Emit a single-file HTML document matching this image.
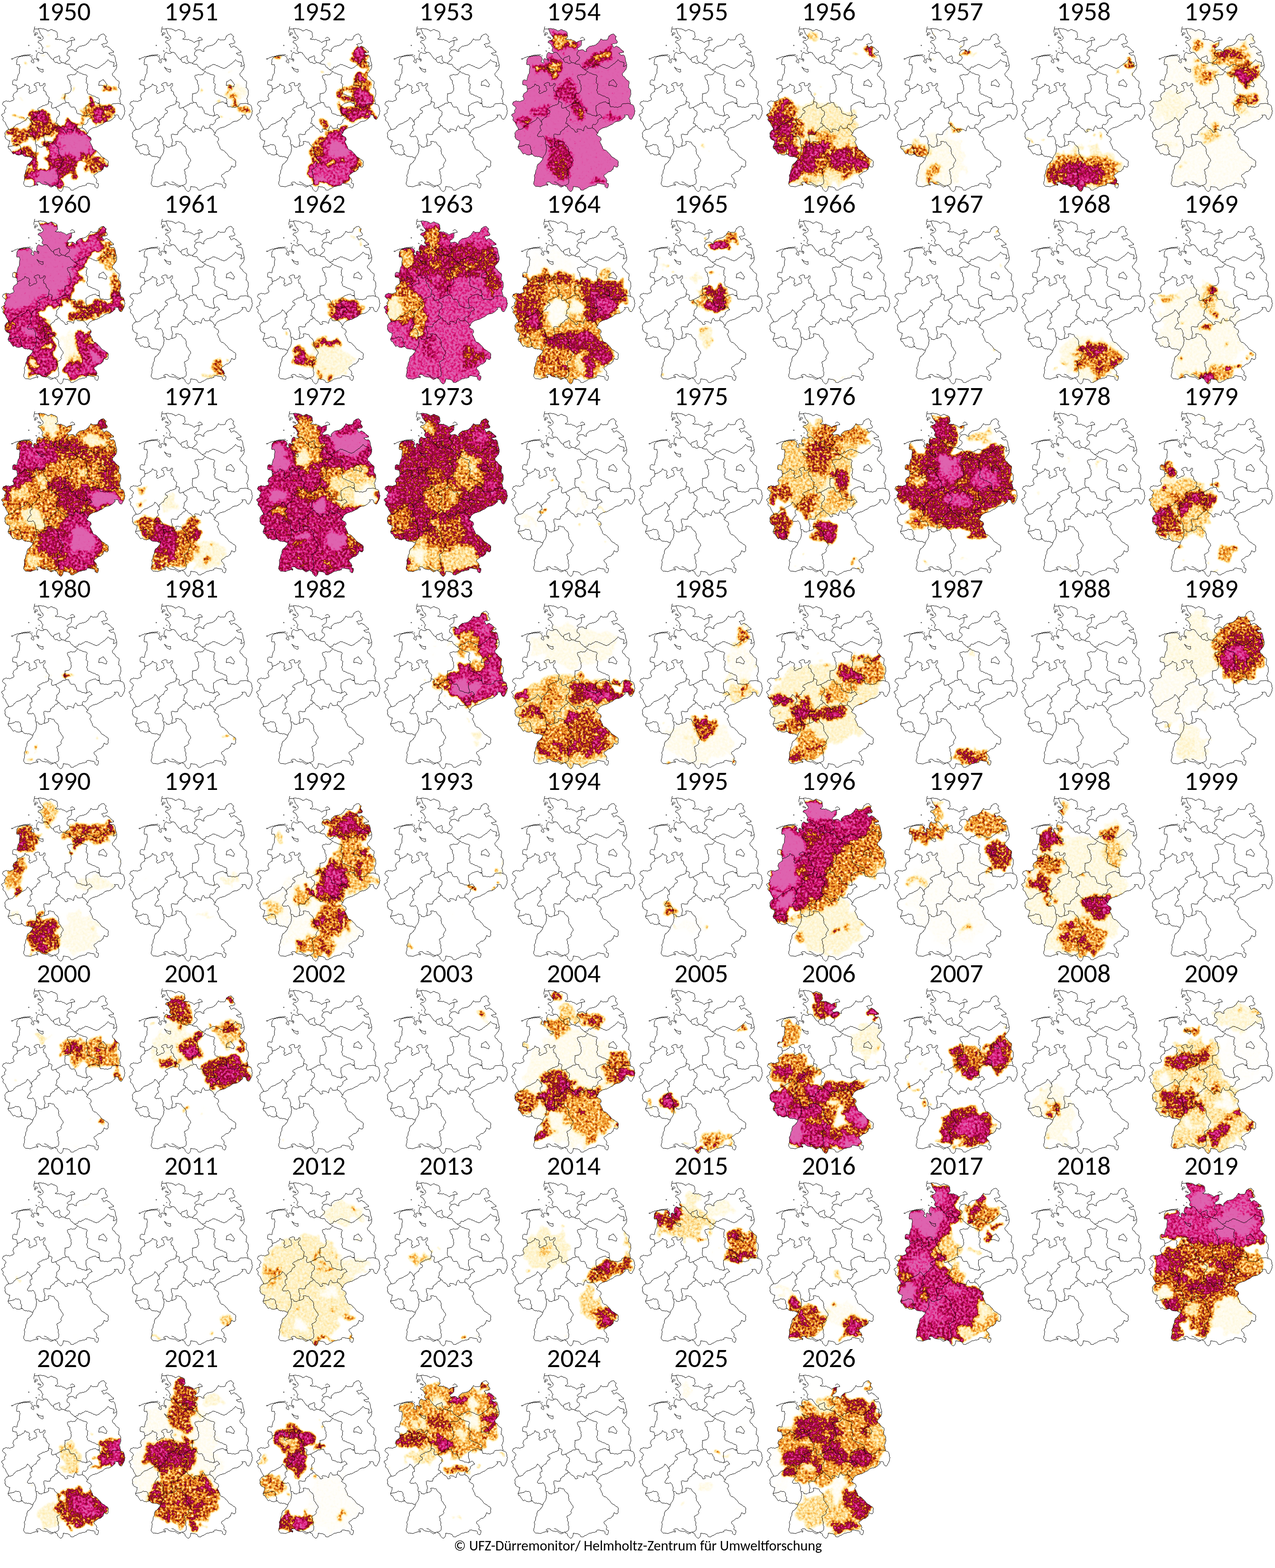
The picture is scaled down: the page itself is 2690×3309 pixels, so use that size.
<!DOCTYPE html><html><head><meta charset="utf-8"><title>UFZ Dürremonitor</title><style>html,body{margin:0;padding:0;background:#fff}body{width:2690px;height:3309px;overflow:hidden}svg{display:block}text{font-family:Carlito,"Liberation Sans",sans-serif}</style></head><body>
<svg width="2690" height="3309" viewBox="0 0 2690 3309">
<defs>
<clipPath id="de"><path d="M86.0 10.5 92.7 10.5 101.0 12.2 105.3 15.6 109.5 14.3 113.8 12.2 118.0 14.7 123.0 16.4 125.6 19.4 126.4 25.3 125.6 29.5 121.3 32.4 135.0 33.7 145.1 39.6 151.9 36.2 155.2 35.4 156.1 36.2 155.6 44.7 150.2 49.7 146.4 53.1 150.2 56.5 156.1 54.8 160.3 55.6 162.0 58.1 166.2 59.0 165.3 54.8 170.4 49.7 173.8 47.2 184.7 45.5 192.3 39.6 196.5 32.0 202.4 34.5 210.8 33.7 213.4 26.1 218.4 22.8 222.6 21.5 229.4 27.0 227.7 32.0 231.9 38.8 230.2 41.3 222.6 42.1 219.3 43.8 224.3 50.6 230.2 47.2 236.1 51.4 244.5 58.1 244.5 60.7 238.7 61.5 234.4 62.4 238.7 65.7 245.4 66.6 247.1 69.9 248.8 77.5 250.4 84.3 251.3 90.2 249.6 96.9 244.5 102.8 242.0 105.3 242.9 109.5 247.9 114.6 256.3 122.2 255.5 130.6 254.7 134.8 258.9 139.0 259.7 143.3 258.9 151.7 256.3 157.6 258.0 163.5 259.7 166.9 258.9 169.4 265.6 172.7 267.3 180.0 269.0 184.2 267.3 191.0 263.9 196.9 261.4 201.9 258.0 201.1 255.5 196.9 254.7 193.5 250.4 192.6 246.2 192.6 247.9 196.9 242.9 201.1 234.4 206.1 226.0 207.8 219.3 212.9 210.8 217.1 204.1 219.6 197.4 222.1 192.3 226.3 190.6 230.6 187.2 233.9 192.3 238.1 196.5 240.7 197.4 244.0 194.0 249.1 197.4 254.2 199.9 260.1 202.4 265.1 207.5 267.6 211.7 271.9 216.7 276.9 221.8 282.0 226.0 284.5 231.1 287.9 233.6 292.1 233.6 299.7 231.1 303.0 224.3 300.5 222.6 307.2 217.6 311.5 210.8 314.0 204.9 318.2 203.3 321.6 206.6 325.8 210.0 331.7 208.3 335.9 212.5 337.6 212.5 342.6 210.8 346.8 206.6 345.2 204.1 339.3 199.9 338.4 194.8 337.6 188.9 336.7 187.2 340.9 179.7 341.8 171.2 344.3 163.7 348.5 160.3 351.1 154.4 351.1 151.0 346.0 143.4 344.3 138.4 343.5 138.4 346.8 135.0 353.6 132.3 354.4 129.8 351.9 126.4 346.8 123.9 343.5 119.7 341.0 116.3 343.5 112.9 345.2 105.3 340.1 97.7 339.3 92.7 337.6 88.5 334.2 84.3 334.2 80.9 336.7 85.1 338.4 84.3 341.8 80.9 340.1 75.8 341.8 69.1 344.3 64.0 343.5 59.0 343.5 54.8 338.4 55.2 335.1 56.5 327.5 56.5 319.9 59.0 313.1 61.5 306.4 63.2 298.0 68.3 292.9 72.5 288.7 74.2 283.6 67.4 281.1 59.0 280.3 54.8 278.6 52.2 275.2 48.9 276.1 45.5 277.7 41.3 276.9 36.2 273.5 32.9 275.2 30.3 271.0 27.0 266.0 22.8 262.6 21.9 260.1 22.8 257.5 25.3 251.6 26.1 247.4 19.4 244.9 15.2 239.0 15.2 232.2 17.7 227.2 22.8 223.0 21.9 219.6 19.4 215.4 16.9 210.3 12.6 205.3 11.0 202.8 12.6 198.5 10.1 195.2 8.0 193.5 9.3 191.0 16.0 186.7 14.3 185.1 16.9 180.0 17.7 177.8 16.0 175.3 11.8 171.9 10.1 168.5 11.8 165.2 16.9 163.1 24.4 164.3 32.0 162.2 34.5 160.1 33.7 155.9 31.6 153.4 35.4 146.6 41.3 143.3 42.1 139.0 41.3 133.1 39.6 129.8 32.0 128.9 31.6 126.4 32.0 120.5 33.7 118.8 39.6 119.7 41.3 118.8 42.1 113.8 43.0 109.5 45.5 105.3 45.9 101.1 46.8 92.7 46.3 86.8 40.4 86.4 40.0 84.3 40.4 77.5 42.1 73.3 45.5 69.9 50.6 68.3 59.0 67.4 67.4 67.4 69.9 69.1 72.5 72.5 72.5 77.5 70.4 78.8 71.6 80.9 75.0 83.4 76.7 81.7 75.8 78.4 76.7 74.2 79.2 73.7 82.6 75.8 83.4 74.2 82.2 71.6 82.6 67.4 84.3 62.4 87.6 60.3 92.7 62.8 96.9 62.4 97.7 60.7 95.2 59.0 93.5 55.6 94.4 53.9 96.1 50.6 93.5 48.0 91.9 43.8 89.3 41.3 85.1 39.6 86.0 37.1 89.3 35.4 94.4 32.9 96.9 30.3 92.7 24.4 88.5 16.9Z"/></clipPath>
<g id="bd" fill="none" stroke="#000" stroke-width="0.95" stroke-linejoin="round"><path d="M86.0 10.5 88.2 10.2 90.5 9.9 92.7 10.5 94.7 11.2 97.0 10.6 98.9 11.8 101.0 12.2 102.6 13.1 104.4 13.8 105.3 15.6 107.4 15.0 109.5 14.3 111.3 12.5 113.8 12.2 116.0 13.3 118.0 14.7 120.7 14.8 123.0 16.4 124.9 17.4 125.6 19.4 126.0 21.3 125.6 23.4 126.4 25.3 126.7 27.5 125.6 29.5 123.7 31.4 121.3 32.4 123.2 32.8 125.1 33.6 127.2 33.1 129.1 33.0 131.0 34.2 133.1 32.7 135.0 33.7 136.4 35.2 138.6 35.3 140.4 36.1 142.1 37.0 143.6 38.3 145.1 39.6 147.1 39.3 148.2 37.4 150.3 37.2 151.9 36.2 155.2 35.4 156.1 36.2 155.7 38.3 156.1 40.5 155.6 42.6 155.6 44.7 154.8 46.5 153.4 47.8 151.9 48.8 150.2 49.7 148.1 51.2 146.4 53.1 148.4 54.7 150.2 56.5 152.1 55.6 154.2 55.5 156.1 54.8 158.2 55.1 160.3 55.6 162.0 58.1 164.2 58.2 166.2 59.0 166.3 56.8 165.3 54.8 166.8 53.8 167.5 51.9 169.2 51.1 170.4 49.7 172.1 48.5 173.8 47.2 175.7 47.6 177.5 47.0 179.2 46.0 181.2 46.9 182.8 45.1 184.7 45.5 186.1 44.2 188.0 43.5 188.9 41.5 190.8 40.8 192.3 39.6 192.6 37.3 194.7 35.9 195.9 34.1 196.5 32.0 198.4 33.0 200.2 34.3 202.4 34.5 204.5 34.0 206.6 34.4 208.7 34.1 210.8 33.7 211.6 31.8 212.0 29.9 213.3 28.2 213.4 26.1 215.5 25.7 216.7 23.9 218.4 22.8 220.6 22.4 222.6 21.5 224.8 22.3 225.8 24.5 227.5 25.8 229.4 27.0 227.7 29.2 227.7 32.0 228.3 34.0 230.1 35.2 231.0 37.0 231.9 38.8 230.2 41.3 228.3 41.2 226.5 42.6 224.5 42.0 222.6 42.1 221.2 43.5 219.3 43.8 221.1 45.1 222.4 46.7 222.7 49.2 224.3 50.6 225.9 48.9 228.0 47.9 230.2 47.2 231.8 48.1 232.8 49.8 235.1 49.7 236.1 51.4 237.8 52.7 239.4 54.1 240.7 56.0 242.5 57.2 244.5 58.1 244.5 60.7 242.5 60.3 240.7 61.6 238.7 61.5 236.6 62.1 234.4 62.4 236.0 63.3 236.8 65.1 238.7 65.7 240.8 66.8 243.3 65.7 245.4 66.6 246.8 68.0 247.1 69.9 248.0 71.7 248.4 73.6 248.4 75.6 248.8 77.5 249.2 79.8 250.3 81.9 250.4 84.3 251.6 86.1 251.1 88.2 251.3 90.2 251.0 92.5 250.1 94.6 249.6 96.9 247.7 97.8 246.8 99.6 245.8 101.3 244.5 102.8 242.0 105.3 242.2 107.4 242.9 109.5 244.3 111.4 246.8 112.3 247.9 114.6 248.8 116.4 250.4 117.5 251.6 118.9 253.1 120.1 255.0 120.8 256.3 122.2 256.3 124.3 256.6 126.5 255.5 128.5 255.5 130.6 255.9 132.8 254.7 134.8 256.7 135.6 257.9 137.2 258.9 139.0 259.9 141.0 259.7 143.3 259.8 145.4 260.1 147.6 260.0 149.7 258.9 151.7 258.6 153.9 257.8 155.9 256.3 157.6 257.1 159.5 258.3 161.3 258.0 163.5 258.2 165.5 259.7 166.9 258.9 169.4 260.5 170.4 262.5 170.5 264.1 171.5 265.6 172.7 266.3 174.5 266.7 176.3 267.5 178.0 267.3 180.0 267.6 182.3 269.0 184.2 267.6 186.3 267.9 188.7 267.3 191.0 266.2 193.0 265.7 195.3 263.9 196.9 263.7 198.9 262.5 200.4 261.4 201.9 258.0 201.1 256.4 199.2 255.5 196.9 254.7 193.5 252.7 192.5 250.4 192.6 248.3 193.2 246.2 192.6 247.8 194.4 247.9 196.9 245.7 197.7 244.5 199.7 242.9 201.1 241.5 202.6 239.5 203.0 238.2 204.8 236.1 205.1 234.4 206.1 232.1 205.7 230.1 206.3 228.0 207.0 226.0 207.8 224.6 209.4 222.8 210.5 221.3 212.1 219.3 212.9 217.4 213.3 215.9 214.5 214.0 215.0 212.6 216.5 210.8 217.1 208.7 218.4 206.1 218.2 204.1 219.6 201.6 219.6 199.4 220.7 197.4 222.1 195.3 223.1 193.6 224.5 192.3 226.3 191.0 228.3 190.6 230.6 189.2 232.6 187.2 233.9 188.9 235.3 190.8 236.5 192.3 238.1 194.8 238.7 196.5 240.7 197.4 244.0 197.0 246.2 195.5 247.6 194.0 249.1 195.5 250.6 196.0 252.7 197.4 254.2 197.5 256.5 199.2 258.1 199.9 260.1 200.0 262.1 200.8 263.8 202.4 265.1 203.7 266.7 205.9 266.5 207.5 267.6 209.3 268.7 210.7 270.1 211.7 271.9 213.8 273.2 215.4 274.9 216.7 276.9 217.8 278.3 218.7 280.0 220.1 281.2 221.8 282.0 223.9 283.2 226.0 284.5 227.5 285.9 229.1 287.2 231.1 287.9 233.0 289.6 233.6 292.1 233.3 294.0 232.9 295.9 233.1 297.8 233.6 299.7 232.0 301.1 231.1 303.0 229.4 302.4 227.5 302.3 226.2 300.6 224.3 300.5 224.0 302.8 222.6 304.8 222.6 307.2 220.4 308.0 219.4 310.2 217.6 311.5 216.0 312.3 213.9 312.0 212.4 313.0 210.8 314.0 209.7 315.5 208.2 316.6 206.7 317.7 204.9 318.2 203.4 319.6 203.3 321.6 204.5 324.0 206.6 325.8 208.3 327.4 208.4 330.0 210.0 331.7 208.3 333.5 208.3 335.9 210.3 337.0 212.5 337.6 212.8 340.1 212.5 342.6 211.6 344.7 210.8 346.8 208.5 346.6 206.6 345.2 205.0 343.6 205.7 340.9 204.1 339.3 202.1 338.6 199.9 338.4 197.4 338.0 194.8 337.6 193.0 336.5 190.8 337.1 188.9 336.7 187.4 338.5 187.2 340.9 185.3 340.5 183.5 341.9 181.6 342.0 179.7 341.8 177.7 342.8 175.6 343.5 173.3 343.5 171.2 344.3 169.5 345.7 167.5 346.5 165.9 348.0 163.7 348.5 161.6 349.2 160.3 351.1 158.3 351.4 156.4 351.2 154.4 351.1 153.4 349.3 152.7 347.3 151.0 346.0 149.1 345.7 147.4 344.4 145.3 344.7 143.4 344.3 140.9 343.8 138.4 343.5 138.4 346.8 137.5 348.5 137.5 350.6 135.9 351.9 135.0 353.6 132.3 354.4 129.8 351.9 128.2 350.5 126.8 349.0 126.4 346.8 125.6 344.8 123.9 343.5 121.5 342.8 119.7 341.0 118.0 342.3 116.3 343.5 114.4 344.0 112.9 345.2 111.4 344.1 109.7 343.4 108.4 342.1 106.9 341.0 105.3 340.1 103.5 339.4 101.4 340.4 99.6 339.4 97.7 339.3 95.1 338.9 92.7 337.6 91.0 336.8 90.2 335.0 88.5 334.2 86.4 334.2 84.3 334.2 82.5 335.4 80.9 336.7 82.8 338.0 85.1 338.4 84.3 341.8 82.9 340.3 80.9 340.1 78.4 341.0 75.8 341.8 73.5 342.4 71.3 343.5 69.1 344.3 66.6 343.9 64.0 343.5 61.5 343.2 59.0 343.5 57.5 341.9 56.2 340.1 54.8 338.4 55.2 335.1 55.5 333.2 56.6 331.4 56.5 329.5 56.5 327.5 57.2 325.6 57.3 323.7 56.1 321.8 56.5 319.9 57.2 318.2 58.5 316.8 58.9 315.0 59.0 313.1 59.2 310.6 60.0 308.4 61.5 306.4 61.8 304.3 61.6 302.0 62.3 300.0 63.2 298.0 63.9 296.2 66.0 295.7 67.4 294.5 68.3 292.9 70.2 292.0 70.7 289.7 72.5 288.7 73.7 286.3 74.2 283.6 72.6 282.7 70.6 283.0 69.3 281.1 67.4 281.1 65.4 280.1 63.2 281.2 61.2 279.7 59.0 280.3 56.8 279.6 54.8 278.6 53.5 276.9 52.2 275.2 48.9 276.1 46.8 276.1 45.5 277.7 43.5 276.7 41.3 276.9 39.3 276.3 37.8 274.7 36.2 273.5 34.5 274.3 32.9 275.2 31.4 273.3 30.3 271.0 28.7 269.6 27.8 267.8 27.0 266.0 25.9 264.6 23.7 264.4 22.8 262.6 21.9 260.1 22.8 257.5 23.7 255.6 24.4 253.5 25.3 251.6 24.8 249.3 26.1 247.4 23.8 246.9 21.7 245.5 19.4 244.9 18.4 243.4 16.7 242.4 17.0 240.0 15.2 239.0 15.7 236.7 16.0 234.5 15.2 232.2 15.4 230.2 16.5 228.7 17.7 227.2 18.9 225.2 21.4 224.8 22.8 223.0 21.9 219.6 20.3 217.7 19.4 215.4 18.0 214.0 17.6 212.1 16.9 210.3 16.0 208.2 14.5 206.6 12.6 205.3 11.0 202.8 11.4 200.5 12.6 198.5 10.8 197.2 10.1 195.2 8.0 193.5 9.3 191.0 11.4 190.6 12.7 189.0 14.5 188.1 16.0 186.7 14.3 185.1 14.5 183.1 15.3 181.3 16.9 180.0 17.7 177.8 16.0 175.3 14.8 173.9 13.1 173.1 11.8 171.9 10.3 170.5 10.1 168.5 11.7 167.2 11.8 165.2 13.6 164.7 15.4 164.3 16.9 163.1 18.9 162.7 20.5 164.3 22.6 163.2 24.4 164.3 26.5 164.4 28.2 163.2 30.0 162.4 32.0 162.2 34.5 160.1 34.2 158.0 33.7 155.9 31.6 153.4 33.2 152.1 33.1 149.8 33.9 148.0 35.4 146.6 37.4 145.5 39.1 144.0 41.3 143.3 41.0 141.0 42.1 139.0 41.2 137.1 40.8 135.2 41.3 133.1 40.0 131.7 39.6 129.8 37.7 129.9 35.8 129.7 34.0 128.7 32.0 128.9 31.6 126.4 31.4 124.4 31.9 122.5 32.0 120.5 33.7 118.8 35.8 118.5 37.7 119.1 39.6 119.7 41.3 118.8 40.8 116.2 42.1 113.8 42.1 111.6 43.0 109.5 43.5 107.0 45.5 105.3 46.1 103.2 45.9 101.1 46.2 99.0 45.8 96.8 46.5 94.8 46.8 92.7 47.4 90.7 45.8 88.8 46.3 86.8 44.4 86.1 42.4 86.7 40.4 86.4 40.0 84.3 40.1 82.0 40.9 79.8 40.4 77.5 41.1 75.3 42.1 73.3 43.8 71.6 45.5 69.9 48.2 69.4 50.6 68.3 52.8 68.9 54.8 67.6 57.0 68.2 59.0 67.4 61.1 67.8 63.2 67.6 65.3 67.2 67.4 67.4 69.9 69.1 71.4 70.6 72.5 72.5 73.3 75.0 72.5 77.5 70.4 78.8 71.6 80.9 73.7 81.6 75.0 83.4 76.7 81.7 75.8 78.4 75.5 76.1 76.7 74.2 79.2 73.7 80.7 75.1 82.6 75.8 83.4 74.2 82.2 71.6 82.0 69.5 82.6 67.4 82.9 64.7 84.3 62.4 85.5 60.7 87.6 60.3 89.0 61.7 90.7 62.6 92.7 62.8 94.8 62.9 96.9 62.4 97.7 60.7 95.2 59.0 94.0 57.5 93.5 55.6 94.4 53.9 94.8 52.0 96.1 50.6 94.5 49.6 93.5 48.0 92.6 45.9 91.9 43.8 90.2 43.0 89.3 41.3 87.2 40.5 85.1 39.6 86.0 37.1 87.5 35.9 89.3 35.4 91.4 35.3 93.1 34.5 94.4 32.9 95.7 31.7 96.9 30.3 95.5 29.1 95.5 26.9 93.5 26.1 92.7 24.4 91.4 22.7 89.8 21.1 89.4 18.9 88.5 16.9 87.6 14.8 86.8 12.6Z"/><path d="M97.7 60.7 99.8 60.4 102.0 60.3 103.6 61.2 105.3 61.9 105.7 63.9 107.5 65.1 108.4 66.7 109.5 68.3 110.5 70.1 112.2 71.3 112.9 73.3 114.6 74.2 116.2 75.2 118.0 75.8"/><path d="M118.0 75.8 118.0 74.2 119.7 71.6 123.0 70.8 125.1 69.9 127.2 69.1 129.8 67.4 130.4 69.2 131.5 70.8 130.6 74.2 130.8 76.4 131.5 78.4 133.6 79.6 134.8 81.7 132.3 83.4 129.8 84.3 127.2 83.4 125.6 80.9 124.0 81.8 122.2 82.2 119.7 80.1 118.5 78.1 118.0 75.8"/><path d="M150.2 56.5 149.4 58.2 147.7 59.1 146.8 60.7 146.3 63.2 146.4 65.7 147.3 67.4 149.5 67.8 150.9 69.2 151.9 70.8 151.7 73.5 150.2 75.8 148.8 77.5 146.5 78.0 145.5 80.2 143.4 80.9 142.7 82.6 142.2 84.3"/><path d="M134.8 81.7 138.0 82.5 140.4 82.7 142.2 84.3 144.1 85.0 146.0 85.2 147.9 86.1 150.0 85.3 151.9 86.0 153.1 87.5 153.5 89.3 154.6 90.9 156.1 92.0 158.0 92.8 158.9 94.6 160.7 95.5 162.0 96.9"/><path d="M162.0 96.9 164.3 97.5 166.4 95.5 168.7 96.1 169.9 94.2 170.4 91.9 172.6 91.0 175.0 92.2 177.1 91.0 178.3 89.1 180.9 89.2 182.4 87.7 184.3 86.8 185.6 85.1 186.9 86.7 189.2 86.1 190.8 87.0 192.2 88.4 194.2 88.4 195.9 89.1 197.4 90.2 199.8 90.6 201.6 92.5 204.1 92.7 205.9 93.9 207.9 94.3 210.0 94.4 211.4 92.9 213.8 92.8 215.1 91.0 216.8 89.9 218.2 88.4 220.1 87.6 221.8 86.4 223.1 84.8 225.2 84.3 226.6 83.0 227.5 81.3 229.1 80.1 230.8 79.1 231.7 77.4 232.8 75.8 234.2 77.0 235.3 78.4 237.1 79.7 239.1 80.6 241.4 80.4 243.1 81.8 245.4 81.7 245.8 84.0 245.2 86.1 244.7 88.2 243.7 90.2 246.2 90.1 248.3 88.8 250.4 87.6"/><path d="M162.0 96.9 163.8 97.7 165.4 99.0 167.1 99.9 168.7 101.1 167.6 102.5 166.5 103.9 164.9 105.0 164.3 106.8 162.8 107.9 160.7 107.4 158.5 108.3 156.5 107.6 154.4 107.0 152.8 107.9 151.2 108.9 149.1 108.5 147.6 109.5 146.8 111.7 147.9 113.2 148.0 115.3 149.3 116.7 149.8 118.6 151.9 119.3 152.7 121.0 152.0 123.1 152.7 125.2 153.0 127.1 154.1 128.7 155.2 130.2 154.4 133.6 155.5 135.7 155.0 138.1 155.2 140.3 153.9 141.9 153.2 143.9 151.8 145.4 150.0 146.4 148.0 146.9 146.0 147.1 143.9 147.9 141.7 147.9 142.6 149.6 141.8 151.8 142.3 154.1 141.7 156.3 141.8 158.4 141.7 160.6 142.3 162.4 142.7 164.3 144.3 165.6"/><path d="M168.7 101.1 170.4 102.0 171.8 103.3 173.4 104.4 175.6 104.1 177.1 105.3 179.1 106.4 181.2 107.0 183.4 107.5 185.6 107.9 187.7 108.6 188.9 110.4 188.8 112.5 187.2 113.8 187.4 115.9 186.8 118.0 187.6 120.1 187.2 122.2 186.4 124.7 187.8 125.8 189.4 126.7 190.6 128.1 189.7 130.3 189.3 132.5 189.8 134.8 189.4 137.1 187.8 139.1 188.1 141.6 189.7 143.3 189.2 145.8 190.6 147.5 192.2 148.9 194.7 148.6 196.2 150.3 198.2 150.8 199.8 151.6 201.3 152.9 203.4 152.4 204.9 153.6 206.6 154.2 208.0 155.7 209.9 156.1 211.9 156.4 213.4 157.6 214.7 159.6 213.8 162.3 215.1 164.3 214.2 167.7 210.8 167.7"/><path d="M187.2 195.1 187.5 192.8 188.9 190.9 188.3 188.3 187.2 185.8 186.6 183.9 186.1 182.0 186.4 180.0 186.4 177.7 186.4 175.5 186.4 173.2 188.1 172.7 189.6 171.6 191.0 170.5 192.3 169.2 194.0 168.5 195.5 167.4 197.5 167.5 198.9 166.2 200.8 166.2 202.4 165.2 204.6 165.3 206.6 164.3 207.6 165.9 208.9 167.2 210.8 167.7"/><path d="M210.8 167.7 212.9 168.4 215.1 168.5 215.1 170.9 216.1 173.0 216.7 175.3 219.0 175.3 221.2 175.1 223.5 175.3 225.4 176.6 227.8 175.8 229.9 176.0 231.9 177.0 233.7 175.9 235.6 175.3 237.5 174.8 239.5 174.4 240.0 172.5 240.5 170.8 242.0 169.4 244.1 168.9 246.2 168.6 248.3 168.8 250.4 168.5 252.6 168.2 254.7 168.2 256.8 168.6 258.9 169.4"/><path d="M144.3 165.6 146.2 166.6 148.2 166.5 150.2 166.5 150.4 168.4 150.8 170.1 152.6 171.4 152.6 173.3 153.5 174.9 155.2 176.0 157.1 176.2 159.1 176.0 161.0 175.7 162.8 176.6 163.8 178.2 163.7 180.3 165.3 181.6 166.6 183.7 166.7 186.1 167.0 188.4 168.7 190.0 171.0 190.0 172.9 190.9 174.8 191.0 176.4 191.8 177.7 193.5 179.7 193.4 181.6 193.5 183.5 194.1 185.3 194.9 187.2 195.1"/><path d="M187.2 195.1 188.6 193.6 190.8 193.3 192.4 192.2 194.0 191.0 195.5 192.7 197.3 194.0 198.0 196.4 199.9 197.7 197.7 198.0 196.0 199.3 194.0 200.2 192.6 201.3 191.5 202.8 189.8 203.6 190.7 205.7 189.8 207.8 188.6 209.6 186.9 211.1 185.6 212.9 183.3 213.2 181.3 212.0 179.6 213.4 178.8 215.4 178.8 219.0"/><path d="M178.8 219.0 179.9 221.2 182.6 221.7 183.9 223.8 186.2 225.4 187.2 228.0 188.4 230.0 190.6 230.6"/><path d="M127.4 214.5 130.8 215.3 131.5 217.3 132.7 218.8 134.0 220.2 135.8 221.2 137.9 221.7 139.1 223.6 140.9 224.6 141.9 226.6 142.6 228.8 146.0 228.8 148.5 227.1 146.0 224.6 147.6 222.1 150.1 222.6 152.7 222.9 154.7 223.1 156.3 224.1 157.7 225.4 160.3 226.3 160.8 224.0 160.9 221.6 162.0 219.5 163.2 217.4 164.5 215.3 166.3 216.5 167.4 218.3 167.9 220.4 169.8 221.0 171.9 220.8 173.8 221.2 175.5 220.5 177.3 220.1 178.8 219.0"/><path d="M144.3 165.6 142.6 168.1 140.1 167.7 137.5 168.1 135.7 168.8 135.1 170.8 133.3 171.5 131.0 171.5 129.6 173.7 127.4 174.0 125.6 174.6 124.4 176.4 122.4 176.6 120.1 177.0 118.1 178.3 114.8 178.3 113.9 176.6 113.3 174.1 113.9 171.5 114.7 169.5 114.8 167.3 112.2 165.6 110.0 164.8 107.7 164.8"/><path d="M122.4 176.6 123.4 178.2 124.0 180.0 125.2 182.0 127.0 183.3 129.1 184.2 130.4 185.6 130.8 187.5 130.1 190.1 130.8 192.6 128.9 194.1 128.0 196.5 125.7 197.6 124.5 200.0 124.9 202.7 124.7 204.7 124.0 206.6 123.2 208.4 122.4 210.3 124.5 210.9 126.6 211.1 127.4 214.5"/><path d="M41.8 137.5 44.0 137.6 46.1 136.3 48.3 136.5 49.6 135.0 51.5 134.5 52.5 132.7 54.8 132.7 56.1 131.2 57.0 129.4 57.0 127.3 59.4 128.0 61.2 130.7 63.6 130.2 65.8 131.4 67.6 134.0 66.7 135.7 66.4 137.7 65.8 139.5 67.3 140.8 69.0 141.8 66.8 142.8 65.8 145.0 67.6 147.3 69.7 147.5 71.3 145.9 73.2 145.5 75.2 144.6 76.4 142.7 79.2 143.2 81.1 142.2 82.4 140.4 82.8 138.3 81.5 136.7 80.7 134.6 81.5 132.6 79.8 130.8 77.3 130.3 76.9 128.0 78.9 126.2 81.5 125.2 83.9 124.1 86.5 124.3 88.4 125.2 88.4 127.0 88.1 128.9 88.8 130.7 90.9 131.4 92.8 130.2 94.8 130.3 96.5 129.1 96.6 126.7 98.5 125.7 100.4 126.6 99.6 128.4 100.4 130.3 98.8 132.4 96.7 134.0 96.2 136.3 97.6 138.6 97.1 141.3 98.9 142.1 100.8 142.7 101.9 144.9 102.5 147.1 102.2 149.6 104.2 150.4 104.9 152.5 106.4 153.8 109.1 156.1 108.5 158.4 108.2 160.7 107.4 162.7 107.7 164.8"/><path d="M107.7 164.8 107.2 166.9 107.2 169.0 104.9 169.9 103.0 171.5 101.0 170.9 99.3 172.5 97.4 173.0 95.4 172.4 93.7 174.9 91.3 175.2 89.3 176.8 87.0 177.4 85.9 178.8 84.4 179.9 85.3 182.5 88.7 183.3 89.5 186.7 87.8 189.2 85.5 189.5 83.6 190.9 83.3 192.9 81.9 194.3 81.1 197.6 78.7 197.8 76.9 199.3 75.5 200.4 74.5 202.2 72.6 202.7 71.5 205.1 71.8 207.7"/><path d="M71.8 207.7 70.1 206.4 69.0 204.7 68.4 202.7 66.9 200.9 65.1 199.3 62.5 197.6 61.8 199.9 60.7 201.9 59.0 203.6 56.9 204.9 54.8 206.1 52.8 207.1 50.6 207.8 49.2 209.5 47.2 210.3 44.7 211.3 42.1 212.0 39.7 212.7 37.9 214.5 36.6 216.3 34.5 217.1 33.7 219.6 31.9 221.3 29.5 222.1 27.4 223.2 25.1 223.2 22.8 223.0"/><path d="M71.8 207.7 72.0 209.7 72.6 211.6 72.6 213.6 70.3 213.9 68.4 215.3 68.8 217.4 68.4 219.5 69.2 221.5 70.4 223.3 71.0 225.4 69.7 226.7 67.6 227.0 66.7 228.8 66.0 230.9 64.2 232.2 63.4 234.3 62.5 236.4 64.1 237.3 65.1 238.9 67.1 238.2 69.3 238.1 71.4 238.7 73.2 237.2 75.2 237.2 76.1 238.8 77.5 240.0 78.5 241.5 78.5 243.5 79.4 245.2 80.4 247.0 80.2 249.0 79.9 251.2 79.4 253.3 81.1 255.8"/><path d="M81.1 255.8 81.3 257.8 82.0 259.7 81.9 261.7 82.5 263.9 81.2 265.9 81.8 268.0 81.1 270.1 80.6 272.5 79.5 274.6 78.5 276.8 77.2 278.4 75.6 279.7 75.3 281.9 74.2 283.6"/><path d="M81.1 255.8 83.4 255.3 85.3 256.6 86.8 258.0 87.0 260.0 89.5 260.2 92.0 260.8 94.0 260.5 95.6 258.9 97.5 258.3 99.6 258.3"/><path d="M99.6 258.3 98.4 255.9 98.8 253.3 99.1 250.6 100.4 248.2 99.2 246.1 99.4 243.5 97.9 241.5 97.6 239.2 97.8 236.9 97.1 234.7 98.4 233.2 100.4 233.0 102.7 233.3 104.9 234.2 107.2 233.9 110.6 233.9 110.9 231.9 111.9 230.1 111.4 228.0 113.4 227.5 114.6 225.7 115.9 224.1 118.1 223.8 119.6 222.7 119.8 220.5 121.5 219.5 122.8 217.9 125.1 218.2 126.6 217.0 127.4 214.5"/><path d="M99.6 258.3 101.6 257.6 103.5 256.8 105.5 256.3 107.2 254.9 108.0 251.6 106.3 249.0 108.2 248.3 110.3 248.7 112.2 248.2 113.7 249.5 115.3 250.1 117.5 249.5 119.0 250.7 119.6 252.9 120.7 254.9 122.1 256.1 123.6 257.1 124.6 258.8 126.6 259.2 127.4 261.5 128.4 263.6 129.1 265.9 128.3 268.0 128.9 270.1 129.5 272.2 129.1 274.3 130.4 275.6 131.2 277.2 132.9 278.3 133.3 280.2 134.6 282.0 135.8 283.9 137.5 285.3 138.1 287.6 138.4 290.0 136.7 291.5 135.4 293.2 134.8 295.4 133.1 298.0 134.8 300.5 133.1 302.5 131.5 304.7 129.4 305.2 127.8 307.0 125.6 307.2 124.7 309.8 126.3 312.0 126.4 314.8 126.0 317.1 127.6 318.9 128.2 321.0 128.1 323.2 127.6 325.4 128.1 327.5 129.4 329.5 128.9 331.7 129.0 333.7 128.8 335.7 128.1 337.6 126.2 339.2 123.9 340.1 122.0 341.4 119.7 341.0"/><path d="M21.9 260.1 24.4 259.2 26.3 258.8 28.2 258.5 30.2 258.5 32.0 257.5 34.0 257.4 35.7 256.7 37.0 255.1 38.8 254.6 40.9 255.8 43.3 255.3 45.5 255.8 47.0 257.3 48.0 259.2 48.7 261.8 48.0 264.3 49.3 266.0 50.6 267.6 50.8 269.9 49.7 271.9 50.6 275.2 52.2 275.2"/><path d="M213.4 128.1 213.8 126.1 214.4 124.2 214.2 122.2 216.1 121.8 217.9 121.1 219.3 119.7 221.3 118.5 223.5 118.0 224.1 120.2 226.0 121.3 227.2 123.1 228.2 125.0 229.5 126.7 231.1 128.1 229.5 130.4 229.4 133.1 227.3 133.0 225.4 132.3 223.5 131.5 221.1 130.3 218.4 129.8 215.9 130.0 213.4 130.6 213.4 128.1"/><path d="M82.6 91.4 84.7 92.4 86.1 94.7 88.5 95.2 90.3 96.2 92.2 96.4 94.1 96.4 96.1 96.1 95.6 98.7 96.5 101.1 94.8 102.4 92.7 102.0 90.7 100.5 88.5 99.4 87.0 98.2 86.5 96.1 84.9 95.0 83.9 93.3 82.6 91.9"/><path d="M84.5 74.2 86.6 74.5 87.0 78.0 85.5 79.5 84.5 77.5 84.5 74.2"/><path d="M30.8 74.6 33.0 73.7 34.9 72.2 37.1 71.2 39.2 71.1 41.0 69.4 43.2 70.0 45.1 69.0 47.2 68.7 49.2 68.5 51.0 67.3 53.0 67.1 55.0 66.6 57.0 66.2 59.0 66.1 61.2 66.2 63.2 65.5 65.4 66.0 67.4 64.9 69.9 65.7"/><path d="M78.6 6.0 77.6 9.0 77.6 11.4 76.6 13.5 76.7 16.0 76.3 18.5"/><path d="M77.8 11.5 79.9 11.2 82.0 11.0 84.1 11.4 86.0 10.5"/><path d="M153.5 32.0 154.6 30.2 156.1 28.7 158.3 28.8 160.3 29.9 162.1 31.9 162.8 34.5 160.2 34.2 157.8 35.4 155.2 35.4"/><path d="M98.0 333.2 99.6 334.4 101.9 334.3 103.4 335.7 105.0 337.0 107.0 337.6 108.3 339.4 110.1 340.3 112.0 341.0 113.8 342.4 116.4 341.8 118.2 343.3"/></g>
<g id="isl" fill="none" stroke="#000" stroke-width="0.9"><ellipse cx="81.5" cy="20.5" rx="3" ry="1.8"/><ellipse cx="78.8" cy="23.5" rx="1.2" ry="2"/><ellipse cx="86.5" cy="28.7" rx="1.8" ry="1.3"/><ellipse cx="90" cy="30.5" rx="1.3" ry="1"/><ellipse cx="65.7" cy="45.9" rx="0.8" ry="0.8"/><ellipse cx="87.6" cy="51.8" rx="0.6" ry="0.6"/><ellipse cx="80.9" cy="57.3" rx="0.5" ry="0.5"/><ellipse cx="82.2" cy="58.1" rx="0.5" ry="0.5"/><ellipse cx="72.5" cy="67.8" rx="0.6" ry="0.5"/><ellipse cx="30.3" cy="74.4" rx="1.2" ry="0.8"/></g>
<filter id="f0" x="-5" y="-5" width="285" height="370" filterUnits="userSpaceOnUse" color-interpolation-filters="sRGB">
<feTurbulence type="fractalNoise" baseFrequency="0.045" numOctaves="2" seed="103" result="dn"/>
<feDisplacementMap in="SourceGraphic" in2="dn" scale="45" xChannelSelector="R" yChannelSelector="G" result="disp"/>
<feGaussianBlur in="disp" stdDeviation="2.5" result="b"/>
<feComponentTransfer in="b" result="A"><feFuncR type="table" tableValues="0.000 0.050 0.120 0.300 0.500 0.650 0.700 0.650 0.550 0.350 0.200"/><feFuncG type="table" tableValues="0.000 0.050 0.120 0.300 0.500 0.650 0.700 0.650 0.550 0.350 0.200"/><feFuncB type="table" tableValues="0.000 0.050 0.120 0.300 0.500 0.650 0.700 0.650 0.550 0.350 0.200"/></feComponentTransfer>
<feTurbulence type="fractalNoise" baseFrequency="0.2" numOctaves="3" seed="3" result="n"/>
<feColorMatrix in="n" type="matrix" values="1 0 0 0 0 1 0 0 0 0 1 0 0 0 0 0 0 0 0 1" result="n2"/>
<feComposite in="A" in2="n2" operator="arithmetic" k1="1" k2="-0.5" k3="0" k4="0.5" result="m"/>
<feComposite in="b" in2="m" operator="arithmetic" k1="0" k2="1" k3="1.4" k4="-0.71" result="c"/>
<feComponentTransfer in="c"><feFuncR type="table" tableValues="1.000 1.000 1.000 1.000 1.000 1.000 1.000 0.999 0.998 0.997 0.996 0.992 0.985 0.978 0.971 0.956 0.934 0.913 0.891 0.835 0.755 0.675 0.608 0.559 0.510 0.480 0.529 0.578 0.627 0.683 0.738 0.793 0.826 0.855 0.883 0.889 0.881 0.872 0.871 0.871 0.871"/><feFuncG type="table" tableValues="1.000 1.000 1.000 1.000 0.997 0.990 0.983 0.970 0.952 0.935 0.917 0.876 0.820 0.765 0.709 0.651 0.592 0.533 0.475 0.400 0.314 0.228 0.157 0.108 0.059 0.020 0.020 0.020 0.020 0.032 0.044 0.056 0.083 0.114 0.145 0.203 0.280 0.357 0.378 0.385 0.392"/><feFuncB type="table" tableValues="1.000 0.999 0.998 0.997 0.980 0.941 0.902 0.850 0.791 0.731 0.671 0.585 0.482 0.379 0.276 0.212 0.173 0.133 0.094 0.071 0.059 0.047 0.054 0.091 0.127 0.163 0.194 0.224 0.255 0.304 0.353 0.402 0.446 0.489 0.532 0.576 0.621 0.666 0.679 0.685 0.690"/><feFuncA type="linear" slope="0" intercept="1"/></feComponentTransfer>
</filter>
<filter id="f1" x="-5" y="-5" width="285" height="370" filterUnits="userSpaceOnUse" color-interpolation-filters="sRGB">
<feTurbulence type="fractalNoise" baseFrequency="0.045" numOctaves="2" seed="110" result="dn"/>
<feDisplacementMap in="SourceGraphic" in2="dn" scale="45" xChannelSelector="R" yChannelSelector="G" result="disp"/>
<feGaussianBlur in="disp" stdDeviation="2.5" result="b"/>
<feComponentTransfer in="b" result="A"><feFuncR type="table" tableValues="0.000 0.050 0.120 0.300 0.500 0.650 0.700 0.650 0.550 0.350 0.200"/><feFuncG type="table" tableValues="0.000 0.050 0.120 0.300 0.500 0.650 0.700 0.650 0.550 0.350 0.200"/><feFuncB type="table" tableValues="0.000 0.050 0.120 0.300 0.500 0.650 0.700 0.650 0.550 0.350 0.200"/></feComponentTransfer>
<feTurbulence type="fractalNoise" baseFrequency="0.2" numOctaves="3" seed="10" result="n"/>
<feColorMatrix in="n" type="matrix" values="1 0 0 0 0 1 0 0 0 0 1 0 0 0 0 0 0 0 0 1" result="n2"/>
<feComposite in="A" in2="n2" operator="arithmetic" k1="1" k2="-0.5" k3="0" k4="0.5" result="m"/>
<feComposite in="b" in2="m" operator="arithmetic" k1="0" k2="1" k3="1.4" k4="-0.71" result="c"/>
<feComponentTransfer in="c"><feFuncR type="table" tableValues="1.000 1.000 1.000 1.000 1.000 1.000 1.000 0.999 0.998 0.997 0.996 0.992 0.985 0.978 0.971 0.956 0.934 0.913 0.891 0.835 0.755 0.675 0.608 0.559 0.510 0.480 0.529 0.578 0.627 0.683 0.738 0.793 0.826 0.855 0.883 0.889 0.881 0.872 0.871 0.871 0.871"/><feFuncG type="table" tableValues="1.000 1.000 1.000 1.000 0.997 0.990 0.983 0.970 0.952 0.935 0.917 0.876 0.820 0.765 0.709 0.651 0.592 0.533 0.475 0.400 0.314 0.228 0.157 0.108 0.059 0.020 0.020 0.020 0.020 0.032 0.044 0.056 0.083 0.114 0.145 0.203 0.280 0.357 0.378 0.385 0.392"/><feFuncB type="table" tableValues="1.000 0.999 0.998 0.997 0.980 0.941 0.902 0.850 0.791 0.731 0.671 0.585 0.482 0.379 0.276 0.212 0.173 0.133 0.094 0.071 0.059 0.047 0.054 0.091 0.127 0.163 0.194 0.224 0.255 0.304 0.353 0.402 0.446 0.489 0.532 0.576 0.621 0.666 0.679 0.685 0.690"/><feFuncA type="linear" slope="0" intercept="1"/></feComponentTransfer>
</filter>
<filter id="f2" x="-5" y="-5" width="285" height="370" filterUnits="userSpaceOnUse" color-interpolation-filters="sRGB">
<feTurbulence type="fractalNoise" baseFrequency="0.045" numOctaves="2" seed="117" result="dn"/>
<feDisplacementMap in="SourceGraphic" in2="dn" scale="45" xChannelSelector="R" yChannelSelector="G" result="disp"/>
<feGaussianBlur in="disp" stdDeviation="2.5" result="b"/>
<feComponentTransfer in="b" result="A"><feFuncR type="table" tableValues="0.000 0.050 0.120 0.300 0.500 0.650 0.700 0.650 0.550 0.350 0.200"/><feFuncG type="table" tableValues="0.000 0.050 0.120 0.300 0.500 0.650 0.700 0.650 0.550 0.350 0.200"/><feFuncB type="table" tableValues="0.000 0.050 0.120 0.300 0.500 0.650 0.700 0.650 0.550 0.350 0.200"/></feComponentTransfer>
<feTurbulence type="fractalNoise" baseFrequency="0.2" numOctaves="3" seed="17" result="n"/>
<feColorMatrix in="n" type="matrix" values="1 0 0 0 0 1 0 0 0 0 1 0 0 0 0 0 0 0 0 1" result="n2"/>
<feComposite in="A" in2="n2" operator="arithmetic" k1="1" k2="-0.5" k3="0" k4="0.5" result="m"/>
<feComposite in="b" in2="m" operator="arithmetic" k1="0" k2="1" k3="1.4" k4="-0.71" result="c"/>
<feComponentTransfer in="c"><feFuncR type="table" tableValues="1.000 1.000 1.000 1.000 1.000 1.000 1.000 0.999 0.998 0.997 0.996 0.992 0.985 0.978 0.971 0.956 0.934 0.913 0.891 0.835 0.755 0.675 0.608 0.559 0.510 0.480 0.529 0.578 0.627 0.683 0.738 0.793 0.826 0.855 0.883 0.889 0.881 0.872 0.871 0.871 0.871"/><feFuncG type="table" tableValues="1.000 1.000 1.000 1.000 0.997 0.990 0.983 0.970 0.952 0.935 0.917 0.876 0.820 0.765 0.709 0.651 0.592 0.533 0.475 0.400 0.314 0.228 0.157 0.108 0.059 0.020 0.020 0.020 0.020 0.032 0.044 0.056 0.083 0.114 0.145 0.203 0.280 0.357 0.378 0.385 0.392"/><feFuncB type="table" tableValues="1.000 0.999 0.998 0.997 0.980 0.941 0.902 0.850 0.791 0.731 0.671 0.585 0.482 0.379 0.276 0.212 0.173 0.133 0.094 0.071 0.059 0.047 0.054 0.091 0.127 0.163 0.194 0.224 0.255 0.304 0.353 0.402 0.446 0.489 0.532 0.576 0.621 0.666 0.679 0.685 0.690"/><feFuncA type="linear" slope="0" intercept="1"/></feComponentTransfer>
</filter>
<filter id="f3" x="-5" y="-5" width="285" height="370" filterUnits="userSpaceOnUse" color-interpolation-filters="sRGB">
<feTurbulence type="fractalNoise" baseFrequency="0.045" numOctaves="2" seed="124" result="dn"/>
<feDisplacementMap in="SourceGraphic" in2="dn" scale="45" xChannelSelector="R" yChannelSelector="G" result="disp"/>
<feGaussianBlur in="disp" stdDeviation="2.5" result="b"/>
<feComponentTransfer in="b" result="A"><feFuncR type="table" tableValues="0.000 0.050 0.120 0.300 0.500 0.650 0.700 0.650 0.550 0.350 0.200"/><feFuncG type="table" tableValues="0.000 0.050 0.120 0.300 0.500 0.650 0.700 0.650 0.550 0.350 0.200"/><feFuncB type="table" tableValues="0.000 0.050 0.120 0.300 0.500 0.650 0.700 0.650 0.550 0.350 0.200"/></feComponentTransfer>
<feTurbulence type="fractalNoise" baseFrequency="0.2" numOctaves="3" seed="24" result="n"/>
<feColorMatrix in="n" type="matrix" values="1 0 0 0 0 1 0 0 0 0 1 0 0 0 0 0 0 0 0 1" result="n2"/>
<feComposite in="A" in2="n2" operator="arithmetic" k1="1" k2="-0.5" k3="0" k4="0.5" result="m"/>
<feComposite in="b" in2="m" operator="arithmetic" k1="0" k2="1" k3="1.4" k4="-0.71" result="c"/>
<feComponentTransfer in="c"><feFuncR type="table" tableValues="1.000 1.000 1.000 1.000 1.000 1.000 1.000 0.999 0.998 0.997 0.996 0.992 0.985 0.978 0.971 0.956 0.934 0.913 0.891 0.835 0.755 0.675 0.608 0.559 0.510 0.480 0.529 0.578 0.627 0.683 0.738 0.793 0.826 0.855 0.883 0.889 0.881 0.872 0.871 0.871 0.871"/><feFuncG type="table" tableValues="1.000 1.000 1.000 1.000 0.997 0.990 0.983 0.970 0.952 0.935 0.917 0.876 0.820 0.765 0.709 0.651 0.592 0.533 0.475 0.400 0.314 0.228 0.157 0.108 0.059 0.020 0.020 0.020 0.020 0.032 0.044 0.056 0.083 0.114 0.145 0.203 0.280 0.357 0.378 0.385 0.392"/><feFuncB type="table" tableValues="1.000 0.999 0.998 0.997 0.980 0.941 0.902 0.850 0.791 0.731 0.671 0.585 0.482 0.379 0.276 0.212 0.173 0.133 0.094 0.071 0.059 0.047 0.054 0.091 0.127 0.163 0.194 0.224 0.255 0.304 0.353 0.402 0.446 0.489 0.532 0.576 0.621 0.666 0.679 0.685 0.690"/><feFuncA type="linear" slope="0" intercept="1"/></feComponentTransfer>
</filter>
<filter id="f4" x="-5" y="-5" width="285" height="370" filterUnits="userSpaceOnUse" color-interpolation-filters="sRGB">
<feTurbulence type="fractalNoise" baseFrequency="0.045" numOctaves="2" seed="131" result="dn"/>
<feDisplacementMap in="SourceGraphic" in2="dn" scale="45" xChannelSelector="R" yChannelSelector="G" result="disp"/>
<feGaussianBlur in="disp" stdDeviation="2.5" result="b"/>
<feComponentTransfer in="b" result="A"><feFuncR type="table" tableValues="0.000 0.050 0.120 0.300 0.500 0.650 0.700 0.650 0.550 0.350 0.200"/><feFuncG type="table" tableValues="0.000 0.050 0.120 0.300 0.500 0.650 0.700 0.650 0.550 0.350 0.200"/><feFuncB type="table" tableValues="0.000 0.050 0.120 0.300 0.500 0.650 0.700 0.650 0.550 0.350 0.200"/></feComponentTransfer>
<feTurbulence type="fractalNoise" baseFrequency="0.2" numOctaves="3" seed="31" result="n"/>
<feColorMatrix in="n" type="matrix" values="1 0 0 0 0 1 0 0 0 0 1 0 0 0 0 0 0 0 0 1" result="n2"/>
<feComposite in="A" in2="n2" operator="arithmetic" k1="1" k2="-0.5" k3="0" k4="0.5" result="m"/>
<feComposite in="b" in2="m" operator="arithmetic" k1="0" k2="1" k3="1.4" k4="-0.71" result="c"/>
<feComponentTransfer in="c"><feFuncR type="table" tableValues="1.000 1.000 1.000 1.000 1.000 1.000 1.000 0.999 0.998 0.997 0.996 0.992 0.985 0.978 0.971 0.956 0.934 0.913 0.891 0.835 0.755 0.675 0.608 0.559 0.510 0.480 0.529 0.578 0.627 0.683 0.738 0.793 0.826 0.855 0.883 0.889 0.881 0.872 0.871 0.871 0.871"/><feFuncG type="table" tableValues="1.000 1.000 1.000 1.000 0.997 0.990 0.983 0.970 0.952 0.935 0.917 0.876 0.820 0.765 0.709 0.651 0.592 0.533 0.475 0.400 0.314 0.228 0.157 0.108 0.059 0.020 0.020 0.020 0.020 0.032 0.044 0.056 0.083 0.114 0.145 0.203 0.280 0.357 0.378 0.385 0.392"/><feFuncB type="table" tableValues="1.000 0.999 0.998 0.997 0.980 0.941 0.902 0.850 0.791 0.731 0.671 0.585 0.482 0.379 0.276 0.212 0.173 0.133 0.094 0.071 0.059 0.047 0.054 0.091 0.127 0.163 0.194 0.224 0.255 0.304 0.353 0.402 0.446 0.489 0.532 0.576 0.621 0.666 0.679 0.685 0.690"/><feFuncA type="linear" slope="0" intercept="1"/></feComponentTransfer>
</filter>
<filter id="f5" x="-5" y="-5" width="285" height="370" filterUnits="userSpaceOnUse" color-interpolation-filters="sRGB">
<feTurbulence type="fractalNoise" baseFrequency="0.045" numOctaves="2" seed="138" result="dn"/>
<feDisplacementMap in="SourceGraphic" in2="dn" scale="45" xChannelSelector="R" yChannelSelector="G" result="disp"/>
<feGaussianBlur in="disp" stdDeviation="2.5" result="b"/>
<feComponentTransfer in="b" result="A"><feFuncR type="table" tableValues="0.000 0.050 0.120 0.300 0.500 0.650 0.700 0.650 0.550 0.350 0.200"/><feFuncG type="table" tableValues="0.000 0.050 0.120 0.300 0.500 0.650 0.700 0.650 0.550 0.350 0.200"/><feFuncB type="table" tableValues="0.000 0.050 0.120 0.300 0.500 0.650 0.700 0.650 0.550 0.350 0.200"/></feComponentTransfer>
<feTurbulence type="fractalNoise" baseFrequency="0.2" numOctaves="3" seed="38" result="n"/>
<feColorMatrix in="n" type="matrix" values="1 0 0 0 0 1 0 0 0 0 1 0 0 0 0 0 0 0 0 1" result="n2"/>
<feComposite in="A" in2="n2" operator="arithmetic" k1="1" k2="-0.5" k3="0" k4="0.5" result="m"/>
<feComposite in="b" in2="m" operator="arithmetic" k1="0" k2="1" k3="1.4" k4="-0.71" result="c"/>
<feComponentTransfer in="c"><feFuncR type="table" tableValues="1.000 1.000 1.000 1.000 1.000 1.000 1.000 0.999 0.998 0.997 0.996 0.992 0.985 0.978 0.971 0.956 0.934 0.913 0.891 0.835 0.755 0.675 0.608 0.559 0.510 0.480 0.529 0.578 0.627 0.683 0.738 0.793 0.826 0.855 0.883 0.889 0.881 0.872 0.871 0.871 0.871"/><feFuncG type="table" tableValues="1.000 1.000 1.000 1.000 0.997 0.990 0.983 0.970 0.952 0.935 0.917 0.876 0.820 0.765 0.709 0.651 0.592 0.533 0.475 0.400 0.314 0.228 0.157 0.108 0.059 0.020 0.020 0.020 0.020 0.032 0.044 0.056 0.083 0.114 0.145 0.203 0.280 0.357 0.378 0.385 0.392"/><feFuncB type="table" tableValues="1.000 0.999 0.998 0.997 0.980 0.941 0.902 0.850 0.791 0.731 0.671 0.585 0.482 0.379 0.276 0.212 0.173 0.133 0.094 0.071 0.059 0.047 0.054 0.091 0.127 0.163 0.194 0.224 0.255 0.304 0.353 0.402 0.446 0.489 0.532 0.576 0.621 0.666 0.679 0.685 0.690"/><feFuncA type="linear" slope="0" intercept="1"/></feComponentTransfer>
</filter>
</defs>
<rect width="2690" height="3309" fill="#fff"/>
<text x="134.5" y="42.6" font-size="56" text-anchor="middle" textLength="113.5" lengthAdjust="spacingAndGlyphs" fill="#000">1950</text>
<g transform="translate(-5.0 50.0)">
<g clip-path="url(#de)"><g filter="url(#f0)"><rect x="-40" y="-40" width="360" height="440" fill="#000"/>

<ellipse cx="215.7" cy="185.4" rx="37.1" ry="23.6" fill="rgb(89,89,89)"/>
<ellipse cx="182.0" cy="202.3" rx="13.5" ry="6.7" fill="rgb(115,115,115)"/>
<ellipse cx="89.3" cy="215.7" rx="28.7" ry="28.7" fill="rgb(128,128,128)"/>
<ellipse cx="48.8" cy="236.0" rx="20.2" ry="15.2" fill="rgb(128,128,128)"/>
<ellipse cx="55.6" cy="278.1" rx="27.0" ry="15.2" fill="rgb(140,140,140)"/>
<ellipse cx="161.8" cy="257.9" rx="47.2" ry="32.0" fill="rgb(204,204,204)"/>
<ellipse cx="106.1" cy="328.7" rx="32.0" ry="25.3" fill="rgb(204,204,204)"/>
<ellipse cx="133.1" cy="286.5" rx="33.7" ry="43.8" fill="rgb(178,178,178)"/>
<ellipse cx="198.8" cy="295.0" rx="25.3" ry="18.5" fill="rgb(128,128,128)"/>
<ellipse cx="161.8" cy="256.2" rx="38.8" ry="25.3" fill="rgb(255,255,255)"/>
<ellipse cx="99.4" cy="325.3" rx="30.3" ry="21.9" fill="rgb(255,255,255)"/>
<ellipse cx="75.8" cy="320.2" rx="10.1" ry="10.1" fill="rgb(217,217,217)"/>
<ellipse cx="123.0" cy="273.0" rx="15.2" ry="15.2" fill="rgb(230,230,230)"/>
<ellipse cx="222.4" cy="305.1" rx="11.8" ry="8.4" fill="rgb(191,191,191)"/>
<ellipse cx="212.3" cy="279.8" rx="8.4" ry="6.7" fill="rgb(204,204,204)"/>
<ellipse cx="43.8" cy="278.1" rx="18.5" ry="10.1" fill="rgb(199,199,199)"/>
<ellipse cx="69.0" cy="300.0" rx="11.8" ry="10.1" fill="rgb(191,191,191)"/>
<ellipse cx="35.3" cy="234.3" rx="8.4" ry="8.4" fill="rgb(178,178,178)"/>
<ellipse cx="92.6" cy="197.2" rx="10.1" ry="11.8" fill="rgb(204,204,204)"/>
<ellipse cx="82.5" cy="222.5" rx="10.1" ry="8.4" fill="rgb(191,191,191)"/>
<ellipse cx="131.4" cy="219.1" rx="15.2" ry="11.8" fill="rgb(178,178,178)"/>
<ellipse cx="75.8" cy="190.5" rx="10.1" ry="6.7" fill="rgb(140,140,140)"/>
<ellipse cx="43.8" cy="192.1" rx="6.7" ry="4.2" fill="rgb(191,191,191)"/>
<ellipse cx="47.1" cy="161.8" rx="10.1" ry="7.6" fill="rgb(51,51,51)"/>
<ellipse cx="151.6" cy="215.7" rx="20.2" ry="11.8" fill="rgb(217,217,217)"/>
<ellipse cx="198.8" cy="165.2" rx="10.1" ry="10.1" fill="rgb(217,217,217)"/>
<ellipse cx="232.5" cy="170.2" rx="8.4" ry="9.3" fill="rgb(204,204,204)"/>
<ellipse cx="210.6" cy="190.5" rx="13.5" ry="9.3" fill="rgb(217,217,217)"/>
<ellipse cx="244.3" cy="190.5" rx="8.4" ry="6.7" fill="rgb(204,204,204)"/>
<ellipse cx="224.1" cy="202.3" rx="6.7" ry="6.7" fill="rgb(204,204,204)"/>
<ellipse cx="234.2" cy="139.9" rx="18.5" ry="7.6" fill="rgb(140,140,140)"/>
<ellipse cx="106.1" cy="25.3" rx="5.1" ry="5.1" fill="rgb(76,76,76)"/>
<ellipse cx="104.4" cy="48.9" rx="7.6" ry="4.2" fill="rgb(89,89,89)"/>
<ellipse cx="58.9" cy="80.9" rx="7.6" ry="4.2" fill="rgb(102,102,102)"/>
<ellipse cx="92.6" cy="64.0" rx="3.4" ry="3.4" fill="rgb(76,76,76)"/>
<ellipse cx="161.8" cy="143.3" rx="3.4" ry="3.4" fill="rgb(153,153,153)"/>
<ellipse cx="138.2" cy="155.1" rx="2.5" ry="2.5" fill="rgb(153,153,153)"/>
<ellipse cx="144.9" cy="160.1" rx="2.5" ry="1.7" fill="rgb(204,204,204)"/>
</g></g>
<use href="#bd"/><use href="#isl"/></g>
<text x="403.5" y="42.6" font-size="56" text-anchor="middle" textLength="113.5" lengthAdjust="spacingAndGlyphs" fill="#000">1951</text>
<g transform="translate(264.0 50.0)">
<g clip-path="url(#de)"><g filter="url(#f1)"><rect x="-40" y="-40" width="360" height="440" fill="#000"/>

<ellipse cx="232.4" cy="145.7" rx="24.8" ry="21.7" fill="rgb(41,41,41)"/>
<ellipse cx="221.6" cy="134.8" rx="8.7" ry="6.8" fill="rgb(204,204,204)"/>
<ellipse cx="229.3" cy="164.9" rx="6.8" ry="5.6" fill="rgb(191,191,191)"/>
<ellipse cx="229.3" cy="164.9" rx="12.4" ry="9.9" fill="rgb(115,115,115)"/>
<ellipse cx="216.9" cy="155.0" rx="3.7" ry="3.7" fill="rgb(128,128,128)"/>
<ellipse cx="247.9" cy="185.9" rx="18.6" ry="12.4" fill="rgb(115,115,115)"/>
<ellipse cx="261.9" cy="185.9" rx="5.0" ry="6.8" fill="rgb(178,178,178)"/>
<ellipse cx="206.1" cy="190.6" rx="4.3" ry="3.1" fill="rgb(128,128,128)"/>
<ellipse cx="218.5" cy="199.9" rx="3.1" ry="2.5" fill="rgb(166,166,166)"/>
<ellipse cx="193.7" cy="161.2" rx="7.7" ry="4.6" fill="rgb(102,102,102)"/>
<ellipse cx="158.1" cy="143.2" rx="3.7" ry="3.7" fill="rgb(115,115,115)"/>
<ellipse cx="221.6" cy="283.6" rx="3.1" ry="3.1" fill="rgb(128,128,128)"/>
<ellipse cx="238.6" cy="99.2" rx="12.4" ry="6.2" fill="rgb(41,41,41)"/>
</g></g>
<use href="#bd"/><use href="#isl"/></g>
<text x="672.5" y="42.6" font-size="56" text-anchor="middle" textLength="113.5" lengthAdjust="spacingAndGlyphs" fill="#000">1952</text>
<g transform="translate(533.0 50.0)">
<g clip-path="url(#de)"><g filter="url(#f2)"><rect x="-40" y="-40" width="360" height="440" fill="#000"/>

<ellipse cx="226.8" cy="71.3" rx="21.7" ry="18.6" fill="rgb(128,128,128)"/>
<ellipse cx="225.3" cy="62.0" rx="10.8" ry="10.8" fill="rgb(217,217,217)"/>
<ellipse cx="214.5" cy="74.4" rx="9.3" ry="7.7" fill="rgb(204,204,204)"/>
<ellipse cx="239.2" cy="93.0" rx="9.3" ry="18.6" fill="rgb(115,115,115)"/>
<ellipse cx="226.8" cy="111.6" rx="9.3" ry="9.3" fill="rgb(217,217,217)"/>
<ellipse cx="229.9" cy="136.4" rx="31.0" ry="24.8" fill="rgb(115,115,115)"/>
<ellipse cx="233.0" cy="158.1" rx="23.2" ry="15.5" fill="rgb(204,204,204)"/>
<ellipse cx="239.2" cy="155.0" rx="9.3" ry="6.2" fill="rgb(230,230,230)"/>
<ellipse cx="189.7" cy="151.9" rx="13.9" ry="13.9" fill="rgb(153,153,153)"/>
<ellipse cx="220.6" cy="189.0" rx="43.4" ry="17.0" fill="rgb(140,140,140)"/>
<ellipse cx="226.8" cy="193.7" rx="27.9" ry="10.8" fill="rgb(204,204,204)"/>
<ellipse cx="186.6" cy="185.9" rx="6.8" ry="9.3" fill="rgb(204,204,204)"/>
<ellipse cx="152.5" cy="213.8" rx="13.9" ry="7.7" fill="rgb(153,153,153)"/>
<ellipse cx="180.4" cy="278.9" rx="58.9" ry="52.7" fill="rgb(128,128,128)"/>
<ellipse cx="180.4" cy="272.7" rx="43.4" ry="37.2" fill="rgb(217,217,217)"/>
<ellipse cx="164.9" cy="316.1" rx="49.6" ry="27.9" fill="rgb(224,224,224)"/>
<ellipse cx="133.9" cy="325.4" rx="17.0" ry="17.0" fill="rgb(230,230,230)"/>
<ellipse cx="195.9" cy="235.5" rx="15.5" ry="12.4" fill="rgb(204,204,204)"/>
<ellipse cx="183.5" cy="263.4" rx="18.6" ry="18.6" fill="rgb(255,255,255)"/>
<ellipse cx="143.2" cy="328.5" rx="12.4" ry="12.4" fill="rgb(255,255,255)"/>
<ellipse cx="171.1" cy="297.5" rx="9.3" ry="7.7" fill="rgb(38,38,38)"/>
<ellipse cx="189.7" cy="294.4" rx="6.2" ry="4.6" fill="rgb(26,26,26)"/>
<ellipse cx="47.1" cy="79.0" rx="8.7" ry="7.7" fill="rgb(153,153,153)"/>
<ellipse cx="34.7" cy="74.4" rx="3.1" ry="2.5" fill="rgb(204,204,204)"/>
<ellipse cx="149.4" cy="99.2" rx="7.7" ry="6.2" fill="rgb(115,115,115)"/>
<ellipse cx="164.9" cy="80.6" rx="4.6" ry="4.6" fill="rgb(64,64,64)"/>
<ellipse cx="31.6" cy="207.6" rx="4.6" ry="3.7" fill="rgb(51,51,51)"/>
</g></g>
<use href="#bd"/><use href="#isl"/></g>
<text x="941.5" y="42.6" font-size="56" text-anchor="middle" textLength="113.5" lengthAdjust="spacingAndGlyphs" fill="#000">1953</text>
<g transform="translate(802.0 50.0)">
<use href="#bd"/><use href="#isl"/></g>
<text x="1210.5" y="42.6" font-size="56" text-anchor="middle" textLength="113.5" lengthAdjust="spacingAndGlyphs" fill="#000">1954</text>
<g transform="translate(1071.0 50.0)">
<g clip-path="url(#de)"><g filter="url(#f4)"><rect x="-40" y="-40" width="360" height="440" fill="#000"/>

<rect x="-40" y="-40" width="360" height="440" fill="rgb(255,255,255)"/>
<ellipse cx="118.0" cy="38.8" rx="25.3" ry="18.5" fill="rgb(191,191,191)"/>
<ellipse cx="116.3" cy="35.4" rx="18.5" ry="11.8" fill="rgb(102,102,102)"/>
<ellipse cx="104.5" cy="47.2" rx="8.4" ry="10.1" fill="rgb(89,89,89)"/>
<ellipse cx="131.5" cy="40.5" rx="10.1" ry="6.7" fill="rgb(76,76,76)"/>
<ellipse cx="101.1" cy="20.2" rx="6.7" ry="5.1" fill="rgb(153,153,153)"/>
<ellipse cx="94.4" cy="91.0" rx="27.0" ry="16.9" fill="rgb(178,178,178)"/>
<ellipse cx="72.5" cy="94.4" rx="8.4" ry="6.7" fill="rgb(76,76,76)"/>
<ellipse cx="94.4" cy="94.4" rx="10.1" ry="8.4" fill="rgb(89,89,89)"/>
<ellipse cx="109.6" cy="101.1" rx="8.4" ry="5.1" fill="rgb(89,89,89)"/>
<ellipse cx="114.6" cy="77.5" rx="4.2" ry="4.2" fill="rgb(51,51,51)"/>
<ellipse cx="193.8" cy="70.8" rx="38.8" ry="13.5" fill="rgb(178,178,178)" transform="rotate(-35 193.83111410753415 70.79049384796899)"/>
<ellipse cx="198.9" cy="67.4" rx="20.2" ry="5.1" fill="rgb(89,89,89)" transform="rotate(-35 198.88757795381764 67.41951795044666)"/>
<ellipse cx="126.4" cy="143.3" rx="25.3" ry="21.9" fill="rgb(199,199,199)"/>
<ellipse cx="148.3" cy="185.4" rx="15.2" ry="25.3" fill="rgb(191,191,191)"/>
<ellipse cx="151.7" cy="193.8" rx="6.7" ry="10.1" fill="rgb(115,115,115)"/>
<ellipse cx="37.1" cy="207.3" rx="16.9" ry="13.5" fill="rgb(191,191,191)"/>
<ellipse cx="38.8" cy="203.9" rx="5.1" ry="6.7" fill="rgb(115,115,115)"/>
<ellipse cx="109.6" cy="286.5" rx="25.3" ry="42.1" fill="rgb(191,191,191)"/>
<ellipse cx="118.0" cy="303.4" rx="13.5" ry="16.9" fill="rgb(166,166,166)"/>
<ellipse cx="219.1" cy="202.3" rx="20.2" ry="10.1" fill="rgb(204,204,204)"/>
<ellipse cx="84.3" cy="244.4" rx="13.5" ry="16.9" fill="rgb(199,199,199)"/>
<ellipse cx="82.6" cy="252.8" rx="3.4" ry="6.7" fill="rgb(115,115,115)"/>
<ellipse cx="193.8" cy="333.7" rx="20.2" ry="10.1" fill="rgb(199,199,199)"/>
<ellipse cx="70.8" cy="185.4" rx="20.2" ry="10.1" fill="rgb(204,204,204)"/>
</g></g>
<use href="#bd"/><use href="#isl"/></g>
<text x="1479.5" y="42.6" font-size="56" text-anchor="middle" textLength="113.5" lengthAdjust="spacingAndGlyphs" fill="#000">1955</text>
<g transform="translate(1340.0 50.0)">
<g clip-path="url(#de)"><g filter="url(#f5)"><rect x="-40" y="-40" width="360" height="440" fill="#000"/>

<ellipse cx="192.1" cy="216.6" rx="1.5" ry="1.5" fill="rgb(166,166,166)"/>
<ellipse cx="148.3" cy="223.3" rx="1.3" ry="1.3" fill="rgb(128,128,128)"/>
<ellipse cx="152.5" cy="259.6" rx="3.4" ry="7.6" fill="rgb(76,76,76)"/>
<ellipse cx="194.7" cy="298.3" rx="1.7" ry="2.4" fill="rgb(102,102,102)"/>
</g></g>
<use href="#bd"/><use href="#isl"/></g>
<text x="1748.5" y="42.6" font-size="56" text-anchor="middle" textLength="113.5" lengthAdjust="spacingAndGlyphs" fill="#000">1956</text>
<g transform="translate(1609.0 50.0)">
<g clip-path="url(#de)"><g filter="url(#f0)"><rect x="-40" y="-40" width="360" height="440" fill="#000"/>

<ellipse cx="108.5" cy="254.1" rx="108.5" ry="93.0" fill="rgb(56,56,56)"/>
<ellipse cx="170.4" cy="263.4" rx="62.0" ry="62.0" fill="rgb(64,64,64)"/>
<ellipse cx="108.5" cy="294.4" rx="46.5" ry="46.5" fill="rgb(64,64,64)"/>
<ellipse cx="108.5" cy="24.8" rx="18.6" ry="13.9" fill="rgb(76,76,76)"/>
<ellipse cx="80.6" cy="18.6" rx="4.6" ry="4.6" fill="rgb(153,153,153)"/>
<ellipse cx="227.8" cy="55.2" rx="13.9" ry="10.8" fill="rgb(115,115,115)"/>
<ellipse cx="227.8" cy="55.2" rx="9.3" ry="7.7" fill="rgb(199,199,199)"/>
<ellipse cx="201.4" cy="65.1" rx="4.6" ry="3.7" fill="rgb(102,102,102)"/>
<ellipse cx="117.8" cy="133.3" rx="6.2" ry="4.6" fill="rgb(115,115,115)"/>
<ellipse cx="102.3" cy="148.8" rx="4.6" ry="3.1" fill="rgb(102,102,102)"/>
<ellipse cx="43.4" cy="216.9" rx="37.2" ry="62.0" fill="rgb(115,115,115)"/>
<ellipse cx="43.4" cy="172.0" rx="9.3" ry="7.7" fill="rgb(204,204,204)"/>
<ellipse cx="37.2" cy="192.1" rx="15.5" ry="9.3" fill="rgb(191,191,191)"/>
<ellipse cx="18.6" cy="198.3" rx="6.2" ry="6.2" fill="rgb(204,204,204)"/>
<ellipse cx="27.9" cy="216.9" rx="18.6" ry="12.4" fill="rgb(178,178,178)"/>
<ellipse cx="52.7" cy="229.3" rx="12.4" ry="18.6" fill="rgb(199,199,199)"/>
<ellipse cx="24.8" cy="235.5" rx="12.4" ry="12.4" fill="rgb(204,204,204)"/>
<ellipse cx="40.3" cy="260.3" rx="18.6" ry="12.4" fill="rgb(199,199,199)"/>
<ellipse cx="62.0" cy="269.6" rx="6.2" ry="9.3" fill="rgb(204,204,204)"/>
<ellipse cx="102.3" cy="288.2" rx="37.2" ry="37.2" fill="rgb(115,115,115)"/>
<ellipse cx="108.5" cy="269.6" rx="27.9" ry="12.4" fill="rgb(199,199,199)"/>
<ellipse cx="130.2" cy="257.2" rx="12.4" ry="6.2" fill="rgb(204,204,204)"/>
<ellipse cx="93.0" cy="297.5" rx="18.6" ry="18.6" fill="rgb(191,191,191)"/>
<ellipse cx="65.1" cy="313.0" rx="12.4" ry="18.6" fill="rgb(199,199,199)"/>
<ellipse cx="179.7" cy="285.1" rx="46.5" ry="31.0" fill="rgb(128,128,128)"/>
<ellipse cx="173.5" cy="272.7" rx="15.5" ry="12.4" fill="rgb(199,199,199)"/>
<ellipse cx="192.1" cy="294.4" rx="24.8" ry="12.4" fill="rgb(204,204,204)"/>
<ellipse cx="158.1" cy="291.3" rx="12.4" ry="9.3" fill="rgb(191,191,191)"/>
<ellipse cx="210.7" cy="300.6" rx="12.4" ry="9.3" fill="rgb(204,204,204)"/>
<ellipse cx="102.3" cy="223.1" rx="4.6" ry="3.7" fill="rgb(204,204,204)"/>
<ellipse cx="77.5" cy="230.9" rx="3.1" ry="3.1" fill="rgb(204,204,204)"/>
<ellipse cx="93.0" cy="334.7" rx="9.3" ry="6.2" fill="rgb(115,115,115)"/>
<ellipse cx="127.1" cy="316.1" rx="4.6" ry="3.7" fill="rgb(153,153,153)"/>
<ellipse cx="133.3" cy="241.7" rx="18.6" ry="15.5" fill="rgb(102,102,102)"/>
</g></g>
<use href="#bd"/><use href="#isl"/></g>
<text x="2017.5" y="42.6" font-size="56" text-anchor="middle" textLength="113.5" lengthAdjust="spacingAndGlyphs" fill="#000">1957</text>
<g transform="translate(1878.0 50.0)">
<g clip-path="url(#de)"><g filter="url(#f1)"><rect x="-40" y="-40" width="360" height="440" fill="#000"/>

<ellipse cx="84.3" cy="21.7" rx="9.3" ry="9.3" fill="rgb(102,102,102)"/>
<ellipse cx="82.7" cy="18.6" rx="4.6" ry="4.6" fill="rgb(191,191,191)"/>
<ellipse cx="158.7" cy="60.4" rx="12.4" ry="6.2" fill="rgb(128,128,128)"/>
<ellipse cx="169.5" cy="55.8" rx="4.6" ry="4.6" fill="rgb(153,153,153)"/>
<ellipse cx="177.3" cy="66.6" rx="4.6" ry="3.1" fill="rgb(115,115,115)"/>
<ellipse cx="93.6" cy="74.4" rx="3.1" ry="3.1" fill="rgb(115,115,115)"/>
<ellipse cx="143.2" cy="74.4" rx="3.7" ry="3.1" fill="rgb(102,102,102)"/>
<ellipse cx="137.0" cy="223.1" rx="12.4" ry="7.7" fill="rgb(115,115,115)"/>
<ellipse cx="147.8" cy="223.1" rx="3.7" ry="3.1" fill="rgb(178,178,178)"/>
<ellipse cx="147.8" cy="251.0" rx="3.1" ry="3.1" fill="rgb(191,191,191)"/>
<ellipse cx="102.9" cy="294.4" rx="55.8" ry="62.0" fill="rgb(36,36,36)"/>
<ellipse cx="53.3" cy="266.5" rx="31.0" ry="18.6" fill="rgb(64,64,64)"/>
<ellipse cx="44.0" cy="263.4" rx="12.4" ry="9.3" fill="rgb(115,115,115)"/>
<ellipse cx="65.7" cy="272.7" rx="12.4" ry="9.3" fill="rgb(115,115,115)"/>
<ellipse cx="87.4" cy="316.1" rx="9.3" ry="24.8" fill="rgb(102,102,102)" transform="rotate(15 87.39023180860295 316.10264038676087)"/>
<ellipse cx="87.4" cy="340.9" rx="18.6" ry="9.3" fill="rgb(89,89,89)"/>
<ellipse cx="81.2" cy="337.8" rx="4.6" ry="3.1" fill="rgb(178,178,178)"/>
<ellipse cx="143.2" cy="337.8" rx="3.7" ry="3.1" fill="rgb(102,102,102)"/>
</g></g>
<use href="#bd"/><use href="#isl"/></g>
<text x="2286.5" y="42.6" font-size="56" text-anchor="middle" textLength="113.5" lengthAdjust="spacingAndGlyphs" fill="#000">1958</text>
<g transform="translate(2147.0 50.0)">
<g clip-path="url(#de)"><g filter="url(#f2)"><rect x="-40" y="-40" width="360" height="440" fill="#000"/>

<ellipse cx="139.5" cy="309.9" rx="86.8" ry="46.5" fill="rgb(51,51,51)"/>
<ellipse cx="133.3" cy="309.9" rx="80.6" ry="37.2" fill="rgb(107,107,107)"/>
<ellipse cx="136.4" cy="325.4" rx="34.1" ry="24.8" fill="rgb(199,199,199)"/>
<ellipse cx="139.5" cy="328.5" rx="15.5" ry="15.5" fill="rgb(224,224,224)"/>
<ellipse cx="130.2" cy="309.9" rx="18.6" ry="15.5" fill="rgb(191,191,191)"/>
<ellipse cx="77.5" cy="319.2" rx="21.7" ry="18.6" fill="rgb(153,153,153)"/>
<ellipse cx="99.2" cy="313.0" rx="9.3" ry="9.3" fill="rgb(178,178,178)"/>
<ellipse cx="167.3" cy="316.1" rx="15.5" ry="12.4" fill="rgb(178,178,178)"/>
<ellipse cx="204.5" cy="340.9" rx="9.3" ry="6.2" fill="rgb(191,191,191)"/>
<ellipse cx="71.3" cy="300.6" rx="6.2" ry="6.2" fill="rgb(153,153,153)"/>
<ellipse cx="62.0" cy="334.7" rx="9.3" ry="9.3" fill="rgb(128,128,128)"/>
<ellipse cx="235.5" cy="83.7" rx="12.4" ry="15.5" fill="rgb(128,128,128)"/>
<ellipse cx="246.4" cy="89.9" rx="4.6" ry="6.2" fill="rgb(204,204,204)"/>
<ellipse cx="210.7" cy="85.2" rx="3.7" ry="3.1" fill="rgb(153,153,153)"/>
<ellipse cx="207.6" cy="105.4" rx="6.2" ry="6.2" fill="rgb(102,102,102)"/>
<ellipse cx="238.6" cy="110.0" rx="3.1" ry="2.5" fill="rgb(178,178,178)"/>
<ellipse cx="31.0" cy="244.8" rx="9.3" ry="6.2" fill="rgb(115,115,115)"/>
<ellipse cx="44.9" cy="254.7" rx="4.6" ry="4.6" fill="rgb(153,153,153)"/>
<ellipse cx="148.8" cy="251.0" rx="2.8" ry="2.8" fill="rgb(204,204,204)"/>
<ellipse cx="148.8" cy="223.1" rx="3.1" ry="2.5" fill="rgb(204,204,204)"/>
<ellipse cx="156.5" cy="216.9" rx="3.1" ry="3.1" fill="rgb(115,115,115)"/>
<ellipse cx="173.5" cy="241.7" rx="6.2" ry="6.2" fill="rgb(102,102,102)"/>
<ellipse cx="96.1" cy="266.5" rx="3.7" ry="3.1" fill="rgb(115,115,115)"/>
</g></g>
<use href="#bd"/><use href="#isl"/></g>
<text x="2555.5" y="42.6" font-size="56" text-anchor="middle" textLength="113.5" lengthAdjust="spacingAndGlyphs" fill="#000">1959</text>
<g transform="translate(2416.0 50.0)">
<g clip-path="url(#de)"><g filter="url(#f3)"><rect x="-40" y="-40" width="360" height="440" fill="#000"/>

<rect x="-40" y="-40" width="360" height="440" fill="rgb(31,31,31)"/>
<ellipse cx="56.4" cy="173.5" rx="34.1" ry="31.0" fill="rgb(43,43,43)"/>
<ellipse cx="109.1" cy="44.9" rx="9.3" ry="7.7" fill="rgb(115,115,115)"/>
<ellipse cx="150.9" cy="41.8" rx="4.6" ry="7.7" fill="rgb(153,153,153)"/>
<ellipse cx="180.4" cy="68.2" rx="46.5" ry="21.7" fill="rgb(89,89,89)"/>
<ellipse cx="171.1" cy="66.6" rx="21.7" ry="12.4" fill="rgb(153,153,153)"/>
<ellipse cx="168.0" cy="65.1" rx="7.7" ry="6.2" fill="rgb(153,153,153)"/>
<ellipse cx="195.9" cy="68.2" rx="12.4" ry="6.2" fill="rgb(153,153,153)"/>
<ellipse cx="208.3" cy="108.5" rx="31.0" ry="21.7" fill="rgb(140,140,140)"/>
<ellipse cx="205.2" cy="108.5" rx="18.6" ry="12.4" fill="rgb(212,212,212)"/>
<ellipse cx="223.7" cy="124.0" rx="6.2" ry="6.2" fill="rgb(153,153,153)"/>
<ellipse cx="229.9" cy="93.0" rx="6.2" ry="4.6" fill="rgb(153,153,153)"/>
<ellipse cx="226.8" cy="28.5" rx="2.5" ry="2.5" fill="rgb(212,212,212)"/>
<ellipse cx="127.7" cy="108.5" rx="24.8" ry="21.7" fill="rgb(76,76,76)"/>
<ellipse cx="112.2" cy="89.9" rx="4.6" ry="4.6" fill="rgb(128,128,128)"/>
<ellipse cx="133.9" cy="102.3" rx="7.7" ry="6.2" fill="rgb(140,140,140)"/>
<ellipse cx="130.8" cy="120.9" rx="9.3" ry="6.2" fill="rgb(128,128,128)"/>
<ellipse cx="211.4" cy="161.2" rx="24.8" ry="12.4" fill="rgb(102,102,102)"/>
<ellipse cx="199.0" cy="156.5" rx="7.7" ry="6.2" fill="rgb(153,153,153)"/>
<ellipse cx="223.7" cy="164.2" rx="9.3" ry="6.2" fill="rgb(166,166,166)"/>
<ellipse cx="195.9" cy="176.6" rx="4.6" ry="3.7" fill="rgb(115,115,115)"/>
<ellipse cx="205.2" cy="185.9" rx="12.4" ry="6.2" fill="rgb(64,64,64)"/>
<ellipse cx="140.1" cy="235.5" rx="18.6" ry="15.5" fill="rgb(76,76,76)"/>
<ellipse cx="143.2" cy="226.2" rx="6.2" ry="3.7" fill="rgb(153,153,153)"/>
<ellipse cx="178.8" cy="229.3" rx="2.5" ry="2.5" fill="rgb(153,153,153)"/>
<ellipse cx="127.7" cy="213.8" rx="1.9" ry="1.9" fill="rgb(153,153,153)"/>
<ellipse cx="65.7" cy="257.2" rx="3.7" ry="3.1" fill="rgb(115,115,115)"/>
<ellipse cx="75.0" cy="300.6" rx="3.7" ry="3.1" fill="rgb(102,102,102)"/>
<ellipse cx="50.2" cy="254.1" rx="6.2" ry="4.6" fill="rgb(64,64,64)"/>
</g></g>
<use href="#bd"/><use href="#isl"/></g>
<text x="134.5" y="448.6" font-size="56" text-anchor="middle" textLength="113.5" lengthAdjust="spacingAndGlyphs" fill="#000">1960</text>
<g transform="translate(-5.0 456.0)">
<g clip-path="url(#de)"><g filter="url(#f4)"><rect x="-40" y="-40" width="360" height="440" fill="#000"/>

<path d="M79.4 6.2 129.0 10.8 166.2 31.0 153.8 55.8 178.5 58.9 194.0 37.2 221.9 21.7 228.1 62.0 197.1 80.6 181.6 96.1 178.5 130.2 163.1 161.2 144.5 179.7 129.0 192.1 107.3 189.0 82.5 204.5 67.0 223.1 36.0 229.3 11.2 213.8 6.5 155.0 29.8 130.2 29.8 74.4 67.0 62.0 76.3 37.2Z" fill="rgb(217,217,217)"/>
<path d="M82.5 12.4 125.9 15.5 153.8 34.1 144.5 62.0 166.2 74.4 163.1 108.5 144.5 139.5 122.8 161.2 98.0 173.5 67.0 185.9 36.0 198.3 17.4 185.9 17.4 155.0 39.1 124.0 39.1 77.5 76.3 62.0Z" fill="rgb(255,255,255)"/>
<ellipse cx="197.1" cy="55.8" rx="24.8" ry="18.6" fill="rgb(230,230,230)"/>
<ellipse cx="234.3" cy="77.5" rx="21.7" ry="18.6" fill="rgb(115,115,115)"/>
<ellipse cx="221.9" cy="37.2" rx="7.7" ry="9.3" fill="rgb(166,166,166)"/>
<ellipse cx="240.5" cy="102.3" rx="12.4" ry="18.6" fill="rgb(89,89,89)"/>
<ellipse cx="249.8" cy="148.8" rx="12.4" ry="24.8" fill="rgb(115,115,115)"/>
<ellipse cx="252.9" cy="173.5" rx="17.0" ry="15.5" fill="rgb(191,191,191)"/>
<ellipse cx="221.9" cy="192.1" rx="27.9" ry="13.9" fill="rgb(178,178,178)"/>
<ellipse cx="178.5" cy="185.9" rx="18.6" ry="9.3" fill="rgb(128,128,128)"/>
<ellipse cx="153.8" cy="182.8" rx="9.3" ry="9.3" fill="rgb(128,128,128)"/>
<ellipse cx="203.3" cy="204.5" rx="62.0" ry="13.9" fill="rgb(153,153,153)" transform="rotate(-10 203.33891161522251 204.53700260319823)"/>
<ellipse cx="246.7" cy="185.9" rx="18.6" ry="12.4" fill="rgb(204,204,204)"/>
<ellipse cx="51.5" cy="238.6" rx="49.6" ry="46.5" fill="rgb(209,209,209)"/>
<ellipse cx="98.0" cy="247.9" rx="24.8" ry="31.0" fill="rgb(178,178,178)"/>
<ellipse cx="67.0" cy="244.8" rx="12.4" ry="12.4" fill="rgb(255,255,255)"/>
<ellipse cx="23.6" cy="232.4" rx="9.3" ry="12.4" fill="rgb(128,128,128)"/>
<ellipse cx="88.7" cy="297.5" rx="34.1" ry="43.4" fill="rgb(209,209,209)"/>
<ellipse cx="101.1" cy="278.9" rx="7.7" ry="9.3" fill="rgb(38,38,38)"/>
<ellipse cx="73.2" cy="309.9" rx="9.3" ry="9.3" fill="rgb(51,51,51)"/>
<ellipse cx="67.0" cy="331.6" rx="9.3" ry="9.3" fill="rgb(102,102,102)"/>
<ellipse cx="194.0" cy="278.9" rx="40.3" ry="43.4" fill="rgb(199,199,199)"/>
<ellipse cx="178.5" cy="325.4" rx="40.3" ry="18.6" fill="rgb(217,217,217)"/>
<ellipse cx="206.4" cy="294.4" rx="15.5" ry="12.4" fill="rgb(255,255,255)"/>
<ellipse cx="150.7" cy="272.7" rx="18.6" ry="34.1" fill="rgb(38,38,38)"/>
<ellipse cx="166.2" cy="303.7" rx="9.3" ry="12.4" fill="rgb(76,76,76)"/>
<ellipse cx="197.1" cy="260.3" rx="12.4" ry="9.3" fill="rgb(102,102,102)"/>
</g></g>
<use href="#bd"/><use href="#isl"/></g>
<text x="403.5" y="448.6" font-size="56" text-anchor="middle" textLength="113.5" lengthAdjust="spacingAndGlyphs" fill="#000">1961</text>
<g transform="translate(264.0 456.0)">
<g clip-path="url(#de)"><g filter="url(#f5)"><rect x="-40" y="-40" width="360" height="440" fill="#000"/>

<ellipse cx="200.9" cy="322.3" rx="12.4" ry="21.7" fill="rgb(115,115,115)"/>
<ellipse cx="207.1" cy="334.7" rx="4.6" ry="6.2" fill="rgb(191,191,191)"/>
<ellipse cx="176.1" cy="340.9" rx="15.5" ry="6.2" fill="rgb(76,76,76)"/>
<ellipse cx="216.4" cy="297.5" rx="4.6" ry="4.6" fill="rgb(102,102,102)"/>
</g></g>
<use href="#bd"/><use href="#isl"/></g>
<text x="672.5" y="448.6" font-size="56" text-anchor="middle" textLength="113.5" lengthAdjust="spacingAndGlyphs" fill="#000">1962</text>
<g transform="translate(533.0 456.0)">
<g clip-path="url(#de)"><g filter="url(#f0)"><rect x="-40" y="-40" width="360" height="440" fill="#000"/>

<ellipse cx="195.2" cy="198.3" rx="37.2" ry="24.8" fill="rgb(107,107,107)"/>
<ellipse cx="198.3" cy="198.3" rx="24.8" ry="15.5" fill="rgb(199,199,199)"/>
<ellipse cx="173.5" cy="204.5" rx="9.3" ry="9.3" fill="rgb(178,178,178)"/>
<ellipse cx="192.1" cy="213.8" rx="12.4" ry="7.7" fill="rgb(204,204,204)"/>
<ellipse cx="201.4" cy="176.6" rx="4.6" ry="3.7" fill="rgb(115,115,115)"/>
<ellipse cx="238.6" cy="182.8" rx="6.2" ry="6.2" fill="rgb(64,64,64)"/>
<ellipse cx="161.2" cy="269.6" rx="34.1" ry="15.5" fill="rgb(107,107,107)"/>
<ellipse cx="161.2" cy="269.6" rx="21.7" ry="9.3" fill="rgb(199,199,199)" transform="rotate(-15 161.1503656873683 269.6169579769431)"/>
<ellipse cx="176.6" cy="263.4" rx="9.3" ry="7.7" fill="rgb(204,204,204)"/>
<ellipse cx="167.3" cy="309.9" rx="46.5" ry="37.2" fill="rgb(46,46,46)"/>
<ellipse cx="102.3" cy="300.6" rx="24.8" ry="21.7" fill="rgb(107,107,107)"/>
<ellipse cx="99.2" cy="297.5" rx="12.4" ry="15.5" fill="rgb(199,199,199)"/>
<ellipse cx="124.0" cy="313.0" rx="9.3" ry="9.3" fill="rgb(140,140,140)"/>
<ellipse cx="145.7" cy="334.7" rx="4.6" ry="6.2" fill="rgb(199,199,199)"/>
<ellipse cx="162.7" cy="331.6" rx="4.6" ry="4.6" fill="rgb(199,199,199)"/>
<ellipse cx="74.4" cy="247.9" rx="4.6" ry="6.2" fill="rgb(115,115,115)"/>
<ellipse cx="210.7" cy="46.5" rx="4.6" ry="4.6" fill="rgb(115,115,115)"/>
<ellipse cx="229.3" cy="49.6" rx="3.7" ry="3.1" fill="rgb(204,204,204)"/>
<ellipse cx="218.5" cy="24.8" rx="3.1" ry="3.1" fill="rgb(128,128,128)"/>
<ellipse cx="77.5" cy="303.7" rx="4.6" ry="4.6" fill="rgb(89,89,89)"/>
</g></g>
<use href="#bd"/><use href="#isl"/></g>
<text x="941.5" y="448.6" font-size="56" text-anchor="middle" textLength="113.5" lengthAdjust="spacingAndGlyphs" fill="#000">1963</text>
<g transform="translate(802.0 456.0)">
<g clip-path="url(#de)"><g filter="url(#f1)"><rect x="-40" y="-40" width="360" height="440" fill="#000"/>

<rect x="-40" y="-40" width="360" height="440" fill="rgb(230,230,230)"/>
<ellipse cx="143.2" cy="93.0" rx="80.6" ry="40.3" fill="rgb(178,178,178)"/>
<ellipse cx="56.4" cy="139.5" rx="24.8" ry="18.6" fill="rgb(189,189,189)"/>
<ellipse cx="133.9" cy="148.8" rx="18.6" ry="12.4" fill="rgb(191,191,191)"/>
<ellipse cx="102.9" cy="278.9" rx="15.5" ry="18.6" fill="rgb(199,199,199)"/>
<ellipse cx="189.7" cy="309.9" rx="18.6" ry="15.5" fill="rgb(184,184,184)"/>
<ellipse cx="226.8" cy="93.0" rx="18.6" ry="24.8" fill="rgb(158,158,158)"/>
<ellipse cx="236.1" cy="139.5" rx="15.5" ry="24.8" fill="rgb(153,153,153)"/>
<ellipse cx="40.9" cy="179.7" rx="31.0" ry="46.5" fill="rgb(115,115,115)"/>
<ellipse cx="31.6" cy="195.2" rx="21.7" ry="24.8" fill="rgb(51,51,51)"/>
<ellipse cx="71.9" cy="185.9" rx="24.8" ry="24.8" fill="rgb(102,102,102)"/>
<ellipse cx="56.4" cy="93.0" rx="15.5" ry="24.8" fill="rgb(89,89,89)"/>
<ellipse cx="62.6" cy="96.1" rx="4.6" ry="4.6" fill="rgb(38,38,38)"/>
<ellipse cx="112.2" cy="46.5" rx="21.7" ry="21.7" fill="rgb(107,107,107)"/>
<ellipse cx="121.5" cy="102.3" rx="12.4" ry="9.3" fill="rgb(107,107,107)"/>
<ellipse cx="158.7" cy="117.8" rx="12.4" ry="9.3" fill="rgb(115,115,115)"/>
<ellipse cx="102.9" cy="77.5" rx="12.4" ry="12.4" fill="rgb(115,115,115)"/>
<ellipse cx="195.9" cy="102.3" rx="12.4" ry="7.7" fill="rgb(115,115,115)"/>
<ellipse cx="214.5" cy="49.6" rx="12.4" ry="9.3" fill="rgb(217,217,217)"/>
<ellipse cx="233.0" cy="31.0" rx="9.3" ry="9.3" fill="rgb(191,191,191)"/>
<ellipse cx="87.4" cy="216.9" rx="12.4" ry="37.2" fill="rgb(102,102,102)"/>
<ellipse cx="183.5" cy="288.2" rx="9.3" ry="9.3" fill="rgb(128,128,128)"/>
<ellipse cx="211.4" cy="297.5" rx="9.3" ry="6.2" fill="rgb(140,140,140)"/>
<ellipse cx="75.0" cy="247.9" rx="12.4" ry="12.4" fill="rgb(76,76,76)"/>
<ellipse cx="157.1" cy="192.1" rx="2.5" ry="2.5" fill="rgb(51,51,51)"/>
</g></g>
<use href="#bd"/><use href="#isl"/></g>
<text x="1210.5" y="448.6" font-size="56" text-anchor="middle" textLength="113.5" lengthAdjust="spacingAndGlyphs" fill="#000">1964</text>
<g transform="translate(1071.0 456.0)">
<g clip-path="url(#de)"><g filter="url(#f2)"><rect x="-40" y="-40" width="360" height="440" fill="#000"/>

<ellipse cx="117.8" cy="241.7" rx="124.0" ry="117.8" fill="rgb(92,92,92)"/>
<ellipse cx="93.0" cy="102.3" rx="52.7" ry="31.0" fill="rgb(26,26,26)"/>
<ellipse cx="102.3" cy="201.4" rx="21.7" ry="27.9" fill="rgb(31,31,31)"/>
<ellipse cx="142.6" cy="198.3" rx="15.5" ry="18.6" fill="rgb(38,38,38)"/>
<ellipse cx="93.0" cy="309.9" rx="18.6" ry="15.5" fill="rgb(51,51,51)"/>
<ellipse cx="148.8" cy="303.7" rx="15.5" ry="15.5" fill="rgb(64,64,64)"/>
<ellipse cx="46.5" cy="185.9" rx="40.3" ry="55.8" fill="rgb(128,128,128)"/>
<ellipse cx="31.0" cy="192.1" rx="18.6" ry="24.8" fill="rgb(153,153,153)"/>
<ellipse cx="52.7" cy="216.9" rx="15.5" ry="21.7" fill="rgb(166,166,166)"/>
<ellipse cx="54.2" cy="220.0" rx="7.7" ry="12.4" fill="rgb(217,217,217)"/>
<ellipse cx="93.0" cy="130.2" rx="46.5" ry="12.4" fill="rgb(128,128,128)"/>
<ellipse cx="124.0" cy="133.3" rx="12.4" ry="9.3" fill="rgb(153,153,153)"/>
<ellipse cx="74.4" cy="136.4" rx="9.3" ry="9.3" fill="rgb(148,148,148)"/>
<ellipse cx="201.4" cy="173.5" rx="46.5" ry="37.2" fill="rgb(168,168,168)"/>
<ellipse cx="201.4" cy="189.0" rx="24.8" ry="21.7" fill="rgb(217,217,217)"/>
<ellipse cx="185.9" cy="216.9" rx="18.6" ry="9.3" fill="rgb(199,199,199)"/>
<ellipse cx="164.2" cy="145.7" rx="12.4" ry="15.5" fill="rgb(148,148,148)"/>
<ellipse cx="238.6" cy="145.7" rx="12.4" ry="18.6" fill="rgb(148,148,148)"/>
<ellipse cx="247.9" cy="179.7" rx="12.4" ry="12.4" fill="rgb(140,140,140)"/>
<ellipse cx="201.4" cy="120.9" rx="15.5" ry="9.3" fill="rgb(84,84,84)"/>
<ellipse cx="148.8" cy="263.4" rx="43.4" ry="18.6" fill="rgb(178,178,178)"/>
<ellipse cx="161.2" cy="260.3" rx="18.6" ry="9.3" fill="rgb(209,209,209)"/>
<ellipse cx="93.0" cy="263.4" rx="18.6" ry="15.5" fill="rgb(173,173,173)"/>
<ellipse cx="192.1" cy="278.9" rx="24.8" ry="18.6" fill="rgb(168,168,168)"/>
<ellipse cx="201.4" cy="297.5" rx="18.6" ry="15.5" fill="rgb(194,194,194)"/>
<ellipse cx="173.5" cy="319.2" rx="12.4" ry="18.6" fill="rgb(189,189,189)"/>
<ellipse cx="93.0" cy="309.9" rx="34.1" ry="34.1" fill="rgb(107,107,107)"/>
<ellipse cx="71.3" cy="297.5" rx="9.3" ry="9.3" fill="rgb(148,148,148)"/>
<ellipse cx="117.8" cy="316.1" rx="9.3" ry="9.3" fill="rgb(148,148,148)"/>
<ellipse cx="35.6" cy="74.4" rx="3.1" ry="1.9" fill="rgb(178,178,178)"/>
<ellipse cx="37.2" cy="247.9" rx="12.4" ry="12.4" fill="rgb(133,133,133)"/>
</g></g>
<use href="#bd"/><use href="#isl"/></g>
<text x="1479.5" y="448.6" font-size="56" text-anchor="middle" textLength="113.5" lengthAdjust="spacingAndGlyphs" fill="#000">1965</text>
<g transform="translate(1340.0 456.0)">
<g clip-path="url(#de)"><g filter="url(#f3)"><rect x="-40" y="-40" width="360" height="440" fill="#000"/>

<ellipse cx="180.4" cy="62.0" rx="24.8" ry="13.9" fill="rgb(178,178,178)"/>
<ellipse cx="177.3" cy="63.5" rx="12.4" ry="7.7" fill="rgb(217,217,217)"/>
<ellipse cx="202.1" cy="49.6" rx="12.4" ry="7.7" fill="rgb(115,115,115)"/>
<ellipse cx="151.9" cy="38.7" rx="3.1" ry="3.1" fill="rgb(204,204,204)"/>
<ellipse cx="81.2" cy="74.4" rx="2.5" ry="2.5" fill="rgb(204,204,204)"/>
<ellipse cx="47.1" cy="96.1" rx="6.2" ry="9.3" fill="rgb(51,51,51)"/>
<ellipse cx="59.5" cy="90.5" rx="4.6" ry="3.7" fill="rgb(140,140,140)"/>
<ellipse cx="57.9" cy="108.5" rx="4.6" ry="3.7" fill="rgb(128,128,128)"/>
<ellipse cx="82.7" cy="117.8" rx="4.6" ry="3.7" fill="rgb(153,153,153)"/>
<ellipse cx="106.0" cy="125.5" rx="3.1" ry="3.1" fill="rgb(128,128,128)"/>
<ellipse cx="124.6" cy="130.2" rx="12.4" ry="7.7" fill="rgb(51,51,51)"/>
<ellipse cx="169.5" cy="116.2" rx="6.2" ry="4.6" fill="rgb(153,153,153)"/>
<ellipse cx="168.0" cy="176.6" rx="37.2" ry="31.0" fill="rgb(84,84,84)"/>
<ellipse cx="164.9" cy="151.9" rx="18.6" ry="7.7" fill="rgb(178,178,178)"/>
<ellipse cx="183.5" cy="173.5" rx="9.3" ry="15.5" fill="rgb(178,178,178)"/>
<ellipse cx="174.2" cy="192.1" rx="18.6" ry="12.4" fill="rgb(178,178,178)"/>
<ellipse cx="154.0" cy="187.5" rx="7.7" ry="6.2" fill="rgb(217,217,217)"/>
<ellipse cx="126.1" cy="161.2" rx="4.6" ry="4.6" fill="rgb(153,153,153)"/>
<ellipse cx="130.8" cy="179.1" rx="3.1" ry="3.1" fill="rgb(153,153,153)"/>
<ellipse cx="98.2" cy="175.1" rx="2.5" ry="2.5" fill="rgb(153,153,153)"/>
<ellipse cx="149.4" cy="254.1" rx="15.5" ry="24.8" fill="rgb(51,51,51)"/>
<ellipse cx="158.7" cy="268.1" rx="3.1" ry="3.1" fill="rgb(153,153,153)"/>
<ellipse cx="143.2" cy="241.7" rx="3.1" ry="3.1" fill="rgb(140,140,140)"/>
<ellipse cx="65.7" cy="254.1" rx="3.1" ry="3.1" fill="rgb(153,153,153)"/>
<ellipse cx="59.5" cy="323.9" rx="3.1" ry="3.1" fill="rgb(153,153,153)"/>
<ellipse cx="93.6" cy="292.9" rx="2.5" ry="2.5" fill="rgb(128,128,128)"/>
</g></g>
<use href="#bd"/><use href="#isl"/></g>
<text x="1748.5" y="448.6" font-size="56" text-anchor="middle" textLength="113.5" lengthAdjust="spacingAndGlyphs" fill="#000">1966</text>
<g transform="translate(1609.0 456.0)">
<g clip-path="url(#de)"><g filter="url(#f4)"><rect x="-40" y="-40" width="360" height="440" fill="#000"/>

<ellipse cx="164.2" cy="342.4" rx="12.4" ry="2.5" fill="rgb(115,115,115)"/>
<ellipse cx="133.3" cy="350.2" rx="2.5" ry="2.5" fill="rgb(178,178,178)"/>
<ellipse cx="192.1" cy="337.8" rx="3.1" ry="1.9" fill="rgb(153,153,153)"/>
<ellipse cx="207.6" cy="340.9" rx="3.1" ry="2.5" fill="rgb(115,115,115)"/>
<ellipse cx="46.5" cy="82.1" rx="3.7" ry="2.5" fill="rgb(51,51,51)"/>
<ellipse cx="240.2" cy="190.6" rx="2.5" ry="2.5" fill="rgb(115,115,115)"/>
</g></g>
<use href="#bd"/><use href="#isl"/></g>
<text x="2017.5" y="448.6" font-size="56" text-anchor="middle" textLength="113.5" lengthAdjust="spacingAndGlyphs" fill="#000">1967</text>
<g transform="translate(1878.0 456.0)">
<g clip-path="url(#de)"><g filter="url(#f5)"><rect x="-40" y="-40" width="360" height="440" fill="#000"/>

<ellipse cx="226.8" cy="28.5" rx="2.5" ry="2.5" fill="rgb(191,191,191)"/>
<ellipse cx="239.2" cy="93.0" rx="3.7" ry="6.2" fill="rgb(76,76,76)"/>
<ellipse cx="219.1" cy="278.9" rx="3.7" ry="6.2" fill="rgb(153,153,153)"/>
<ellipse cx="206.7" cy="334.7" rx="2.5" ry="3.7" fill="rgb(115,115,115)"/>
</g></g>
<use href="#bd"/><use href="#isl"/></g>
<text x="2286.5" y="448.6" font-size="56" text-anchor="middle" textLength="113.5" lengthAdjust="spacingAndGlyphs" fill="#000">1968</text>
<g transform="translate(2147.0 456.0)">
<g clip-path="url(#de)"><g filter="url(#f0)"><rect x="-40" y="-40" width="360" height="440" fill="#000"/>

<ellipse cx="155.0" cy="297.5" rx="71.3" ry="46.5" fill="rgb(41,41,41)"/>
<ellipse cx="173.5" cy="297.5" rx="46.5" ry="34.1" fill="rgb(107,107,107)"/>
<ellipse cx="161.2" cy="282.0" rx="24.8" ry="12.4" fill="rgb(153,153,153)"/>
<ellipse cx="168.9" cy="285.1" rx="6.2" ry="4.6" fill="rgb(199,199,199)"/>
<ellipse cx="189.0" cy="282.0" rx="6.2" ry="4.6" fill="rgb(204,204,204)"/>
<ellipse cx="142.6" cy="280.5" rx="6.2" ry="6.2" fill="rgb(178,178,178)"/>
<ellipse cx="170.4" cy="319.2" rx="12.4" ry="12.4" fill="rgb(140,140,140)"/>
<ellipse cx="204.5" cy="308.4" rx="6.2" ry="6.2" fill="rgb(178,178,178)"/>
<ellipse cx="133.3" cy="316.1" rx="6.2" ry="6.2" fill="rgb(140,140,140)"/>
<ellipse cx="122.4" cy="331.6" rx="4.6" ry="4.6" fill="rgb(153,153,153)"/>
<ellipse cx="124.0" cy="313.0" rx="4.6" ry="9.3" fill="rgb(128,128,128)"/>
<ellipse cx="173.5" cy="342.4" rx="12.4" ry="3.7" fill="rgb(212,212,212)"/>
<ellipse cx="207.6" cy="340.9" rx="4.6" ry="4.6" fill="rgb(115,115,115)"/>
<ellipse cx="99.2" cy="314.6" rx="3.7" ry="3.7" fill="rgb(153,153,153)"/>
<ellipse cx="74.4" cy="325.4" rx="3.1" ry="3.1" fill="rgb(115,115,115)"/>
<ellipse cx="117.8" cy="291.3" rx="7.7" ry="4.6" fill="rgb(102,102,102)"/>
</g></g>
<use href="#bd"/><use href="#isl"/></g>
<text x="2555.5" y="448.6" font-size="56" text-anchor="middle" textLength="113.5" lengthAdjust="spacingAndGlyphs" fill="#000">1969</text>
<g transform="translate(2416.0 456.0)">
<g clip-path="url(#de)"><g filter="url(#f1)"><rect x="-40" y="-40" width="360" height="440" fill="#000"/>

<ellipse cx="118.4" cy="247.9" rx="93.0" ry="108.5" fill="rgb(36,36,36)"/>
<ellipse cx="40.9" cy="173.5" rx="21.7" ry="15.5" fill="rgb(76,76,76)"/>
<ellipse cx="47.1" cy="182.8" rx="4.6" ry="4.6" fill="rgb(153,153,153)"/>
<ellipse cx="37.8" cy="168.9" rx="6.2" ry="3.7" fill="rgb(128,128,128)"/>
<ellipse cx="19.2" cy="203.0" rx="3.7" ry="3.1" fill="rgb(178,178,178)"/>
<ellipse cx="133.9" cy="173.5" rx="18.6" ry="37.2" fill="rgb(76,76,76)"/>
<ellipse cx="121.5" cy="158.1" rx="4.6" ry="6.2" fill="rgb(153,153,153)"/>
<ellipse cx="143.2" cy="159.6" rx="4.6" ry="6.2" fill="rgb(191,191,191)"/>
<ellipse cx="133.9" cy="179.7" rx="6.2" ry="4.6" fill="rgb(166,166,166)"/>
<ellipse cx="144.7" cy="204.5" rx="4.6" ry="4.6" fill="rgb(153,153,153)"/>
<ellipse cx="127.7" cy="232.4" rx="12.4" ry="4.6" fill="rgb(153,153,153)" transform="rotate(-15 127.67782323044503 232.42841204908888)"/>
<ellipse cx="84.3" cy="230.9" rx="3.1" ry="3.1" fill="rgb(204,204,204)"/>
<ellipse cx="171.1" cy="226.2" rx="3.7" ry="3.7" fill="rgb(153,153,153)"/>
<ellipse cx="171.1" cy="268.1" rx="3.1" ry="3.1" fill="rgb(204,204,204)"/>
<ellipse cx="149.4" cy="334.7" rx="46.5" ry="18.6" fill="rgb(89,89,89)"/>
<ellipse cx="130.8" cy="340.9" rx="13.9" ry="10.8" fill="rgb(199,199,199)"/>
<ellipse cx="133.9" cy="344.0" rx="6.2" ry="6.2" fill="rgb(224,224,224)"/>
<ellipse cx="174.2" cy="319.2" rx="9.3" ry="6.2" fill="rgb(199,199,199)"/>
<ellipse cx="195.9" cy="320.8" rx="6.2" ry="4.6" fill="rgb(204,204,204)"/>
<ellipse cx="223.7" cy="291.3" rx="6.2" ry="6.2" fill="rgb(153,153,153)"/>
<ellipse cx="208.3" cy="303.7" rx="4.6" ry="4.6" fill="rgb(153,153,153)"/>
<ellipse cx="75.0" cy="300.6" rx="4.6" ry="4.6" fill="rgb(153,153,153)"/>
<ellipse cx="71.9" cy="333.1" rx="6.2" ry="3.7" fill="rgb(153,153,153)"/>
<ellipse cx="93.6" cy="333.1" rx="4.6" ry="3.1" fill="rgb(153,153,153)"/>
</g></g>
<use href="#bd"/><use href="#isl"/></g>
<text x="134.5" y="854.6" font-size="56" text-anchor="middle" textLength="113.5" lengthAdjust="spacingAndGlyphs" fill="#000">1970</text>
<g transform="translate(-5.0 862.0)">
<g clip-path="url(#de)"><g filter="url(#f2)"><rect x="-40" y="-40" width="360" height="440" fill="#000"/>

<rect x="-40" y="-40" width="360" height="440" fill="rgb(107,107,107)"/>
<ellipse cx="107.3" cy="34.1" rx="21.7" ry="21.7" fill="rgb(46,46,46)"/>
<ellipse cx="203.3" cy="68.2" rx="21.7" ry="15.5" fill="rgb(51,51,51)"/>
<ellipse cx="73.2" cy="232.4" rx="21.7" ry="21.7" fill="rgb(51,51,51)"/>
<ellipse cx="51.5" cy="173.5" rx="15.5" ry="15.5" fill="rgb(71,71,71)"/>
<ellipse cx="73.2" cy="319.2" rx="15.5" ry="15.5" fill="rgb(64,64,64)"/>
<ellipse cx="36.0" cy="247.9" rx="15.5" ry="15.5" fill="rgb(76,76,76)"/>
<ellipse cx="178.5" cy="133.3" rx="12.4" ry="12.4" fill="rgb(64,64,64)"/>
<ellipse cx="98.0" cy="155.0" rx="9.3" ry="9.3" fill="rgb(64,64,64)"/>
<ellipse cx="76.3" cy="102.3" rx="46.5" ry="27.9" fill="rgb(204,204,204)"/>
<ellipse cx="82.5" cy="102.3" rx="18.6" ry="12.4" fill="rgb(230,230,230)"/>
<ellipse cx="42.2" cy="145.7" rx="24.8" ry="24.8" fill="rgb(191,191,191)"/>
<ellipse cx="23.6" cy="173.5" rx="12.4" ry="18.6" fill="rgb(184,184,184)"/>
<ellipse cx="144.5" cy="80.6" rx="43.4" ry="15.5" fill="rgb(158,158,158)" transform="rotate(10 144.45704722945334 80.57518284368415)"/>
<ellipse cx="206.4" cy="99.2" rx="31.0" ry="15.5" fill="rgb(140,140,140)"/>
<ellipse cx="237.4" cy="133.3" rx="18.6" ry="34.1" fill="rgb(158,158,158)"/>
<ellipse cx="206.4" cy="185.9" rx="24.8" ry="24.8" fill="rgb(204,204,204)"/>
<ellipse cx="228.1" cy="192.1" rx="37.2" ry="18.6" fill="rgb(255,255,255)"/>
<ellipse cx="175.4" cy="272.7" rx="46.5" ry="55.8" fill="rgb(204,204,204)"/>
<ellipse cx="178.5" cy="285.1" rx="24.8" ry="31.0" fill="rgb(255,255,255)"/>
<ellipse cx="160.0" cy="325.4" rx="46.5" ry="18.6" fill="rgb(204,204,204)"/>
<ellipse cx="153.8" cy="192.1" rx="31.0" ry="31.0" fill="rgb(178,178,178)"/>
<ellipse cx="129.0" cy="161.2" rx="18.6" ry="18.6" fill="rgb(166,166,166)"/>
<ellipse cx="113.5" cy="288.2" rx="24.8" ry="24.8" fill="rgb(191,191,191)"/>
<ellipse cx="98.0" cy="266.5" rx="12.4" ry="12.4" fill="rgb(191,191,191)"/>
<ellipse cx="221.9" cy="31.0" rx="7.7" ry="7.7" fill="rgb(204,204,204)"/>
</g></g>
<use href="#bd"/><use href="#isl"/></g>
<text x="403.5" y="854.6" font-size="56" text-anchor="middle" textLength="113.5" lengthAdjust="spacingAndGlyphs" fill="#000">1971</text>
<g transform="translate(264.0 862.0)">
<g clip-path="url(#de)"><g filter="url(#f3)"><rect x="-40" y="-40" width="360" height="440" fill="#000"/>

<ellipse cx="169.9" cy="309.9" rx="46.5" ry="31.0" fill="rgb(46,46,46)"/>
<ellipse cx="92.4" cy="201.4" rx="18.6" ry="18.6" fill="rgb(46,46,46)"/>
<ellipse cx="92.4" cy="294.4" rx="62.0" ry="46.5" fill="rgb(107,107,107)"/>
<ellipse cx="138.9" cy="254.1" rx="18.6" ry="24.8" fill="rgb(128,128,128)"/>
<ellipse cx="151.3" cy="265.0" rx="6.2" ry="6.2" fill="rgb(191,191,191)"/>
<ellipse cx="86.2" cy="278.9" rx="27.9" ry="31.0" fill="rgb(191,191,191)"/>
<ellipse cx="70.7" cy="247.9" rx="12.4" ry="12.4" fill="rgb(199,199,199)"/>
<ellipse cx="95.5" cy="297.5" rx="12.4" ry="12.4" fill="rgb(204,204,204)"/>
<ellipse cx="39.7" cy="247.9" rx="18.6" ry="18.6" fill="rgb(128,128,128)"/>
<ellipse cx="36.6" cy="266.5" rx="9.3" ry="9.3" fill="rgb(178,178,178)"/>
<ellipse cx="42.8" cy="170.4" rx="15.5" ry="6.2" fill="rgb(102,102,102)"/>
<ellipse cx="38.2" cy="192.1" rx="4.6" ry="4.6" fill="rgb(153,153,153)"/>
<ellipse cx="27.3" cy="201.4" rx="6.2" ry="6.2" fill="rgb(102,102,102)"/>
<ellipse cx="76.9" cy="334.7" rx="15.5" ry="6.2" fill="rgb(153,153,153)"/>
<ellipse cx="169.9" cy="316.1" rx="9.3" ry="6.2" fill="rgb(128,128,128)"/>
<ellipse cx="185.4" cy="289.8" rx="2.5" ry="2.5" fill="rgb(153,153,153)"/>
<ellipse cx="200.9" cy="103.8" rx="2.5" ry="2.5" fill="rgb(115,115,115)"/>
<ellipse cx="204.0" cy="114.0" rx="2.5" ry="2.5" fill="rgb(115,115,115)"/>
</g></g>
<use href="#bd"/><use href="#isl"/></g>
<text x="672.5" y="854.6" font-size="56" text-anchor="middle" textLength="113.5" lengthAdjust="spacingAndGlyphs" fill="#000">1972</text>
<g transform="translate(533.0 862.0)">
<g clip-path="url(#de)"><g filter="url(#f4)"><rect x="-40" y="-40" width="360" height="440" fill="#000"/>

<rect x="-40" y="-40" width="360" height="440" fill="rgb(199,199,199)"/>
<ellipse cx="201.4" cy="71.3" rx="40.3" ry="24.8" fill="rgb(255,255,255)"/>
<ellipse cx="55.8" cy="108.5" rx="18.6" ry="27.9" fill="rgb(255,255,255)"/>
<ellipse cx="52.7" cy="182.8" rx="21.7" ry="17.0" fill="rgb(255,255,255)"/>
<ellipse cx="105.4" cy="272.7" rx="18.6" ry="13.9" fill="rgb(255,255,255)"/>
<ellipse cx="176.6" cy="278.9" rx="24.8" ry="18.6" fill="rgb(255,255,255)"/>
<ellipse cx="142.6" cy="204.5" rx="12.4" ry="12.4" fill="rgb(255,255,255)"/>
<ellipse cx="114.7" cy="77.5" rx="27.9" ry="55.8" fill="rgb(97,97,97)"/>
<ellipse cx="108.5" cy="102.3" rx="15.5" ry="18.6" fill="rgb(51,51,51)"/>
<ellipse cx="164.2" cy="133.3" rx="24.8" ry="24.8" fill="rgb(107,107,107)"/>
<ellipse cx="216.9" cy="173.5" rx="49.6" ry="43.4" fill="rgb(64,64,64)"/>
<ellipse cx="235.5" cy="185.9" rx="24.8" ry="24.8" fill="rgb(31,31,31)"/>
<ellipse cx="223.1" cy="139.5" rx="21.7" ry="18.6" fill="rgb(76,76,76)"/>
<ellipse cx="139.5" cy="179.7" rx="46.5" ry="12.4" fill="rgb(115,115,115)"/>
<ellipse cx="55.8" cy="220.0" rx="18.6" ry="9.3" fill="rgb(102,102,102)"/>
<ellipse cx="210.7" cy="272.7" rx="15.5" ry="27.9" fill="rgb(115,115,115)"/>
<ellipse cx="93.0" cy="285.1" rx="7.7" ry="7.7" fill="rgb(115,115,115)"/>
<ellipse cx="102.3" cy="325.4" rx="6.2" ry="6.2" fill="rgb(76,76,76)"/>
<ellipse cx="108.5" cy="21.7" rx="15.5" ry="12.4" fill="rgb(115,115,115)"/>
<ellipse cx="161.2" cy="325.4" rx="6.2" ry="6.2" fill="rgb(115,115,115)"/>
</g></g>
<use href="#bd"/><use href="#isl"/></g>
<text x="941.5" y="854.6" font-size="56" text-anchor="middle" textLength="113.5" lengthAdjust="spacingAndGlyphs" fill="#000">1973</text>
<g transform="translate(802.0 862.0)">
<g clip-path="url(#de)"><g filter="url(#f5)"><rect x="-40" y="-40" width="360" height="440" fill="#000"/>

<rect x="-40" y="-40" width="360" height="440" fill="rgb(178,178,178)"/>
<ellipse cx="186.6" cy="130.2" rx="31.0" ry="37.2" fill="rgb(102,102,102)"/>
<ellipse cx="195.9" cy="124.0" rx="12.4" ry="15.5" fill="rgb(64,64,64)" transform="rotate(30 195.85682409817775 123.96181975951407)"/>
<ellipse cx="177.3" cy="102.3" rx="15.5" ry="12.4" fill="rgb(76,76,76)"/>
<ellipse cx="133.9" cy="185.9" rx="37.2" ry="31.0" fill="rgb(107,107,107)"/>
<ellipse cx="152.5" cy="185.9" rx="9.3" ry="12.4" fill="rgb(71,71,71)"/>
<ellipse cx="118.4" cy="139.5" rx="18.6" ry="15.5" fill="rgb(128,128,128)"/>
<ellipse cx="87.4" cy="309.9" rx="37.2" ry="37.2" fill="rgb(76,76,76)"/>
<ellipse cx="164.9" cy="316.1" rx="46.5" ry="24.8" fill="rgb(71,71,71)"/>
<ellipse cx="81.2" cy="316.1" rx="15.5" ry="18.6" fill="rgb(38,38,38)"/>
<ellipse cx="102.9" cy="37.2" rx="15.5" ry="18.6" fill="rgb(76,76,76)"/>
<ellipse cx="127.7" cy="278.9" rx="24.8" ry="18.6" fill="rgb(128,128,128)"/>
<ellipse cx="214.5" cy="62.0" rx="18.6" ry="15.5" fill="rgb(224,224,224)"/>
<ellipse cx="28.5" cy="185.9" rx="12.4" ry="15.5" fill="rgb(217,217,217)"/>
<ellipse cx="233.0" cy="173.5" rx="12.4" ry="15.5" fill="rgb(217,217,217)"/>
<ellipse cx="180.4" cy="247.9" rx="18.6" ry="24.8" fill="rgb(204,204,204)"/>
<ellipse cx="40.9" cy="235.5" rx="24.8" ry="24.8" fill="rgb(115,115,115)"/>
<ellipse cx="50.2" cy="86.8" rx="12.4" ry="12.4" fill="rgb(115,115,115)"/>
<ellipse cx="149.4" cy="263.4" rx="31.0" ry="31.0" fill="rgb(128,128,128)"/>
<ellipse cx="118.4" cy="247.9" rx="12.4" ry="12.4" fill="rgb(89,89,89)"/>
</g></g>
<use href="#bd"/><use href="#isl"/></g>
<text x="1210.5" y="854.6" font-size="56" text-anchor="middle" textLength="113.5" lengthAdjust="spacingAndGlyphs" fill="#000">1974</text>
<g transform="translate(1071.0 862.0)">
<g clip-path="url(#de)"><g filter="url(#f0)"><rect x="-40" y="-40" width="360" height="440" fill="#000"/>

<ellipse cx="94.5" cy="156.5" rx="2.5" ry="3.7" fill="rgb(217,217,217)"/>
<ellipse cx="65.7" cy="213.8" rx="2.5" ry="5.6" fill="rgb(217,217,217)" transform="rotate(35 65.69976447254245 213.83413908516178)"/>
<ellipse cx="55.8" cy="249.5" rx="2.5" ry="2.2" fill="rgb(217,217,217)"/>
<ellipse cx="25.4" cy="257.2" rx="3.7" ry="4.3" fill="rgb(128,128,128)"/>
<ellipse cx="161.2" cy="158.1" rx="12.4" ry="3.1" fill="rgb(128,128,128)" transform="rotate(25 161.1503656873683 158.05132019338043)"/>
<ellipse cx="164.2" cy="204.5" rx="6.2" ry="3.1" fill="rgb(115,115,115)"/>
<ellipse cx="148.8" cy="212.3" rx="2.5" ry="2.5" fill="rgb(128,128,128)"/>
<ellipse cx="201.4" cy="213.8" rx="15.5" ry="2.5" fill="rgb(140,140,140)" transform="rotate(-15 201.43795710921037 213.83413908516178)"/>
<ellipse cx="192.1" cy="241.7" rx="2.5" ry="3.7" fill="rgb(128,128,128)"/>
<ellipse cx="151.9" cy="247.9" rx="2.2" ry="2.2" fill="rgb(178,178,178)"/>
<ellipse cx="211.4" cy="273.3" rx="2.2" ry="2.2" fill="rgb(178,178,178)"/>
<ellipse cx="206.1" cy="282.0" rx="1.9" ry="1.9" fill="rgb(128,128,128)"/>
<ellipse cx="229.3" cy="291.3" rx="1.9" ry="1.9" fill="rgb(115,115,115)"/>
<ellipse cx="46.5" cy="235.5" rx="15.5" ry="12.4" fill="rgb(38,38,38)"/>
<ellipse cx="161.2" cy="185.9" rx="15.5" ry="18.6" fill="rgb(31,31,31)"/>
<ellipse cx="29.4" cy="235.5" rx="1.9" ry="1.9" fill="rgb(102,102,102)"/>
<ellipse cx="48.0" cy="263.4" rx="1.9" ry="1.9" fill="rgb(153,153,153)"/>
</g></g>
<use href="#bd"/><use href="#isl"/></g>
<text x="1479.5" y="854.6" font-size="56" text-anchor="middle" textLength="113.5" lengthAdjust="spacingAndGlyphs" fill="#000">1975</text>
<g transform="translate(1340.0 862.0)">
<use href="#bd"/><use href="#isl"/></g>
<text x="1748.5" y="854.6" font-size="56" text-anchor="middle" textLength="113.5" lengthAdjust="spacingAndGlyphs" fill="#000">1976</text>
<g transform="translate(1609.0 862.0)">
<g clip-path="url(#de)"><g filter="url(#f2)"><rect x="-40" y="-40" width="360" height="440" fill="#000"/>

<ellipse cx="124.0" cy="124.0" rx="117.8" ry="102.3" fill="rgb(76,76,76)"/>
<ellipse cx="223.1" cy="130.2" rx="34.1" ry="55.8" fill="rgb(20,20,20)"/>
<ellipse cx="223.1" cy="185.9" rx="37.2" ry="18.6" fill="rgb(20,20,20)"/>
<ellipse cx="130.2" cy="173.5" rx="18.6" ry="18.6" fill="rgb(51,51,51)"/>
<ellipse cx="139.5" cy="62.0" rx="37.2" ry="31.0" fill="rgb(115,115,115)"/>
<ellipse cx="201.4" cy="55.8" rx="31.0" ry="18.6" fill="rgb(102,102,102)"/>
<ellipse cx="124.0" cy="105.4" rx="27.9" ry="34.1" fill="rgb(128,128,128)"/>
<ellipse cx="117.8" cy="93.0" rx="6.2" ry="6.2" fill="rgb(191,191,191)"/>
<ellipse cx="141.0" cy="71.3" rx="4.6" ry="4.6" fill="rgb(191,191,191)"/>
<ellipse cx="170.4" cy="151.9" rx="17.0" ry="26.3" fill="rgb(158,158,158)" transform="rotate(-30 170.44750216933184 151.85322920540474)"/>
<ellipse cx="170.4" cy="151.9" rx="6.8" ry="9.9" fill="rgb(199,199,199)" transform="rotate(-30 170.44750216933184 151.85322920540474)"/>
<ellipse cx="31.0" cy="176.6" rx="24.8" ry="18.6" fill="rgb(128,128,128)"/>
<ellipse cx="18.6" cy="195.2" rx="9.3" ry="9.3" fill="rgb(204,204,204)"/>
<ellipse cx="37.2" cy="244.8" rx="24.8" ry="27.9" fill="rgb(140,140,140)"/>
<ellipse cx="40.3" cy="266.5" rx="12.4" ry="9.3" fill="rgb(191,191,191)"/>
<ellipse cx="31.0" cy="272.7" rx="6.2" ry="6.2" fill="rgb(204,204,204)"/>
<ellipse cx="86.8" cy="210.7" rx="18.6" ry="21.7" fill="rgb(128,128,128)"/>
<ellipse cx="108.5" cy="195.2" rx="4.6" ry="4.6" fill="rgb(153,153,153)"/>
<ellipse cx="161.2" cy="192.1" rx="18.6" ry="18.6" fill="rgb(89,89,89)"/>
<ellipse cx="127.1" cy="254.1" rx="31.0" ry="24.8" fill="rgb(128,128,128)"/>
<ellipse cx="130.2" cy="254.1" rx="18.6" ry="15.5" fill="rgb(199,199,199)"/>
<ellipse cx="151.9" cy="244.8" rx="6.2" ry="6.2" fill="rgb(178,178,178)"/>
<ellipse cx="151.9" cy="263.4" rx="6.2" ry="6.2" fill="rgb(178,178,178)"/>
<ellipse cx="83.7" cy="302.2" rx="3.7" ry="3.7" fill="rgb(153,153,153)"/>
<ellipse cx="69.7" cy="333.1" rx="3.1" ry="2.5" fill="rgb(153,153,153)"/>
<ellipse cx="198.3" cy="320.8" rx="4.6" ry="3.7" fill="rgb(153,153,153)"/>
<ellipse cx="207.6" cy="340.9" rx="3.7" ry="3.1" fill="rgb(204,204,204)"/>
<ellipse cx="130.2" cy="350.2" rx="3.1" ry="3.1" fill="rgb(153,153,153)"/>
<ellipse cx="55.8" cy="74.4" rx="3.1" ry="2.5" fill="rgb(199,199,199)"/>
<ellipse cx="158.1" cy="31.0" rx="3.1" ry="2.5" fill="rgb(204,204,204)"/>
</g></g>
<use href="#bd"/><use href="#isl"/></g>
<text x="2017.5" y="854.6" font-size="56" text-anchor="middle" textLength="113.5" lengthAdjust="spacingAndGlyphs" fill="#000">1977</text>
<g transform="translate(1878.0 862.0)">
<g clip-path="url(#de)"><g filter="url(#f3)"><rect x="-40" y="-40" width="360" height="440" fill="#000"/>

<ellipse cx="40.9" cy="139.5" rx="31.0" ry="68.2" fill="rgb(102,102,102)"/>
<ellipse cx="189.7" cy="62.0" rx="24.8" ry="15.5" fill="rgb(76,76,76)"/>
<ellipse cx="71.9" cy="232.4" rx="37.2" ry="24.8" fill="rgb(97,97,97)"/>
<path d="M87.4 15.5 143.2 21.7 149.4 62.0 118.4 86.8 164.9 93.0 226.8 77.5 257.8 124.0 264.0 185.9 226.8 216.9 195.9 223.1 189.7 263.4 158.7 257.2 118.4 247.9 93.6 238.6 71.9 216.9 40.9 201.4 16.1 185.9 16.1 155.0 40.9 124.0 71.9 93.0 87.4 55.8Z" fill="rgb(168,168,168)"/>
<ellipse cx="40.9" cy="133.3" rx="21.7" ry="40.3" fill="rgb(115,115,115)"/>
<ellipse cx="44.0" cy="173.5" rx="12.4" ry="12.4" fill="rgb(184,184,184)"/>
<ellipse cx="28.5" cy="161.2" rx="9.3" ry="9.3" fill="rgb(191,191,191)"/>
<ellipse cx="65.7" cy="155.0" rx="15.5" ry="15.5" fill="rgb(76,76,76)"/>
<ellipse cx="47.1" cy="105.4" rx="12.4" ry="12.4" fill="rgb(140,140,140)"/>
<ellipse cx="124.6" cy="130.2" rx="24.8" ry="37.2" fill="rgb(230,230,230)"/>
<ellipse cx="118.4" cy="117.8" rx="15.5" ry="18.6" fill="rgb(255,255,255)"/>
<ellipse cx="202.1" cy="145.7" rx="31.0" ry="18.6" fill="rgb(230,230,230)"/>
<ellipse cx="143.2" cy="198.3" rx="24.8" ry="18.6" fill="rgb(230,230,230)"/>
<ellipse cx="96.7" cy="155.0" rx="12.4" ry="18.6" fill="rgb(209,209,209)"/>
<ellipse cx="118.4" cy="24.8" rx="9.3" ry="9.3" fill="rgb(224,224,224)"/>
<ellipse cx="102.9" cy="46.5" rx="12.4" ry="12.4" fill="rgb(191,191,191)"/>
<ellipse cx="149.4" cy="155.0" rx="9.3" ry="15.5" fill="rgb(115,115,115)"/>
<ellipse cx="180.4" cy="179.7" rx="9.3" ry="9.3" fill="rgb(107,107,107)"/>
<ellipse cx="124.6" cy="77.5" rx="12.4" ry="9.3" fill="rgb(102,102,102)"/>
<ellipse cx="112.2" cy="185.9" rx="9.3" ry="9.3" fill="rgb(115,115,115)"/>
<ellipse cx="226.8" cy="52.7" rx="18.6" ry="18.6" fill="rgb(26,26,26)"/>
<ellipse cx="186.6" cy="62.0" rx="18.6" ry="12.4" fill="rgb(76,76,76)"/>
<ellipse cx="164.9" cy="102.3" rx="9.3" ry="9.3" fill="rgb(140,140,140)"/>
<ellipse cx="180.4" cy="247.9" rx="24.8" ry="31.0" fill="rgb(153,153,153)" transform="rotate(-30 180.36159662823854 247.92363951902814)"/>
<ellipse cx="53.3" cy="241.7" rx="2.5" ry="2.5" fill="rgb(217,217,217)"/>
<ellipse cx="33.2" cy="272.7" rx="1.9" ry="1.9" fill="rgb(217,217,217)"/>
<ellipse cx="158.7" cy="322.3" rx="3.7" ry="3.1" fill="rgb(153,153,153)"/>
<ellipse cx="75.0" cy="325.4" rx="3.1" ry="3.1" fill="rgb(115,115,115)"/>
</g></g>
<use href="#bd"/><use href="#isl"/></g>
<text x="2286.5" y="854.6" font-size="56" text-anchor="middle" textLength="113.5" lengthAdjust="spacingAndGlyphs" fill="#000">1978</text>
<g transform="translate(2147.0 862.0)">
<g clip-path="url(#de)"><g filter="url(#f4)"><rect x="-40" y="-40" width="360" height="440" fill="#000"/>

<ellipse cx="168.9" cy="53.3" rx="3.1" ry="4.3" fill="rgb(128,128,128)"/>
<ellipse cx="187.5" cy="59.5" rx="2.8" ry="2.5" fill="rgb(115,115,115)"/>
<ellipse cx="173.5" cy="110.0" rx="4.6" ry="4.6" fill="rgb(76,76,76)"/>
<ellipse cx="105.4" cy="108.5" rx="7.7" ry="4.6" fill="rgb(51,51,51)"/>
<ellipse cx="43.4" cy="176.6" rx="9.3" ry="7.7" fill="rgb(51,51,51)"/>
<ellipse cx="117.1" cy="281.4" rx="2.8" ry="2.5" fill="rgb(230,230,230)"/>
<ellipse cx="112.2" cy="328.5" rx="4.3" ry="3.1" fill="rgb(217,217,217)"/>
<ellipse cx="110.0" cy="337.8" rx="3.7" ry="2.5" fill="rgb(115,115,115)"/>
<ellipse cx="235.5" cy="137.9" rx="1.9" ry="1.9" fill="rgb(128,128,128)"/>
<ellipse cx="54.2" cy="99.2" rx="1.9" ry="1.9" fill="rgb(115,115,115)"/>
<ellipse cx="86.8" cy="111.6" rx="1.9" ry="1.9" fill="rgb(102,102,102)"/>
<ellipse cx="89.9" cy="263.4" rx="2.5" ry="2.5" fill="rgb(89,89,89)"/>
</g></g>
<use href="#bd"/><use href="#isl"/></g>
<text x="2555.5" y="854.6" font-size="56" text-anchor="middle" textLength="113.5" lengthAdjust="spacingAndGlyphs" fill="#000">1979</text>
<g transform="translate(2416.0 862.0)">
<g clip-path="url(#de)"><g filter="url(#f5)"><rect x="-40" y="-40" width="360" height="440" fill="#000"/>

<ellipse cx="71.9" cy="210.7" rx="71.3" ry="71.3" fill="rgb(76,76,76)"/>
<ellipse cx="40.9" cy="148.8" rx="24.8" ry="18.6" fill="rgb(51,51,51)"/>
<ellipse cx="47.1" cy="247.9" rx="27.9" ry="21.7" fill="rgb(133,133,133)"/>
<ellipse cx="102.9" cy="192.1" rx="46.5" ry="15.5" fill="rgb(148,148,148)"/>
<ellipse cx="107.5" cy="182.8" rx="6.2" ry="6.2" fill="rgb(204,204,204)"/>
<ellipse cx="140.1" cy="193.7" rx="6.2" ry="7.7" fill="rgb(204,204,204)"/>
<ellipse cx="31.6" cy="223.1" rx="18.6" ry="12.4" fill="rgb(199,199,199)"/>
<ellipse cx="28.5" cy="229.3" rx="12.4" ry="9.3" fill="rgb(212,212,212)"/>
<ellipse cx="84.3" cy="209.2" rx="15.5" ry="7.7" fill="rgb(207,207,207)"/>
<ellipse cx="75.0" cy="230.9" rx="3.1" ry="3.1" fill="rgb(224,224,224)"/>
<ellipse cx="50.2" cy="124.0" rx="18.6" ry="12.4" fill="rgb(140,140,140)"/>
<ellipse cx="56.4" cy="127.1" rx="4.6" ry="4.6" fill="rgb(204,204,204)"/>
<ellipse cx="34.7" cy="164.2" rx="7.7" ry="6.2" fill="rgb(166,166,166)"/>
<ellipse cx="149.4" cy="161.2" rx="4.6" ry="6.2" fill="rgb(153,153,153)"/>
<ellipse cx="171.1" cy="306.8" rx="21.7" ry="15.5" fill="rgb(97,97,97)"/>
<ellipse cx="183.5" cy="300.6" rx="4.6" ry="4.6" fill="rgb(178,178,178)"/>
<ellipse cx="81.2" cy="323.9" rx="4.6" ry="3.7" fill="rgb(153,153,153)"/>
<ellipse cx="65.7" cy="297.5" rx="4.6" ry="3.7" fill="rgb(115,115,115)"/>
<ellipse cx="140.1" cy="334.7" rx="3.7" ry="3.7" fill="rgb(115,115,115)"/>
<ellipse cx="118.4" cy="18.6" rx="6.2" ry="4.6" fill="rgb(64,64,64)"/>
<ellipse cx="87.4" cy="27.9" rx="1.9" ry="1.9" fill="rgb(153,153,153)"/>
<ellipse cx="143.2" cy="105.4" rx="2.5" ry="3.1" fill="rgb(128,128,128)"/>
</g></g>
<use href="#bd"/><use href="#isl"/></g>
<text x="134.5" y="1260.6" font-size="56" text-anchor="middle" textLength="113.5" lengthAdjust="spacingAndGlyphs" fill="#000">1980</text>
<g transform="translate(-5.0 1268.0)">
<g clip-path="url(#de)"><g filter="url(#f0)"><rect x="-40" y="-40" width="360" height="440" fill="#000"/>

<ellipse cx="101.7" cy="18.6" rx="2.8" ry="2.8" fill="rgb(199,199,199)"/>
<ellipse cx="119.7" cy="34.7" rx="2.2" ry="1.9" fill="rgb(153,153,153)"/>
<ellipse cx="129.0" cy="37.8" rx="1.9" ry="1.9" fill="rgb(115,115,115)"/>
<ellipse cx="150.7" cy="158.1" rx="8.7" ry="5.0" fill="rgb(191,191,191)"/>
<ellipse cx="163.1" cy="161.2" rx="9.3" ry="3.1" fill="rgb(115,115,115)"/>
<ellipse cx="122.8" cy="125.5" rx="2.2" ry="2.2" fill="rgb(128,128,128)"/>
<ellipse cx="94.9" cy="168.9" rx="3.1" ry="3.7" fill="rgb(115,115,115)"/>
<ellipse cx="116.6" cy="158.1" rx="12.4" ry="6.2" fill="rgb(64,64,64)"/>
<ellipse cx="76.3" cy="306.8" rx="5.0" ry="8.7" fill="rgb(199,199,199)"/>
<ellipse cx="82.5" cy="294.4" rx="3.1" ry="3.7" fill="rgb(115,115,115)"/>
<ellipse cx="63.9" cy="336.2" rx="4.6" ry="3.1" fill="rgb(115,115,115)"/>
<ellipse cx="169.2" cy="272.7" rx="1.5" ry="1.5" fill="rgb(153,153,153)"/>
<ellipse cx="211.1" cy="286.7" rx="2.8" ry="2.2" fill="rgb(166,166,166)"/>
<ellipse cx="212.6" cy="277.4" rx="2.2" ry="2.2" fill="rgb(115,115,115)"/>
<ellipse cx="74.7" cy="323.9" rx="2.5" ry="3.1" fill="rgb(76,76,76)"/>
</g></g>
<use href="#bd"/><use href="#isl"/></g>
<text x="403.5" y="1260.6" font-size="56" text-anchor="middle" textLength="113.5" lengthAdjust="spacingAndGlyphs" fill="#000">1981</text>
<g transform="translate(264.0 1268.0)">
<g clip-path="url(#de)"><g filter="url(#f1)"><rect x="-40" y="-40" width="360" height="440" fill="#000"/>

<ellipse cx="101.7" cy="18.6" rx="3.1" ry="2.5" fill="rgb(235,235,235)"/>
<ellipse cx="213.3" cy="280.5" rx="6.8" ry="5.0" fill="rgb(230,230,230)"/>
<ellipse cx="228.7" cy="288.2" rx="4.6" ry="5.0" fill="rgb(204,204,204)"/>
<ellipse cx="210.2" cy="286.7" rx="6.8" ry="3.1" fill="rgb(178,178,178)"/>
<ellipse cx="27.3" cy="204.5" rx="3.1" ry="3.1" fill="rgb(89,89,89)"/>
<ellipse cx="98.6" cy="195.9" rx="1.5" ry="1.5" fill="rgb(115,115,115)"/>
<ellipse cx="62.9" cy="325.4" rx="1.5" ry="1.5" fill="rgb(115,115,115)"/>
</g></g>
<use href="#bd"/><use href="#isl"/></g>
<text x="672.5" y="1260.6" font-size="56" text-anchor="middle" textLength="113.5" lengthAdjust="spacingAndGlyphs" fill="#000">1982</text>
<g transform="translate(533.0 1268.0)">
<use href="#bd"/><use href="#isl"/></g>
<text x="941.5" y="1260.6" font-size="56" text-anchor="middle" textLength="113.5" lengthAdjust="spacingAndGlyphs" fill="#000">1983</text>
<g transform="translate(802.0 1268.0)">
<g clip-path="url(#de)"><g filter="url(#f3)"><rect x="-40" y="-40" width="360" height="440" fill="#000"/>

<ellipse cx="133.9" cy="173.5" rx="27.9" ry="15.5" fill="rgb(107,107,107)"/>
<ellipse cx="146.3" cy="179.7" rx="6.2" ry="4.6" fill="rgb(191,191,191)"/>
<ellipse cx="118.4" cy="161.2" rx="6.2" ry="4.6" fill="rgb(128,128,128)"/>
<ellipse cx="137.0" cy="204.5" rx="3.1" ry="3.1" fill="rgb(204,204,204)"/>
<path d="M164.9 46.5 195.9 29.4 226.8 29.4 245.4 62.0 251.6 108.5 257.8 139.5 268.7 185.9 257.8 201.4 226.8 213.8 189.7 224.7 164.9 210.7 144.7 198.3 149.4 155.0 164.9 139.5 195.9 130.2 214.5 124.0 202.1 102.3 180.4 99.2 155.6 80.6 155.6 62.0Z" fill="rgb(209,209,209)"/>
<ellipse cx="180.4" cy="182.8" rx="31.0" ry="18.6" fill="rgb(255,255,255)"/>
<ellipse cx="226.8" cy="55.8" rx="15.5" ry="15.5" fill="rgb(235,235,235)"/>
<ellipse cx="239.2" cy="161.2" rx="15.5" ry="18.6" fill="rgb(230,230,230)"/>
<ellipse cx="233.0" cy="102.3" rx="12.4" ry="18.6" fill="rgb(224,224,224)"/>
<ellipse cx="186.6" cy="93.0" rx="31.0" ry="21.7" fill="rgb(97,97,97)"/>
<ellipse cx="174.2" cy="74.4" rx="12.4" ry="9.3" fill="rgb(76,76,76)"/>
<ellipse cx="202.1" cy="136.4" rx="15.5" ry="12.4" fill="rgb(89,89,89)"/>
<ellipse cx="220.6" cy="125.5" rx="6.2" ry="4.6" fill="rgb(26,26,26)"/>
<ellipse cx="118.4" cy="93.0" rx="2.5" ry="2.5" fill="rgb(153,153,153)"/>
<ellipse cx="106.0" cy="83.1" rx="3.1" ry="2.5" fill="rgb(140,140,140)"/>
<ellipse cx="112.2" cy="108.5" rx="2.2" ry="2.2" fill="rgb(128,128,128)"/>
<ellipse cx="96.7" cy="65.1" rx="2.2" ry="2.2" fill="rgb(140,140,140)"/>
<ellipse cx="149.4" cy="89.9" rx="3.1" ry="3.1" fill="rgb(140,140,140)"/>
<ellipse cx="90.5" cy="168.9" rx="2.5" ry="2.5" fill="rgb(128,128,128)"/>
<ellipse cx="205.2" cy="285.1" rx="12.4" ry="9.3" fill="rgb(51,51,51)"/>
<ellipse cx="189.7" cy="257.2" rx="3.1" ry="3.1" fill="rgb(102,102,102)"/>
<ellipse cx="195.9" cy="303.7" rx="7.7" ry="6.2" fill="rgb(51,51,51)"/>
</g></g>
<use href="#bd"/><use href="#isl"/></g>
<text x="1210.5" y="1260.6" font-size="56" text-anchor="middle" textLength="113.5" lengthAdjust="spacingAndGlyphs" fill="#000">1984</text>
<g transform="translate(1071.0 1268.0)">
<g clip-path="url(#de)"><g filter="url(#f4)"><rect x="-40" y="-40" width="360" height="440" fill="#000"/>

<ellipse cx="130.2" cy="254.1" rx="124.0" ry="102.3" fill="rgb(76,76,76)"/>
<ellipse cx="139.5" cy="93.0" rx="93.0" ry="46.5" fill="rgb(38,38,38)"/>
<ellipse cx="93.0" cy="201.4" rx="18.6" ry="31.0" fill="rgb(102,102,102)"/>
<ellipse cx="192.1" cy="195.2" rx="62.0" ry="18.6" fill="rgb(178,178,178)" transform="rotate(15 192.14082062724682 195.23986612123466)"/>
<ellipse cx="192.1" cy="201.4" rx="27.9" ry="12.4" fill="rgb(219,219,219)" transform="rotate(15 192.14082062724682 201.43795710921037)"/>
<ellipse cx="254.1" cy="182.8" rx="12.4" ry="12.4" fill="rgb(199,199,199)"/>
<ellipse cx="158.1" cy="155.0" rx="9.3" ry="6.2" fill="rgb(178,178,178)"/>
<ellipse cx="223.1" cy="167.3" rx="12.4" ry="6.2" fill="rgb(166,166,166)"/>
<ellipse cx="148.8" cy="201.4" rx="15.5" ry="12.4" fill="rgb(153,153,153)"/>
<ellipse cx="27.9" cy="198.3" rx="15.5" ry="13.9" fill="rgb(204,204,204)"/>
<ellipse cx="31.0" cy="204.5" rx="7.7" ry="7.7" fill="rgb(212,212,212)"/>
<ellipse cx="52.7" cy="235.5" rx="24.8" ry="15.5" fill="rgb(140,140,140)"/>
<ellipse cx="62.0" cy="229.3" rx="7.7" ry="6.2" fill="rgb(191,191,191)"/>
<ellipse cx="37.2" cy="247.9" rx="6.2" ry="6.2" fill="rgb(153,153,153)"/>
<ellipse cx="167.3" cy="278.9" rx="55.8" ry="46.5" fill="rgb(128,128,128)"/>
<ellipse cx="133.3" cy="247.9" rx="12.4" ry="12.4" fill="rgb(204,204,204)"/>
<ellipse cx="192.1" cy="272.7" rx="12.4" ry="9.3" fill="rgb(199,199,199)"/>
<ellipse cx="204.5" cy="278.9" rx="6.2" ry="6.2" fill="rgb(212,212,212)"/>
<ellipse cx="179.7" cy="300.6" rx="12.4" ry="9.3" fill="rgb(204,204,204)"/>
<ellipse cx="148.8" cy="303.7" rx="9.3" ry="6.2" fill="rgb(204,204,204)"/>
<ellipse cx="170.4" cy="316.1" rx="9.3" ry="6.2" fill="rgb(191,191,191)"/>
<ellipse cx="201.4" cy="313.0" rx="6.2" ry="6.2" fill="rgb(204,204,204)"/>
<ellipse cx="93.0" cy="294.4" rx="37.2" ry="40.3" fill="rgb(107,107,107)"/>
<ellipse cx="108.5" cy="306.8" rx="7.7" ry="4.6" fill="rgb(199,199,199)"/>
<ellipse cx="71.3" cy="319.2" rx="7.7" ry="7.7" fill="rgb(199,199,199)"/>
<ellipse cx="127.1" cy="319.2" rx="6.2" ry="7.7" fill="rgb(212,212,212)"/>
<ellipse cx="108.5" cy="331.6" rx="9.3" ry="6.2" fill="rgb(204,204,204)"/>
<ellipse cx="65.1" cy="303.7" rx="3.1" ry="3.1" fill="rgb(204,204,204)"/>
</g></g>
<use href="#bd"/><use href="#isl"/></g>
<text x="1479.5" y="1260.6" font-size="56" text-anchor="middle" textLength="113.5" lengthAdjust="spacingAndGlyphs" fill="#000">1985</text>
<g transform="translate(1340.0 1268.0)">
<g clip-path="url(#de)"><g filter="url(#f5)"><rect x="-40" y="-40" width="360" height="440" fill="#000"/>

<ellipse cx="220.6" cy="130.2" rx="31.0" ry="62.0" fill="rgb(33,33,33)"/>
<ellipse cx="220.6" cy="74.4" rx="18.6" ry="15.5" fill="rgb(115,115,115)"/>
<ellipse cx="214.5" cy="77.5" rx="4.6" ry="3.1" fill="rgb(178,178,178)"/>
<ellipse cx="239.2" cy="58.9" rx="3.1" ry="4.6" fill="rgb(128,128,128)"/>
<ellipse cx="199.0" cy="117.8" rx="2.5" ry="2.5" fill="rgb(140,140,140)"/>
<ellipse cx="254.7" cy="130.2" rx="1.9" ry="3.7" fill="rgb(153,153,153)"/>
<ellipse cx="202.1" cy="156.5" rx="2.5" ry="2.5" fill="rgb(128,128,128)"/>
<ellipse cx="146.3" cy="151.9" rx="2.5" ry="2.5" fill="rgb(128,128,128)"/>
<ellipse cx="226.8" cy="192.1" rx="37.2" ry="18.6" fill="rgb(64,64,64)"/>
<ellipse cx="229.9" cy="192.1" rx="3.1" ry="6.2" fill="rgb(178,178,178)"/>
<ellipse cx="254.7" cy="185.9" rx="3.1" ry="4.6" fill="rgb(128,128,128)"/>
<ellipse cx="133.9" cy="294.4" rx="77.5" ry="46.5" fill="rgb(36,36,36)"/>
<ellipse cx="143.2" cy="266.5" rx="27.9" ry="21.7" fill="rgb(122,122,122)"/>
<ellipse cx="133.9" cy="263.4" rx="9.3" ry="7.7" fill="rgb(199,199,199)"/>
<ellipse cx="155.6" cy="257.2" rx="7.7" ry="9.3" fill="rgb(199,199,199)"/>
<ellipse cx="152.5" cy="280.5" rx="9.3" ry="4.6" fill="rgb(199,199,199)"/>
<ellipse cx="59.5" cy="263.4" rx="3.1" ry="3.1" fill="rgb(128,128,128)"/>
<ellipse cx="71.9" cy="266.5" rx="3.1" ry="3.7" fill="rgb(140,140,140)"/>
<ellipse cx="81.2" cy="278.9" rx="3.1" ry="3.1" fill="rgb(115,115,115)"/>
<ellipse cx="112.2" cy="291.3" rx="3.1" ry="3.1" fill="rgb(128,128,128)"/>
<ellipse cx="208.3" cy="337.8" rx="6.2" ry="7.7" fill="rgb(178,178,178)"/>
<ellipse cx="68.8" cy="339.3" rx="6.2" ry="2.5" fill="rgb(153,153,153)"/>
</g></g>
<use href="#bd"/><use href="#isl"/></g>
<text x="1748.5" y="1260.6" font-size="56" text-anchor="middle" textLength="113.5" lengthAdjust="spacingAndGlyphs" fill="#000">1986</text>
<g transform="translate(1609.0 1268.0)">
<g clip-path="url(#de)"><g filter="url(#f0)"><rect x="-40" y="-40" width="360" height="440" fill="#000"/>

<ellipse cx="130.2" cy="216.9" rx="117.8" ry="86.8" fill="rgb(51,51,51)"/>
<ellipse cx="216.9" cy="155.0" rx="46.5" ry="46.5" fill="rgb(56,56,56)"/>
<ellipse cx="192.1" cy="155.0" rx="34.1" ry="21.7" fill="rgb(140,140,140)"/>
<ellipse cx="192.1" cy="155.0" rx="18.6" ry="10.8" fill="rgb(212,212,212)"/>
<ellipse cx="229.3" cy="142.6" rx="27.9" ry="24.8" fill="rgb(102,102,102)"/>
<ellipse cx="247.9" cy="120.9" rx="7.7" ry="7.7" fill="rgb(191,191,191)"/>
<ellipse cx="198.3" cy="120.9" rx="4.6" ry="3.7" fill="rgb(191,191,191)"/>
<ellipse cx="254.1" cy="124.0" rx="3.1" ry="4.6" fill="rgb(199,199,199)"/>
<ellipse cx="133.3" cy="136.4" rx="4.6" ry="3.7" fill="rgb(153,153,153)"/>
<ellipse cx="125.5" cy="122.4" rx="2.5" ry="2.5" fill="rgb(153,153,153)"/>
<ellipse cx="114.7" cy="117.8" rx="3.1" ry="2.5" fill="rgb(102,102,102)"/>
<ellipse cx="34.1" cy="210.7" rx="21.7" ry="12.4" fill="rgb(178,178,178)"/>
<ellipse cx="31.0" cy="213.8" rx="9.3" ry="6.2" fill="rgb(199,199,199)"/>
<ellipse cx="83.7" cy="235.5" rx="24.8" ry="34.1" fill="rgb(140,140,140)"/>
<ellipse cx="86.8" cy="229.3" rx="12.4" ry="15.5" fill="rgb(199,199,199)"/>
<ellipse cx="74.4" cy="247.9" rx="7.7" ry="12.4" fill="rgb(199,199,199)"/>
<ellipse cx="136.4" cy="238.6" rx="40.3" ry="15.5" fill="rgb(153,153,153)" transform="rotate(-10 136.35800173546548 238.6265030370646)"/>
<ellipse cx="148.8" cy="241.7" rx="9.3" ry="6.2" fill="rgb(204,204,204)"/>
<ellipse cx="158.1" cy="192.1" rx="34.1" ry="21.7" fill="rgb(89,89,89)"/>
<ellipse cx="133.3" cy="201.4" rx="6.2" ry="4.6" fill="rgb(166,166,166)"/>
<ellipse cx="213.8" cy="213.8" rx="9.3" ry="6.2" fill="rgb(153,153,153)"/>
<ellipse cx="55.8" cy="263.4" rx="31.0" ry="15.5" fill="rgb(115,115,115)"/>
<ellipse cx="40.3" cy="269.6" rx="7.7" ry="7.7" fill="rgb(153,153,153)"/>
<ellipse cx="99.2" cy="309.9" rx="37.2" ry="31.0" fill="rgb(97,97,97)"/>
<ellipse cx="108.5" cy="313.0" rx="15.5" ry="6.2" fill="rgb(153,153,153)" transform="rotate(-20 108.46659228957482 313.00359489277304)"/>
<ellipse cx="68.2" cy="328.5" rx="9.3" ry="9.3" fill="rgb(153,153,153)"/>
<ellipse cx="62.0" cy="337.8" rx="6.2" ry="6.2" fill="rgb(199,199,199)"/>
<ellipse cx="27.9" cy="164.2" rx="3.1" ry="2.5" fill="rgb(115,115,115)"/>
</g></g>
<use href="#bd"/><use href="#isl"/></g>
<text x="2017.5" y="1260.6" font-size="56" text-anchor="middle" textLength="113.5" lengthAdjust="spacingAndGlyphs" fill="#000">1987</text>
<g transform="translate(1878.0 1268.0)">
<g clip-path="url(#de)"><g filter="url(#f1)"><rect x="-40" y="-40" width="360" height="440" fill="#000"/>

<ellipse cx="168.0" cy="328.5" rx="40.3" ry="18.6" fill="rgb(102,102,102)"/>
<ellipse cx="164.9" cy="325.4" rx="12.4" ry="9.3" fill="rgb(166,166,166)"/>
<ellipse cx="177.3" cy="340.9" rx="18.6" ry="4.6" fill="rgb(199,199,199)"/>
<ellipse cx="146.3" cy="322.3" rx="6.2" ry="6.2" fill="rgb(153,153,153)"/>
<ellipse cx="205.2" cy="340.9" rx="6.2" ry="6.2" fill="rgb(153,153,153)"/>
<ellipse cx="171.1" cy="111.6" rx="12.4" ry="6.2" fill="rgb(51,51,51)"/>
<ellipse cx="123.0" cy="210.7" rx="1.9" ry="2.5" fill="rgb(204,204,204)"/>
<ellipse cx="135.4" cy="213.8" rx="1.9" ry="1.9" fill="rgb(128,128,128)"/>
</g></g>
<use href="#bd"/><use href="#isl"/></g>
<text x="2286.5" y="1260.6" font-size="56" text-anchor="middle" textLength="113.5" lengthAdjust="spacingAndGlyphs" fill="#000">1988</text>
<g transform="translate(2147.0 1268.0)">
<g clip-path="url(#de)"><g filter="url(#f2)"><rect x="-40" y="-40" width="360" height="440" fill="#000"/>

<ellipse cx="56.4" cy="272.7" rx="1.9" ry="1.9" fill="rgb(204,204,204)"/>
<ellipse cx="198.3" cy="337.8" rx="1.9" ry="1.9" fill="rgb(102,102,102)"/>
</g></g>
<use href="#bd"/><use href="#isl"/></g>
<text x="2555.5" y="1260.6" font-size="56" text-anchor="middle" textLength="113.5" lengthAdjust="spacingAndGlyphs" fill="#000">1989</text>
<g transform="translate(2416.0 1268.0)">
<g clip-path="url(#de)"><g filter="url(#f3)"><rect x="-40" y="-40" width="360" height="440" fill="#000"/>

<ellipse cx="87.4" cy="108.5" rx="71.3" ry="62.0" fill="rgb(41,41,41)"/>
<ellipse cx="56.4" cy="201.4" rx="46.5" ry="62.0" fill="rgb(33,33,33)"/>
<ellipse cx="96.7" cy="303.7" rx="37.2" ry="46.5" fill="rgb(41,41,41)"/>
<ellipse cx="112.2" cy="40.3" rx="27.9" ry="24.8" fill="rgb(41,41,41)"/>
<ellipse cx="118.4" cy="201.4" rx="31.0" ry="31.0" fill="rgb(33,33,33)"/>
<ellipse cx="202.1" cy="102.3" rx="58.9" ry="65.1" fill="rgb(115,115,115)"/>
<ellipse cx="205.2" cy="108.5" rx="43.4" ry="40.3" fill="rgb(153,153,153)"/>
<ellipse cx="195.9" cy="108.5" rx="24.8" ry="18.6" fill="rgb(224,224,224)"/>
<ellipse cx="242.3" cy="86.8" rx="9.3" ry="18.6" fill="rgb(199,199,199)"/>
<ellipse cx="233.0" cy="55.8" rx="18.6" ry="12.4" fill="rgb(140,140,140)"/>
<ellipse cx="177.3" cy="136.4" rx="12.4" ry="9.3" fill="rgb(204,204,204)"/>
<ellipse cx="220.6" cy="125.5" rx="4.6" ry="4.6" fill="rgb(76,76,76)"/>
<ellipse cx="155.6" cy="31.0" rx="3.1" ry="3.1" fill="rgb(128,128,128)"/>
<ellipse cx="40.9" cy="266.5" rx="2.5" ry="2.5" fill="rgb(178,178,178)"/>
<ellipse cx="53.3" cy="260.3" rx="3.7" ry="3.1" fill="rgb(115,115,115)"/>
<ellipse cx="152.5" cy="207.6" rx="2.5" ry="2.5" fill="rgb(128,128,128)"/>
<ellipse cx="78.1" cy="309.9" rx="18.6" ry="24.8" fill="rgb(48,48,48)"/>
</g></g>
<use href="#bd"/><use href="#isl"/></g>
<text x="134.5" y="1666.6" font-size="56" text-anchor="middle" textLength="113.5" lengthAdjust="spacingAndGlyphs" fill="#000">1990</text>
<g transform="translate(-5.0 1674.0)">
<g clip-path="url(#de)"><g filter="url(#f4)"><rect x="-40" y="-40" width="360" height="440" fill="#000"/>

<ellipse cx="60.8" cy="96.1" rx="24.8" ry="31.0" fill="rgb(128,128,128)"/>
<ellipse cx="48.4" cy="108.5" rx="6.2" ry="9.3" fill="rgb(217,217,217)"/>
<ellipse cx="54.6" cy="96.1" rx="6.2" ry="6.2" fill="rgb(199,199,199)"/>
<ellipse cx="82.5" cy="86.8" rx="9.3" ry="9.3" fill="rgb(115,115,115)"/>
<ellipse cx="107.3" cy="43.4" rx="18.6" ry="31.0" fill="rgb(76,76,76)"/>
<ellipse cx="104.2" cy="55.8" rx="6.2" ry="6.2" fill="rgb(140,140,140)"/>
<ellipse cx="80.9" cy="12.4" rx="2.5" ry="6.2" fill="rgb(204,204,204)"/>
<ellipse cx="190.9" cy="83.7" rx="58.9" ry="24.8" fill="rgb(102,102,102)"/>
<ellipse cx="190.9" cy="77.5" rx="18.6" ry="6.2" fill="rgb(153,153,153)"/>
<ellipse cx="237.4" cy="72.8" rx="6.2" ry="7.7" fill="rgb(217,217,217)"/>
<ellipse cx="156.9" cy="80.6" rx="6.2" ry="6.2" fill="rgb(153,153,153)"/>
<ellipse cx="215.7" cy="93.0" rx="12.4" ry="9.3" fill="rgb(140,140,140)"/>
<ellipse cx="169.2" cy="102.3" rx="6.2" ry="6.2" fill="rgb(166,166,166)"/>
<ellipse cx="156.9" cy="119.3" rx="4.6" ry="6.2" fill="rgb(153,153,153)"/>
<ellipse cx="252.9" cy="142.6" rx="3.1" ry="6.2" fill="rgb(128,128,128)"/>
<ellipse cx="36.0" cy="173.5" rx="24.8" ry="37.2" fill="rgb(92,92,92)"/>
<ellipse cx="36.0" cy="151.9" rx="18.6" ry="9.3" fill="rgb(140,140,140)"/>
<ellipse cx="45.3" cy="207.6" rx="15.5" ry="7.7" fill="rgb(178,178,178)"/>
<ellipse cx="39.1" cy="210.7" rx="4.6" ry="3.1" fill="rgb(199,199,199)"/>
<ellipse cx="56.1" cy="176.6" rx="1.9" ry="1.9" fill="rgb(178,178,178)"/>
<ellipse cx="94.9" cy="297.5" rx="37.2" ry="43.4" fill="rgb(128,128,128)"/>
<ellipse cx="88.7" cy="294.4" rx="18.6" ry="24.8" fill="rgb(158,158,158)"/>
<ellipse cx="113.5" cy="291.3" rx="9.3" ry="6.2" fill="rgb(189,189,189)"/>
<ellipse cx="101.1" cy="309.9" rx="9.3" ry="6.2" fill="rgb(194,194,194)"/>
<ellipse cx="85.6" cy="319.2" rx="9.3" ry="12.4" fill="rgb(189,189,189)"/>
<ellipse cx="70.1" cy="340.9" rx="9.3" ry="3.1" fill="rgb(199,199,199)"/>
<ellipse cx="175.4" cy="294.4" rx="46.5" ry="46.5" fill="rgb(38,38,38)"/>
<ellipse cx="206.4" cy="282.0" rx="2.5" ry="2.5" fill="rgb(191,191,191)"/>
<ellipse cx="206.4" cy="192.1" rx="46.5" ry="18.6" fill="rgb(41,41,41)"/>
<ellipse cx="36.0" cy="260.3" rx="12.4" ry="9.3" fill="rgb(41,41,41)"/>
</g></g>
<use href="#bd"/><use href="#isl"/></g>
<text x="403.5" y="1666.6" font-size="56" text-anchor="middle" textLength="113.5" lengthAdjust="spacingAndGlyphs" fill="#000">1991</text>
<g transform="translate(264.0 1674.0)">
<g clip-path="url(#de)"><g filter="url(#f5)"><rect x="-40" y="-40" width="360" height="440" fill="#000"/>

<ellipse cx="216.4" cy="185.9" rx="24.8" ry="12.4" fill="rgb(46,46,46)"/>
<ellipse cx="169.9" cy="260.3" rx="15.5" ry="9.3" fill="rgb(41,41,41)"/>
<ellipse cx="207.1" cy="272.7" rx="1.9" ry="1.9" fill="rgb(153,153,153)"/>
<ellipse cx="45.9" cy="182.8" rx="6.2" ry="6.2" fill="rgb(41,41,41)"/>
</g></g>
<use href="#bd"/><use href="#isl"/></g>
<text x="672.5" y="1666.6" font-size="56" text-anchor="middle" textLength="113.5" lengthAdjust="spacingAndGlyphs" fill="#000">1992</text>
<g transform="translate(533.0 1674.0)">
<g clip-path="url(#de)"><g filter="url(#f0)"><rect x="-40" y="-40" width="360" height="440" fill="#000"/>

<ellipse cx="139.5" cy="247.9" rx="108.5" ry="93.0" fill="rgb(31,31,31)"/>
<ellipse cx="201.4" cy="71.3" rx="49.6" ry="34.1" fill="rgb(128,128,128)"/>
<ellipse cx="201.4" cy="71.3" rx="18.6" ry="12.4" fill="rgb(204,204,204)"/>
<ellipse cx="170.4" cy="86.8" rx="15.5" ry="9.3" fill="rgb(196,196,196)"/>
<ellipse cx="229.3" cy="77.5" rx="12.4" ry="9.3" fill="rgb(204,204,204)"/>
<ellipse cx="223.1" cy="34.1" rx="7.7" ry="9.3" fill="rgb(196,196,196)"/>
<ellipse cx="204.5" cy="46.5" rx="9.3" ry="6.2" fill="rgb(204,204,204)"/>
<ellipse cx="216.9" cy="136.4" rx="43.4" ry="37.2" fill="rgb(97,97,97)"/>
<ellipse cx="241.7" cy="124.0" rx="9.3" ry="9.3" fill="rgb(178,178,178)"/>
<ellipse cx="223.1" cy="155.0" rx="6.2" ry="6.2" fill="rgb(178,178,178)"/>
<ellipse cx="247.9" cy="136.4" rx="4.6" ry="6.2" fill="rgb(178,178,178)"/>
<ellipse cx="176.6" cy="124.0" rx="6.2" ry="6.2" fill="rgb(153,153,153)"/>
<ellipse cx="170.4" cy="189.0" rx="34.1" ry="43.4" fill="rgb(140,140,140)"/>
<ellipse cx="170.4" cy="189.0" rx="21.7" ry="31.0" fill="rgb(209,209,209)"/>
<ellipse cx="167.3" cy="176.6" rx="12.4" ry="12.4" fill="rgb(222,222,222)"/>
<ellipse cx="114.7" cy="210.7" rx="9.3" ry="9.3" fill="rgb(196,196,196)"/>
<ellipse cx="136.4" cy="210.7" rx="9.3" ry="12.4" fill="rgb(209,209,209)"/>
<ellipse cx="232.4" cy="185.9" rx="34.1" ry="18.6" fill="rgb(82,82,82)"/>
<ellipse cx="226.2" cy="176.6" rx="6.2" ry="4.6" fill="rgb(196,196,196)"/>
<ellipse cx="167.3" cy="269.6" rx="40.3" ry="37.2" fill="rgb(117,117,117)"/>
<ellipse cx="185.9" cy="257.2" rx="9.3" ry="15.5" fill="rgb(204,204,204)"/>
<ellipse cx="145.7" cy="272.7" rx="12.4" ry="6.2" fill="rgb(204,204,204)"/>
<ellipse cx="189.0" cy="288.2" rx="6.2" ry="6.2" fill="rgb(204,204,204)"/>
<ellipse cx="179.7" cy="288.2" rx="3.1" ry="3.1" fill="rgb(209,209,209)"/>
<ellipse cx="130.2" cy="322.3" rx="43.4" ry="21.7" fill="rgb(97,97,97)"/>
<ellipse cx="102.3" cy="322.3" rx="7.7" ry="6.2" fill="rgb(178,178,178)"/>
<ellipse cx="145.7" cy="313.0" rx="6.2" ry="4.6" fill="rgb(178,178,178)"/>
<ellipse cx="155.0" cy="331.6" rx="4.6" ry="4.6" fill="rgb(178,178,178)"/>
<ellipse cx="122.4" cy="342.4" rx="2.5" ry="1.9" fill="rgb(209,209,209)"/>
<ellipse cx="27.9" cy="257.2" rx="4.6" ry="4.6" fill="rgb(191,191,191)"/>
<ellipse cx="46.5" cy="247.9" rx="18.6" ry="12.4" fill="rgb(76,76,76)"/>
<ellipse cx="99.2" cy="216.9" rx="18.6" ry="18.6" fill="rgb(89,89,89)"/>
<ellipse cx="89.9" cy="223.1" rx="4.6" ry="4.6" fill="rgb(153,153,153)"/>
<ellipse cx="52.7" cy="89.9" rx="9.3" ry="15.5" fill="rgb(76,76,76)"/>
</g></g>
<use href="#bd"/><use href="#isl"/></g>
<text x="941.5" y="1666.6" font-size="56" text-anchor="middle" textLength="113.5" lengthAdjust="spacingAndGlyphs" fill="#000">1993</text>
<g transform="translate(802.0 1674.0)">
<g clip-path="url(#de)"><g filter="url(#f1)"><rect x="-40" y="-40" width="360" height="440" fill="#000"/>

<ellipse cx="254.7" cy="148.8" rx="3.1" ry="9.3" fill="rgb(128,128,128)"/>
<ellipse cx="239.2" cy="198.3" rx="4.6" ry="3.7" fill="rgb(191,191,191)"/>
<ellipse cx="195.9" cy="201.4" rx="6.2" ry="6.2" fill="rgb(178,178,178)"/>
<ellipse cx="186.6" cy="216.9" rx="2.5" ry="2.5" fill="rgb(140,140,140)"/>
<ellipse cx="257.8" cy="170.4" rx="3.1" ry="6.2" fill="rgb(102,102,102)"/>
<ellipse cx="62.6" cy="319.2" rx="3.7" ry="6.2" fill="rgb(128,128,128)"/>
<ellipse cx="152.5" cy="265.0" rx="1.9" ry="1.9" fill="rgb(140,140,140)"/>
<ellipse cx="135.4" cy="251.0" rx="1.5" ry="1.5" fill="rgb(128,128,128)"/>
</g></g>
<use href="#bd"/><use href="#isl"/></g>
<text x="1210.5" y="1666.6" font-size="56" text-anchor="middle" textLength="113.5" lengthAdjust="spacingAndGlyphs" fill="#000">1994</text>
<g transform="translate(1071.0 1674.0)">
<use href="#bd"/><use href="#isl"/></g>
<text x="1479.5" y="1666.6" font-size="56" text-anchor="middle" textLength="113.5" lengthAdjust="spacingAndGlyphs" fill="#000">1995</text>
<g transform="translate(1340.0 1674.0)">
<g clip-path="url(#de)"><g filter="url(#f3)"><rect x="-40" y="-40" width="360" height="440" fill="#000"/>

<ellipse cx="71.9" cy="247.9" rx="15.5" ry="18.6" fill="rgb(89,89,89)"/>
<ellipse cx="75.0" cy="244.8" rx="6.2" ry="9.3" fill="rgb(140,140,140)"/>
<ellipse cx="78.1" cy="260.3" rx="3.7" ry="4.6" fill="rgb(153,153,153)"/>
<ellipse cx="65.7" cy="235.5" rx="4.6" ry="3.7" fill="rgb(128,128,128)"/>
<ellipse cx="87.4" cy="272.7" rx="3.7" ry="3.7" fill="rgb(140,140,140)"/>
<ellipse cx="146.3" cy="277.4" rx="9.3" ry="4.6" fill="rgb(204,204,204)"/>
<ellipse cx="152.5" cy="275.8" rx="6.2" ry="3.1" fill="rgb(153,153,153)"/>
<ellipse cx="102.9" cy="291.3" rx="2.5" ry="2.5" fill="rgb(166,166,166)"/>
<ellipse cx="87.4" cy="285.1" rx="6.2" ry="4.6" fill="rgb(76,76,76)"/>
<ellipse cx="118.4" cy="278.9" rx="31.0" ry="18.6" fill="rgb(28,28,28)"/>
</g></g>
<use href="#bd"/><use href="#isl"/></g>
<text x="1748.5" y="1666.6" font-size="56" text-anchor="middle" textLength="113.5" lengthAdjust="spacingAndGlyphs" fill="#000">1996</text>
<g transform="translate(1609.0 1674.0)">
<g clip-path="url(#de)"><g filter="url(#f4)"><rect x="-40" y="-40" width="360" height="440" fill="#000"/>

<ellipse cx="139.5" cy="278.9" rx="77.5" ry="62.0" fill="rgb(48,48,48)"/>
<ellipse cx="216.9" cy="130.2" rx="40.3" ry="49.6" fill="rgb(84,84,84)"/>
<path d="M229.3 27.9 251.0 62.0 260.3 124.0 216.9 167.3 185.9 192.1 161.2 223.1 139.5 238.6 93.0 254.1 62.0 269.6 46.5 275.8 130.2 210.7 133.3 173.5 148.8 142.6 155.0 117.8 185.9 102.3 216.9 86.8Z" fill="rgb(107,107,107)"/>
<path d="M80.6 9.3 130.2 12.4 161.2 31.0 198.3 31.0 229.3 27.9 241.7 55.8 216.9 86.8 185.9 102.3 155.0 117.8 148.8 142.6 133.3 173.5 130.2 210.7 102.3 232.4 62.0 247.9 46.5 272.7 21.7 263.4 12.4 216.9 9.3 155.0 31.0 130.2 31.0 77.5 62.0 68.2Z" fill="rgb(199,199,199)"/>
<ellipse cx="117.8" cy="37.2" rx="31.0" ry="21.7" fill="rgb(255,255,255)"/>
<ellipse cx="62.0" cy="108.5" rx="27.9" ry="24.8" fill="rgb(255,255,255)"/>
<ellipse cx="43.4" cy="170.4" rx="34.1" ry="37.2" fill="rgb(255,255,255)"/>
<ellipse cx="46.5" cy="223.1" rx="18.6" ry="18.6" fill="rgb(255,255,255)"/>
<ellipse cx="173.5" cy="68.2" rx="21.7" ry="12.4" fill="rgb(224,224,224)"/>
<ellipse cx="229.3" cy="117.8" rx="6.2" ry="6.2" fill="rgb(166,166,166)"/>
<ellipse cx="108.5" cy="93.0" rx="24.8" ry="15.5" fill="rgb(153,153,153)"/>
<ellipse cx="102.3" cy="93.0" rx="3.1" ry="3.1" fill="rgb(76,76,76)"/>
<ellipse cx="86.8" cy="167.3" rx="15.5" ry="12.4" fill="rgb(115,115,115)"/>
<ellipse cx="49.6" cy="213.8" rx="3.1" ry="3.1" fill="rgb(51,51,51)"/>
<ellipse cx="155.0" cy="291.3" rx="6.2" ry="6.2" fill="rgb(204,204,204)"/>
<ellipse cx="178.2" cy="286.7" rx="3.1" ry="3.1" fill="rgb(178,178,178)"/>
<ellipse cx="80.6" cy="303.7" rx="9.3" ry="9.3" fill="rgb(102,102,102)"/>
<ellipse cx="210.7" cy="282.0" rx="4.6" ry="3.1" fill="rgb(102,102,102)"/>
</g></g>
<use href="#bd"/><use href="#isl"/></g>
<text x="2017.5" y="1666.6" font-size="56" text-anchor="middle" textLength="113.5" lengthAdjust="spacingAndGlyphs" fill="#000">1997</text>
<g transform="translate(1878.0 1674.0)">
<g clip-path="url(#de)"><g filter="url(#f5)"><rect x="-40" y="-40" width="360" height="440" fill="#000"/>

<ellipse cx="133.9" cy="216.9" rx="93.0" ry="108.5" fill="rgb(28,28,28)"/>
<ellipse cx="78.1" cy="83.7" rx="40.3" ry="21.7" fill="rgb(107,107,107)"/>
<ellipse cx="59.5" cy="80.6" rx="9.3" ry="7.7" fill="rgb(153,153,153)"/>
<ellipse cx="96.7" cy="89.9" rx="9.3" ry="6.2" fill="rgb(140,140,140)"/>
<ellipse cx="96.7" cy="37.2" rx="18.6" ry="27.9" fill="rgb(84,84,84)"/>
<ellipse cx="102.9" cy="21.7" rx="6.2" ry="6.2" fill="rgb(140,140,140)"/>
<ellipse cx="205.2" cy="62.0" rx="46.5" ry="27.9" fill="rgb(102,102,102)"/>
<ellipse cx="226.8" cy="52.7" rx="9.3" ry="6.2" fill="rgb(166,166,166)"/>
<ellipse cx="229.9" cy="130.2" rx="24.8" ry="40.3" fill="rgb(140,140,140)"/>
<ellipse cx="223.7" cy="127.1" rx="6.2" ry="7.7" fill="rgb(199,199,199)"/>
<ellipse cx="251.6" cy="124.0" rx="4.6" ry="12.4" fill="rgb(204,204,204)"/>
<ellipse cx="214.5" cy="111.6" rx="12.4" ry="9.3" fill="rgb(153,153,153)"/>
<ellipse cx="50.2" cy="182.8" rx="18.6" ry="12.4" fill="rgb(76,76,76)"/>
<ellipse cx="161.8" cy="282.0" rx="12.4" ry="9.3" fill="rgb(89,89,89)"/>
<ellipse cx="37.8" cy="238.6" rx="3.1" ry="3.1" fill="rgb(102,102,102)"/>
</g></g>
<use href="#bd"/><use href="#isl"/></g>
<text x="2286.5" y="1666.6" font-size="56" text-anchor="middle" textLength="113.5" lengthAdjust="spacingAndGlyphs" fill="#000">1998</text>
<g transform="translate(2147.0 1674.0)">
<g clip-path="url(#de)"><g filter="url(#f0)"><rect x="-40" y="-40" width="360" height="440" fill="#000"/>

<ellipse cx="117.8" cy="216.9" rx="114.7" ry="130.2" fill="rgb(43,43,43)"/>
<ellipse cx="201.4" cy="108.5" rx="40.3" ry="46.5" fill="rgb(41,41,41)"/>
<ellipse cx="65.1" cy="96.1" rx="24.8" ry="21.7" fill="rgb(153,153,153)"/>
<ellipse cx="58.9" cy="89.9" rx="10.8" ry="12.4" fill="rgb(212,212,212)"/>
<ellipse cx="74.4" cy="105.4" rx="7.7" ry="7.7" fill="rgb(199,199,199)"/>
<ellipse cx="93.0" cy="74.4" rx="9.3" ry="6.2" fill="rgb(128,128,128)"/>
<ellipse cx="62.0" cy="148.8" rx="31.0" ry="18.6" fill="rgb(115,115,115)"/>
<ellipse cx="55.8" cy="142.6" rx="6.2" ry="4.6" fill="rgb(178,178,178)"/>
<ellipse cx="18.6" cy="161.2" rx="9.3" ry="7.7" fill="rgb(212,212,212)"/>
<ellipse cx="46.5" cy="189.0" rx="24.8" ry="18.6" fill="rgb(140,140,140)"/>
<ellipse cx="46.5" cy="192.1" rx="9.3" ry="12.4" fill="rgb(166,166,166)"/>
<ellipse cx="69.7" cy="230.9" rx="6.2" ry="4.6" fill="rgb(199,199,199)"/>
<ellipse cx="58.9" cy="216.9" rx="6.2" ry="9.3" fill="rgb(128,128,128)"/>
<ellipse cx="192.1" cy="89.9" rx="24.8" ry="18.6" fill="rgb(115,115,115)"/>
<ellipse cx="189.0" cy="91.4" rx="12.4" ry="6.2" fill="rgb(166,166,166)"/>
<ellipse cx="201.4" cy="124.0" rx="18.6" ry="24.8" fill="rgb(76,76,76)"/>
<ellipse cx="204.5" cy="145.7" rx="4.6" ry="3.7" fill="rgb(153,153,153)"/>
<ellipse cx="247.9" cy="89.9" rx="3.1" ry="3.7" fill="rgb(128,128,128)"/>
<ellipse cx="167.3" cy="235.5" rx="27.9" ry="24.8" fill="rgb(166,166,166)"/>
<ellipse cx="155.0" cy="229.3" rx="9.3" ry="9.3" fill="rgb(199,199,199)"/>
<ellipse cx="185.9" cy="235.5" rx="9.3" ry="18.6" fill="rgb(212,212,212)"/>
<ellipse cx="176.6" cy="263.4" rx="6.2" ry="4.6" fill="rgb(204,204,204)"/>
<ellipse cx="164.2" cy="223.1" rx="4.6" ry="4.6" fill="rgb(102,102,102)"/>
<ellipse cx="133.3" cy="303.7" rx="52.7" ry="37.2" fill="rgb(102,102,102)"/>
<ellipse cx="111.6" cy="278.9" rx="9.3" ry="9.3" fill="rgb(199,199,199)"/>
<ellipse cx="93.0" cy="297.5" rx="7.7" ry="7.7" fill="rgb(178,178,178)"/>
<ellipse cx="139.5" cy="309.9" rx="9.3" ry="9.3" fill="rgb(178,178,178)"/>
<ellipse cx="155.0" cy="331.6" rx="6.2" ry="4.6" fill="rgb(178,178,178)"/>
<ellipse cx="117.8" cy="313.0" rx="6.2" ry="6.2" fill="rgb(140,140,140)"/>
<ellipse cx="96.1" cy="27.9" rx="12.4" ry="15.5" fill="rgb(76,76,76)"/>
<ellipse cx="89.9" cy="37.2" rx="4.6" ry="3.1" fill="rgb(153,153,153)"/>
<ellipse cx="137.9" cy="170.4" rx="1.9" ry="1.9" fill="rgb(199,199,199)"/>
<ellipse cx="209.2" cy="210.7" rx="3.1" ry="3.1" fill="rgb(128,128,128)"/>
</g></g>
<use href="#bd"/><use href="#isl"/></g>
<text x="2555.5" y="1666.6" font-size="56" text-anchor="middle" textLength="113.5" lengthAdjust="spacingAndGlyphs" fill="#000">1999</text>
<g transform="translate(2416.0 1674.0)">
<use href="#bd"/><use href="#isl"/></g>
<text x="134.5" y="2072.6" font-size="56" text-anchor="middle" textLength="113.5" lengthAdjust="spacingAndGlyphs" fill="#000">2000</text>
<g transform="translate(-5.0 2080.0)">
<g clip-path="url(#de)"><g filter="url(#f2)"><rect x="-40" y="-40" width="360" height="440" fill="#000"/>

<ellipse cx="197.1" cy="139.5" rx="68.2" ry="31.0" fill="rgb(97,97,97)"/>
<ellipse cx="166.2" cy="130.2" rx="12.4" ry="12.4" fill="rgb(178,178,178)"/>
<ellipse cx="169.2" cy="133.3" rx="4.6" ry="4.6" fill="rgb(212,212,212)"/>
<ellipse cx="209.5" cy="133.3" rx="6.2" ry="6.2" fill="rgb(212,212,212)"/>
<ellipse cx="150.7" cy="142.6" rx="4.6" ry="7.7" fill="rgb(178,178,178)"/>
<ellipse cx="240.5" cy="130.2" rx="12.4" ry="12.4" fill="rgb(153,153,153)"/>
<ellipse cx="252.9" cy="117.8" rx="4.6" ry="6.2" fill="rgb(204,204,204)"/>
<ellipse cx="252.9" cy="164.2" rx="6.2" ry="6.2" fill="rgb(199,199,199)"/>
<ellipse cx="215.7" cy="151.9" rx="6.2" ry="6.2" fill="rgb(166,166,166)"/>
<ellipse cx="256.0" cy="185.9" rx="9.3" ry="12.4" fill="rgb(128,128,128)"/>
<ellipse cx="91.8" cy="108.5" rx="18.6" ry="12.4" fill="rgb(64,64,64)"/>
<ellipse cx="221.9" cy="285.1" rx="12.4" ry="12.4" fill="rgb(122,122,122)"/>
<ellipse cx="225.0" cy="288.2" rx="4.6" ry="4.6" fill="rgb(199,199,199)"/>
<ellipse cx="190.9" cy="282.0" rx="2.5" ry="2.5" fill="rgb(128,128,128)"/>
<ellipse cx="42.2" cy="206.1" rx="3.1" ry="3.1" fill="rgb(140,140,140)"/>
<ellipse cx="160.0" cy="339.3" rx="24.8" ry="2.5" fill="rgb(84,84,84)"/>
</g></g>
<use href="#bd"/><use href="#isl"/></g>
<text x="403.5" y="2072.6" font-size="56" text-anchor="middle" textLength="113.5" lengthAdjust="spacingAndGlyphs" fill="#000">2001</text>
<g transform="translate(264.0 2080.0)">
<g clip-path="url(#de)"><g filter="url(#f3)"><rect x="-40" y="-40" width="360" height="440" fill="#000"/>

<ellipse cx="107.9" cy="130.2" rx="62.0" ry="46.5" fill="rgb(41,41,41)"/>
<ellipse cx="114.1" cy="52.7" rx="31.0" ry="34.1" fill="rgb(128,128,128)"/>
<ellipse cx="101.7" cy="37.2" rx="7.7" ry="9.3" fill="rgb(196,196,196)"/>
<ellipse cx="117.2" cy="40.3" rx="6.2" ry="6.2" fill="rgb(196,196,196)"/>
<ellipse cx="120.3" cy="65.1" rx="6.2" ry="6.2" fill="rgb(196,196,196)"/>
<ellipse cx="101.7" cy="80.6" rx="4.6" ry="4.6" fill="rgb(196,196,196)"/>
<ellipse cx="86.2" cy="62.0" rx="6.2" ry="9.3" fill="rgb(178,178,178)"/>
<ellipse cx="58.3" cy="72.8" rx="4.6" ry="3.1" fill="rgb(128,128,128)"/>
<ellipse cx="58.3" cy="83.7" rx="2.5" ry="2.5" fill="rgb(166,166,166)"/>
<ellipse cx="135.8" cy="136.4" rx="24.8" ry="24.8" fill="rgb(140,140,140)"/>
<ellipse cx="135.8" cy="142.6" rx="10.8" ry="12.4" fill="rgb(214,214,214)"/>
<ellipse cx="154.4" cy="111.6" rx="7.7" ry="6.2" fill="rgb(196,196,196)"/>
<ellipse cx="114.1" cy="124.0" rx="6.2" ry="6.2" fill="rgb(166,166,166)"/>
<ellipse cx="114.1" cy="139.5" rx="4.6" ry="4.6" fill="rgb(196,196,196)"/>
<ellipse cx="92.4" cy="164.2" rx="15.5" ry="9.3" fill="rgb(153,153,153)"/>
<ellipse cx="98.6" cy="168.9" rx="4.6" ry="3.1" fill="rgb(196,196,196)"/>
<ellipse cx="210.2" cy="185.9" rx="52.7" ry="37.2" fill="rgb(148,148,148)"/>
<ellipse cx="219.5" cy="185.9" rx="24.8" ry="18.6" fill="rgb(196,196,196)"/>
<ellipse cx="262.8" cy="189.0" rx="6.2" ry="9.3" fill="rgb(209,209,209)"/>
<ellipse cx="231.8" cy="158.1" rx="9.3" ry="7.7" fill="rgb(209,209,209)"/>
<ellipse cx="247.3" cy="130.2" rx="6.2" ry="9.3" fill="rgb(178,178,178)"/>
<ellipse cx="185.4" cy="204.5" rx="12.4" ry="9.3" fill="rgb(196,196,196)"/>
<ellipse cx="219.5" cy="102.3" rx="31.0" ry="31.0" fill="rgb(76,76,76)"/>
<ellipse cx="188.5" cy="86.8" rx="6.2" ry="4.6" fill="rgb(166,166,166)"/>
<ellipse cx="219.5" cy="89.9" rx="6.2" ry="4.6" fill="rgb(153,153,153)"/>
<ellipse cx="241.1" cy="99.2" rx="4.6" ry="4.6" fill="rgb(178,178,178)"/>
<ellipse cx="224.1" cy="31.0" rx="6.2" ry="7.7" fill="rgb(196,196,196)"/>
<ellipse cx="132.7" cy="257.2" rx="9.3" ry="6.2" fill="rgb(128,128,128)"/>
<ellipse cx="163.7" cy="266.5" rx="4.6" ry="3.1" fill="rgb(102,102,102)"/>
<ellipse cx="56.8" cy="136.4" rx="1.9" ry="1.9" fill="rgb(209,209,209)"/>
</g></g>
<use href="#bd"/><use href="#isl"/></g>
<text x="672.5" y="2072.6" font-size="56" text-anchor="middle" textLength="113.5" lengthAdjust="spacingAndGlyphs" fill="#000">2002</text>
<g transform="translate(533.0 2080.0)">
<g clip-path="url(#de)"><g filter="url(#f4)"><rect x="-40" y="-40" width="360" height="440" fill="#000"/>

<ellipse cx="58.3" cy="325.4" rx="2.5" ry="4.6" fill="rgb(140,140,140)"/>
<ellipse cx="208.3" cy="343.4" rx="2.5" ry="1.9" fill="rgb(178,178,178)"/>
<ellipse cx="44.9" cy="227.8" rx="1.5" ry="1.5" fill="rgb(76,76,76)"/>
</g></g>
<use href="#bd"/><use href="#isl"/></g>
<text x="941.5" y="2072.6" font-size="56" text-anchor="middle" textLength="113.5" lengthAdjust="spacingAndGlyphs" fill="#000">2003</text>
<g transform="translate(802.0 2080.0)">
<g clip-path="url(#de)"><g filter="url(#f5)"><rect x="-40" y="-40" width="360" height="440" fill="#000"/>

<ellipse cx="214.5" cy="65.1" rx="10.8" ry="15.5" fill="rgb(89,89,89)"/>
<ellipse cx="212.9" cy="58.9" rx="4.6" ry="4.6" fill="rgb(140,140,140)"/>
<ellipse cx="216.0" cy="68.2" rx="2.5" ry="2.5" fill="rgb(166,166,166)"/>
<ellipse cx="225.3" cy="83.7" rx="2.5" ry="2.5" fill="rgb(140,140,140)"/>
<ellipse cx="217.6" cy="74.4" rx="12.4" ry="12.4" fill="rgb(46,46,46)"/>
</g></g>
<use href="#bd"/><use href="#isl"/></g>
<text x="1210.5" y="2072.6" font-size="56" text-anchor="middle" textLength="113.5" lengthAdjust="spacingAndGlyphs" fill="#000">2004</text>
<g transform="translate(1071.0 2080.0)">
<g clip-path="url(#de)"><g filter="url(#f0)"><rect x="-40" y="-40" width="360" height="440" fill="#000"/>

<ellipse cx="139.5" cy="216.9" rx="108.5" ry="124.0" fill="rgb(36,36,36)"/>
<ellipse cx="105.4" cy="21.7" rx="18.6" ry="12.4" fill="rgb(128,128,128)"/>
<ellipse cx="102.3" cy="17.0" rx="9.3" ry="6.2" fill="rgb(166,166,166)"/>
<ellipse cx="124.0" cy="62.0" rx="24.8" ry="24.8" fill="rgb(76,76,76)"/>
<ellipse cx="176.6" cy="71.3" rx="27.9" ry="18.6" fill="rgb(115,115,115)"/>
<ellipse cx="176.6" cy="71.3" rx="9.3" ry="6.2" fill="rgb(158,158,158)"/>
<ellipse cx="195.2" cy="62.0" rx="7.7" ry="7.7" fill="rgb(140,140,140)"/>
<ellipse cx="105.4" cy="86.8" rx="27.9" ry="18.6" fill="rgb(102,102,102)"/>
<ellipse cx="37.2" cy="124.0" rx="15.5" ry="12.4" fill="rgb(89,89,89)"/>
<ellipse cx="232.4" cy="173.5" rx="34.1" ry="34.1" fill="rgb(115,115,115)"/>
<ellipse cx="241.7" cy="185.9" rx="18.6" ry="15.5" fill="rgb(191,191,191)"/>
<ellipse cx="251.0" cy="185.9" rx="9.3" ry="12.4" fill="rgb(217,217,217)"/>
<ellipse cx="220.0" cy="210.7" rx="9.3" ry="4.6" fill="rgb(212,212,212)"/>
<ellipse cx="216.9" cy="145.7" rx="6.2" ry="6.2" fill="rgb(153,153,153)"/>
<ellipse cx="105.4" cy="223.1" rx="34.1" ry="46.5" fill="rgb(140,140,140)"/>
<ellipse cx="114.7" cy="210.7" rx="9.3" ry="12.4" fill="rgb(199,199,199)"/>
<ellipse cx="96.1" cy="254.1" rx="9.3" ry="12.4" fill="rgb(212,212,212)"/>
<ellipse cx="80.6" cy="223.1" rx="9.3" ry="6.2" fill="rgb(204,204,204)"/>
<ellipse cx="71.3" cy="235.5" rx="6.2" ry="4.6" fill="rgb(199,199,199)"/>
<ellipse cx="74.4" cy="266.5" rx="4.6" ry="6.2" fill="rgb(204,204,204)"/>
<ellipse cx="40.3" cy="247.9" rx="27.9" ry="24.8" fill="rgb(115,115,115)"/>
<ellipse cx="21.7" cy="232.4" rx="6.2" ry="6.2" fill="rgb(204,204,204)"/>
<ellipse cx="40.3" cy="257.2" rx="6.2" ry="4.6" fill="rgb(166,166,166)"/>
<ellipse cx="173.5" cy="266.5" rx="52.7" ry="52.7" fill="rgb(97,97,97)"/>
<ellipse cx="158.1" cy="266.5" rx="6.2" ry="6.2" fill="rgb(204,204,204)"/>
<ellipse cx="148.8" cy="223.1" rx="6.2" ry="9.3" fill="rgb(204,204,204)"/>
<ellipse cx="179.7" cy="229.3" rx="9.3" ry="6.2" fill="rgb(178,178,178)"/>
<ellipse cx="229.3" cy="297.5" rx="6.2" ry="6.2" fill="rgb(153,153,153)"/>
<ellipse cx="80.6" cy="306.8" rx="18.6" ry="18.6" fill="rgb(115,115,115)"/>
<ellipse cx="71.3" cy="316.1" rx="9.3" ry="6.2" fill="rgb(199,199,199)"/>
<ellipse cx="173.5" cy="322.3" rx="18.6" ry="9.3" fill="rgb(115,115,115)"/>
<ellipse cx="179.7" cy="319.2" rx="4.6" ry="3.1" fill="rgb(178,178,178)"/>
</g></g>
<use href="#bd"/><use href="#isl"/></g>
<text x="1479.5" y="2072.6" font-size="56" text-anchor="middle" textLength="113.5" lengthAdjust="spacingAndGlyphs" fill="#000">2005</text>
<g transform="translate(1340.0 2080.0)">
<g clip-path="url(#de)"><g filter="url(#f1)"><rect x="-40" y="-40" width="360" height="440" fill="#000"/>

<ellipse cx="71.9" cy="247.9" rx="21.7" ry="18.6" fill="rgb(128,128,128)"/>
<ellipse cx="71.9" cy="247.9" rx="13.9" ry="12.4" fill="rgb(207,207,207)"/>
<ellipse cx="68.8" cy="251.0" rx="9.3" ry="6.2" fill="rgb(224,224,224)"/>
<ellipse cx="31.6" cy="244.8" rx="7.7" ry="6.2" fill="rgb(102,102,102)"/>
<ellipse cx="171.1" cy="325.4" rx="37.2" ry="18.6" fill="rgb(84,84,84)"/>
<ellipse cx="164.9" cy="325.4" rx="12.4" ry="4.6" fill="rgb(166,166,166)" transform="rotate(-30 164.86636915829928 325.3997768687244)"/>
<ellipse cx="152.5" cy="344.0" rx="6.2" ry="4.6" fill="rgb(199,199,199)"/>
<ellipse cx="133.9" cy="347.1" rx="4.6" ry="6.2" fill="rgb(178,178,178)"/>
<ellipse cx="109.1" cy="334.7" rx="4.6" ry="3.1" fill="rgb(153,153,153)"/>
<ellipse cx="226.8" cy="89.9" rx="4.6" ry="4.6" fill="rgb(128,128,128)"/>
<ellipse cx="146.3" cy="57.3" rx="2.5" ry="2.5" fill="rgb(128,128,128)"/>
<ellipse cx="171.1" cy="49.6" rx="2.5" ry="2.5" fill="rgb(128,128,128)"/>
</g></g>
<use href="#bd"/><use href="#isl"/></g>
<text x="1748.5" y="2072.6" font-size="56" text-anchor="middle" textLength="113.5" lengthAdjust="spacingAndGlyphs" fill="#000">2006</text>
<g transform="translate(1609.0 2080.0)">
<g clip-path="url(#de)"><g filter="url(#f2)"><rect x="-40" y="-40" width="360" height="440" fill="#000"/>

<ellipse cx="124.0" cy="278.9" rx="111.6" ry="77.5" fill="rgb(122,122,122)"/>
<ellipse cx="62.0" cy="179.7" rx="52.7" ry="37.2" fill="rgb(107,107,107)"/>
<ellipse cx="223.1" cy="117.8" rx="37.2" ry="40.3" fill="rgb(46,46,46)"/>
<ellipse cx="55.8" cy="102.3" rx="24.8" ry="24.8" fill="rgb(97,97,97)"/>
<ellipse cx="164.2" cy="285.1" rx="18.6" ry="18.6" fill="rgb(28,28,28)"/>
<ellipse cx="148.8" cy="247.9" rx="12.4" ry="12.4" fill="rgb(41,41,41)"/>
<ellipse cx="185.9" cy="328.5" rx="6.2" ry="6.2" fill="rgb(41,41,41)"/>
<ellipse cx="93.0" cy="297.5" rx="40.3" ry="46.5" fill="rgb(204,204,204)"/>
<ellipse cx="62.0" cy="303.7" rx="18.6" ry="31.0" fill="rgb(255,255,255)"/>
<ellipse cx="111.6" cy="285.1" rx="12.4" ry="12.4" fill="rgb(115,115,115)"/>
<ellipse cx="40.3" cy="241.7" rx="27.9" ry="21.7" fill="rgb(217,217,217)"/>
<ellipse cx="37.2" cy="260.3" rx="18.6" ry="12.4" fill="rgb(230,230,230)"/>
<ellipse cx="161.2" cy="328.5" rx="49.6" ry="15.5" fill="rgb(224,224,224)"/>
<ellipse cx="192.1" cy="334.7" rx="18.6" ry="9.3" fill="rgb(255,255,255)"/>
<ellipse cx="201.4" cy="272.7" rx="24.8" ry="27.9" fill="rgb(224,224,224)"/>
<ellipse cx="213.8" cy="278.9" rx="12.4" ry="15.5" fill="rgb(255,255,255)"/>
<ellipse cx="124.0" cy="229.3" rx="24.8" ry="18.6" fill="rgb(204,204,204)"/>
<ellipse cx="105.4" cy="216.9" rx="12.4" ry="9.3" fill="rgb(217,217,217)"/>
<ellipse cx="46.5" cy="182.8" rx="12.4" ry="9.3" fill="rgb(191,191,191)"/>
<ellipse cx="86.8" cy="192.1" rx="9.3" ry="9.3" fill="rgb(178,178,178)"/>
<ellipse cx="127.1" cy="43.4" rx="31.0" ry="27.9" fill="rgb(140,140,140)"/>
<ellipse cx="114.7" cy="21.7" rx="7.7" ry="9.3" fill="rgb(217,217,217)"/>
<ellipse cx="142.6" cy="52.7" rx="15.5" ry="12.4" fill="rgb(217,217,217)"/>
<ellipse cx="155.0" cy="62.0" rx="7.7" ry="6.2" fill="rgb(217,217,217)"/>
<ellipse cx="237.1" cy="62.0" rx="7.7" ry="12.4" fill="rgb(217,217,217)"/>
<ellipse cx="37.2" cy="124.0" rx="9.3" ry="9.3" fill="rgb(178,178,178)"/>
<ellipse cx="244.8" cy="133.3" rx="4.6" ry="6.2" fill="rgb(178,178,178)"/>
<ellipse cx="185.9" cy="210.7" rx="46.5" ry="7.7" fill="rgb(153,153,153)" transform="rotate(-15 185.9427296392711 210.73509359117392)"/>
<ellipse cx="198.3" cy="220.0" rx="9.3" ry="3.1" fill="rgb(217,217,217)"/>
<ellipse cx="142.6" cy="158.1" rx="3.1" ry="2.5" fill="rgb(217,217,217)"/>
<ellipse cx="260.3" cy="195.2" rx="3.1" ry="3.1" fill="rgb(128,128,128)"/>
</g></g>
<use href="#bd"/><use href="#isl"/></g>
<text x="2017.5" y="2072.6" font-size="56" text-anchor="middle" textLength="113.5" lengthAdjust="spacingAndGlyphs" fill="#000">2007</text>
<g transform="translate(1878.0 2080.0)">
<g clip-path="url(#de)"><g filter="url(#f3)"><rect x="-40" y="-40" width="360" height="440" fill="#000"/>

<ellipse cx="164.9" cy="300.6" rx="55.8" ry="40.3" fill="rgb(148,148,148)"/>
<ellipse cx="164.9" cy="297.5" rx="34.1" ry="21.7" fill="rgb(212,212,212)"/>
<ellipse cx="158.7" cy="294.4" rx="18.6" ry="12.4" fill="rgb(224,224,224)"/>
<ellipse cx="112.2" cy="316.1" rx="12.4" ry="12.4" fill="rgb(199,199,199)"/>
<ellipse cx="195.9" cy="316.1" rx="15.5" ry="15.5" fill="rgb(199,199,199)"/>
<ellipse cx="189.7" cy="272.7" rx="12.4" ry="9.3" fill="rgb(204,204,204)"/>
<ellipse cx="133.9" cy="272.7" rx="12.4" ry="9.3" fill="rgb(178,178,178)"/>
<ellipse cx="214.5" cy="303.7" rx="6.2" ry="6.2" fill="rgb(51,51,51)"/>
<ellipse cx="146.3" cy="334.7" rx="9.3" ry="6.2" fill="rgb(76,76,76)"/>
<ellipse cx="226.8" cy="145.7" rx="34.1" ry="34.1" fill="rgb(140,140,140)"/>
<ellipse cx="226.8" cy="145.7" rx="18.6" ry="18.6" fill="rgb(217,217,217)"/>
<ellipse cx="214.5" cy="164.2" rx="9.3" ry="6.2" fill="rgb(212,212,212)"/>
<ellipse cx="239.2" cy="99.2" rx="9.3" ry="12.4" fill="rgb(140,140,140)"/>
<ellipse cx="161.8" cy="155.0" rx="34.1" ry="34.1" fill="rgb(115,115,115)"/>
<ellipse cx="158.7" cy="155.0" rx="12.4" ry="9.3" fill="rgb(199,199,199)"/>
<ellipse cx="133.9" cy="136.4" rx="9.3" ry="6.2" fill="rgb(178,178,178)"/>
<ellipse cx="161.8" cy="185.9" rx="12.4" ry="6.2" fill="rgb(199,199,199)"/>
<ellipse cx="177.3" cy="179.7" rx="6.2" ry="6.2" fill="rgb(204,204,204)"/>
<ellipse cx="112.2" cy="185.9" rx="4.6" ry="6.2" fill="rgb(191,191,191)"/>
<ellipse cx="34.7" cy="207.6" rx="4.6" ry="4.6" fill="rgb(204,204,204)"/>
<ellipse cx="50.2" cy="216.9" rx="12.4" ry="3.1" fill="rgb(153,153,153)" transform="rotate(25 50.201685880748755 216.93318457914964)"/>
<ellipse cx="75.0" cy="244.8" rx="3.7" ry="6.2" fill="rgb(153,153,153)"/>
<ellipse cx="79.6" cy="257.2" rx="2.5" ry="4.6" fill="rgb(204,204,204)"/>
<ellipse cx="36.3" cy="142.6" rx="1.9" ry="1.5" fill="rgb(212,212,212)"/>
<ellipse cx="93.6" cy="127.1" rx="1.9" ry="1.9" fill="rgb(178,178,178)"/>
<ellipse cx="71.9" cy="167.3" rx="9.3" ry="6.2" fill="rgb(51,51,51)"/>
</g></g>
<use href="#bd"/><use href="#isl"/></g>
<text x="2286.5" y="2072.6" font-size="56" text-anchor="middle" textLength="113.5" lengthAdjust="spacingAndGlyphs" fill="#000">2008</text>
<g transform="translate(2147.0 2080.0)">
<g clip-path="url(#de)"><g filter="url(#f4)"><rect x="-40" y="-40" width="360" height="440" fill="#000"/>

<ellipse cx="77.5" cy="269.6" rx="46.5" ry="62.0" fill="rgb(38,38,38)"/>
<ellipse cx="74.4" cy="260.3" rx="15.5" ry="12.4" fill="rgb(115,115,115)"/>
<ellipse cx="79.0" cy="268.1" rx="6.2" ry="6.2" fill="rgb(191,191,191)"/>
<ellipse cx="71.3" cy="241.7" rx="4.6" ry="3.7" fill="rgb(128,128,128)"/>
<ellipse cx="52.7" cy="223.1" rx="2.5" ry="2.5" fill="rgb(128,128,128)"/>
<ellipse cx="57.3" cy="337.8" rx="3.1" ry="6.2" fill="rgb(217,217,217)"/>
<ellipse cx="58.9" cy="319.2" rx="3.1" ry="7.7" fill="rgb(128,128,128)"/>
<ellipse cx="120.9" cy="27.9" rx="2.5" ry="2.5" fill="rgb(115,115,115)"/>
<ellipse cx="155.0" cy="34.1" rx="2.5" ry="2.5" fill="rgb(115,115,115)"/>
<ellipse cx="102.3" cy="334.7" rx="9.3" ry="6.2" fill="rgb(64,64,64)"/>
</g></g>
<use href="#bd"/><use href="#isl"/></g>
<text x="2555.5" y="2072.6" font-size="56" text-anchor="middle" textLength="113.5" lengthAdjust="spacingAndGlyphs" fill="#000">2009</text>
<g transform="translate(2416.0 2080.0)">
<g clip-path="url(#de)"><g filter="url(#f5)"><rect x="-40" y="-40" width="360" height="440" fill="#000"/>

<ellipse cx="118.4" cy="235.5" rx="108.5" ry="124.0" fill="rgb(66,66,66)"/>
<ellipse cx="202.1" cy="155.0" rx="46.5" ry="62.0" fill="rgb(26,26,26)"/>
<ellipse cx="195.9" cy="62.0" rx="52.7" ry="31.0" fill="rgb(46,46,46)"/>
<ellipse cx="202.1" cy="52.7" rx="6.2" ry="4.6" fill="rgb(115,115,115)"/>
<ellipse cx="239.2" cy="58.9" rx="4.6" ry="6.2" fill="rgb(102,102,102)"/>
<ellipse cx="40.9" cy="201.4" rx="12.4" ry="15.5" fill="rgb(31,31,31)"/>
<ellipse cx="112.2" cy="223.1" rx="15.5" ry="12.4" fill="rgb(36,36,36)"/>
<ellipse cx="171.1" cy="247.9" rx="18.6" ry="18.6" fill="rgb(31,31,31)"/>
<ellipse cx="133.9" cy="291.3" rx="12.4" ry="12.4" fill="rgb(38,38,38)"/>
<ellipse cx="87.4" cy="294.4" rx="15.5" ry="15.5" fill="rgb(38,38,38)"/>
<ellipse cx="189.7" cy="334.7" rx="15.5" ry="9.3" fill="rgb(38,38,38)"/>
<ellipse cx="87.4" cy="155.0" rx="52.7" ry="18.6" fill="rgb(140,140,140)"/>
<ellipse cx="71.9" cy="158.1" rx="15.5" ry="9.3" fill="rgb(209,209,209)"/>
<ellipse cx="81.2" cy="155.0" rx="9.3" ry="6.2" fill="rgb(224,224,224)"/>
<ellipse cx="121.5" cy="148.8" rx="12.4" ry="9.3" fill="rgb(153,153,153)"/>
<ellipse cx="96.7" cy="96.1" rx="18.6" ry="9.3" fill="rgb(128,128,128)"/>
<ellipse cx="127.7" cy="130.2" rx="12.4" ry="9.3" fill="rgb(115,115,115)"/>
<ellipse cx="71.9" cy="247.9" rx="40.3" ry="31.0" fill="rgb(133,133,133)"/>
<ellipse cx="47.1" cy="232.4" rx="9.3" ry="9.3" fill="rgb(173,173,173)"/>
<ellipse cx="75.0" cy="244.8" rx="6.2" ry="9.3" fill="rgb(204,204,204)"/>
<ellipse cx="84.3" cy="260.3" rx="6.2" ry="6.2" fill="rgb(204,204,204)"/>
<ellipse cx="115.3" cy="257.2" rx="4.6" ry="4.6" fill="rgb(191,191,191)"/>
<ellipse cx="40.9" cy="251.0" rx="4.6" ry="4.6" fill="rgb(204,204,204)"/>
<ellipse cx="112.2" cy="198.3" rx="3.7" ry="3.7" fill="rgb(204,204,204)"/>
<ellipse cx="152.5" cy="313.0" rx="21.7" ry="18.6" fill="rgb(168,168,168)"/>
<ellipse cx="155.6" cy="316.1" rx="12.4" ry="9.3" fill="rgb(224,224,224)"/>
<ellipse cx="121.5" cy="322.3" rx="6.2" ry="6.2" fill="rgb(204,204,204)"/>
<ellipse cx="195.9" cy="266.5" rx="6.2" ry="6.2" fill="rgb(204,204,204)"/>
<ellipse cx="220.6" cy="294.4" rx="9.3" ry="9.3" fill="rgb(148,148,148)"/>
<ellipse cx="133.9" cy="348.6" rx="4.6" ry="4.6" fill="rgb(204,204,204)"/>
<ellipse cx="68.8" cy="328.5" rx="4.6" ry="4.6" fill="rgb(153,153,153)"/>
<ellipse cx="180.4" cy="278.9" rx="12.4" ry="9.3" fill="rgb(115,115,115)"/>
<ellipse cx="149.4" cy="216.9" rx="12.4" ry="9.3" fill="rgb(115,115,115)"/>
</g></g>
<use href="#bd"/><use href="#isl"/></g>
<text x="134.5" y="2478.6" font-size="56" text-anchor="middle" textLength="113.5" lengthAdjust="spacingAndGlyphs" fill="#000">2010</text>
<g transform="translate(-5.0 2486.0)">
<g clip-path="url(#de)"><g filter="url(#f0)"><rect x="-40" y="-40" width="360" height="440" fill="#000"/>

<ellipse cx="88.7" cy="65.1" rx="3.1" ry="4.6" fill="rgb(76,76,76)"/>
<ellipse cx="197.1" cy="55.8" rx="6.2" ry="3.7" fill="rgb(64,64,64)"/>
<ellipse cx="42.2" cy="216.9" rx="6.2" ry="3.7" fill="rgb(76,76,76)"/>
<ellipse cx="74.7" cy="330.0" rx="1.5" ry="1.5" fill="rgb(140,140,140)"/>
<ellipse cx="160.0" cy="326.9" rx="4.6" ry="2.5" fill="rgb(64,64,64)"/>
<ellipse cx="259.1" cy="198.3" rx="1.9" ry="3.1" fill="rgb(89,89,89)"/>
</g></g>
<use href="#bd"/><use href="#isl"/></g>
<text x="403.5" y="2478.6" font-size="56" text-anchor="middle" textLength="113.5" lengthAdjust="spacingAndGlyphs" fill="#000">2011</text>
<g transform="translate(264.0 2486.0)">
<g clip-path="url(#de)"><g filter="url(#f1)"><rect x="-40" y="-40" width="360" height="440" fill="#000"/>

<ellipse cx="216.4" cy="303.7" rx="9.3" ry="18.6" fill="rgb(76,76,76)"/>
<ellipse cx="217.9" cy="309.9" rx="2.5" ry="6.2" fill="rgb(128,128,128)"/>
<ellipse cx="190.0" cy="334.7" rx="3.1" ry="3.1" fill="rgb(140,140,140)"/>
<ellipse cx="207.1" cy="334.7" rx="3.1" ry="3.1" fill="rgb(128,128,128)"/>
<ellipse cx="64.5" cy="333.1" rx="3.1" ry="4.6" fill="rgb(128,128,128)"/>
<ellipse cx="19.6" cy="235.5" rx="3.1" ry="3.7" fill="rgb(76,76,76)"/>
<ellipse cx="185.4" cy="328.5" rx="9.3" ry="4.6" fill="rgb(64,64,64)"/>
</g></g>
<use href="#bd"/><use href="#isl"/></g>
<text x="672.5" y="2478.6" font-size="56" text-anchor="middle" textLength="113.5" lengthAdjust="spacingAndGlyphs" fill="#000">2012</text>
<g transform="translate(533.0 2486.0)">
<g clip-path="url(#de)"><g filter="url(#f2)"><rect x="-40" y="-40" width="360" height="440" fill="#000"/>

<ellipse cx="108.5" cy="235.5" rx="102.3" ry="117.8" fill="rgb(56,56,56)"/>
<ellipse cx="192.1" cy="74.4" rx="40.3" ry="24.8" fill="rgb(46,46,46)"/>
<ellipse cx="216.9" cy="185.9" rx="37.2" ry="24.8" fill="rgb(46,46,46)"/>
<ellipse cx="99.2" cy="316.1" rx="15.5" ry="15.5" fill="rgb(26,26,26)"/>
<ellipse cx="58.9" cy="247.9" rx="7.7" ry="7.7" fill="rgb(31,31,31)"/>
<ellipse cx="161.2" cy="247.9" rx="18.6" ry="15.5" fill="rgb(31,31,31)"/>
<ellipse cx="40.3" cy="198.3" rx="15.5" ry="15.5" fill="rgb(97,97,97)"/>
<ellipse cx="40.3" cy="198.3" rx="4.6" ry="4.6" fill="rgb(128,128,128)"/>
<ellipse cx="40.3" cy="161.2" rx="3.1" ry="3.1" fill="rgb(140,140,140)"/>
<ellipse cx="43.4" cy="216.9" rx="15.5" ry="9.3" fill="rgb(82,82,82)"/>
<ellipse cx="21.7" cy="229.3" rx="6.2" ry="6.2" fill="rgb(89,89,89)"/>
<ellipse cx="130.2" cy="167.3" rx="6.2" ry="6.2" fill="rgb(115,115,115)"/>
<ellipse cx="158.1" cy="189.0" rx="9.3" ry="6.2" fill="rgb(107,107,107)"/>
<ellipse cx="142.6" cy="203.0" rx="2.5" ry="2.5" fill="rgb(178,178,178)"/>
<ellipse cx="167.3" cy="151.9" rx="3.1" ry="3.1" fill="rgb(115,115,115)"/>
<ellipse cx="181.3" cy="173.5" rx="1.5" ry="3.7" fill="rgb(178,178,178)"/>
<ellipse cx="96.1" cy="272.7" rx="7.7" ry="6.2" fill="rgb(89,89,89)"/>
<ellipse cx="173.5" cy="278.9" rx="4.6" ry="4.6" fill="rgb(97,97,97)"/>
<ellipse cx="201.4" cy="294.4" rx="9.3" ry="7.7" fill="rgb(102,102,102)"/>
<ellipse cx="62.0" cy="319.2" rx="3.1" ry="4.6" fill="rgb(115,115,115)"/>
<ellipse cx="170.4" cy="344.0" rx="40.3" ry="4.6" fill="rgb(158,158,158)"/>
<ellipse cx="136.4" cy="350.2" rx="3.1" ry="3.1" fill="rgb(217,217,217)"/>
<ellipse cx="155.0" cy="344.0" rx="4.6" ry="3.1" fill="rgb(217,217,217)"/>
<ellipse cx="215.4" cy="58.9" rx="1.9" ry="3.1" fill="rgb(217,217,217)"/>
<ellipse cx="220.0" cy="127.1" rx="6.2" ry="4.6" fill="rgb(76,76,76)"/>
</g></g>
<use href="#bd"/><use href="#isl"/></g>
<text x="941.5" y="2478.6" font-size="56" text-anchor="middle" textLength="113.5" lengthAdjust="spacingAndGlyphs" fill="#000">2013</text>
<g transform="translate(802.0 2486.0)">
<g clip-path="url(#de)"><g filter="url(#f3)"><rect x="-40" y="-40" width="360" height="440" fill="#000"/>

<ellipse cx="84.3" cy="170.4" rx="21.7" ry="10.8" fill="rgb(71,71,71)"/>
<ellipse cx="71.9" cy="170.4" rx="6.2" ry="3.1" fill="rgb(107,107,107)"/>
<ellipse cx="84.3" cy="170.4" rx="4.6" ry="3.1" fill="rgb(107,107,107)"/>
<ellipse cx="115.3" cy="151.9" rx="7.7" ry="4.6" fill="rgb(128,128,128)"/>
<ellipse cx="174.2" cy="334.7" rx="3.1" ry="4.6" fill="rgb(217,217,217)"/>
<ellipse cx="197.4" cy="337.8" rx="3.1" ry="2.5" fill="rgb(217,217,217)"/>
<ellipse cx="106.0" cy="97.6" rx="1.5" ry="1.5" fill="rgb(128,128,128)"/>
</g></g>
<use href="#bd"/><use href="#isl"/></g>
<text x="1210.5" y="2478.6" font-size="56" text-anchor="middle" textLength="113.5" lengthAdjust="spacingAndGlyphs" fill="#000">2014</text>
<g transform="translate(1071.0 2486.0)">
<g clip-path="url(#de)"><g filter="url(#f4)"><rect x="-40" y="-40" width="360" height="440" fill="#000"/>

<ellipse cx="77.5" cy="148.8" rx="52.7" ry="43.4" fill="rgb(51,51,51)"/>
<ellipse cx="80.6" cy="155.0" rx="12.4" ry="12.4" fill="rgb(82,82,82)"/>
<ellipse cx="117.8" cy="108.5" rx="6.2" ry="6.2" fill="rgb(89,89,89)"/>
<ellipse cx="46.5" cy="195.2" rx="12.4" ry="4.6" fill="rgb(102,102,102)"/>
<ellipse cx="210.7" cy="195.2" rx="46.5" ry="21.7" fill="rgb(122,122,122)" transform="rotate(-20 210.73509359117392 195.23986612123466)"/>
<ellipse cx="207.6" cy="189.0" rx="12.4" ry="9.3" fill="rgb(178,178,178)"/>
<ellipse cx="210.7" cy="189.0" rx="4.6" ry="3.7" fill="rgb(199,199,199)"/>
<ellipse cx="254.1" cy="179.7" rx="12.4" ry="12.4" fill="rgb(140,140,140)"/>
<ellipse cx="173.5" cy="213.8" rx="12.4" ry="9.3" fill="rgb(140,140,140)"/>
<ellipse cx="173.5" cy="263.4" rx="24.8" ry="37.2" fill="rgb(71,71,71)"/>
<ellipse cx="204.5" cy="294.4" rx="24.8" ry="21.7" fill="rgb(140,140,140)"/>
<ellipse cx="210.7" cy="297.5" rx="12.4" ry="9.3" fill="rgb(209,209,209)"/>
<ellipse cx="251.0" cy="130.2" rx="6.2" ry="40.3" fill="rgb(71,71,71)"/>
<ellipse cx="120.9" cy="334.7" rx="3.1" ry="3.1" fill="rgb(115,115,115)"/>
<ellipse cx="210.7" cy="340.9" rx="3.1" ry="3.1" fill="rgb(115,115,115)"/>
</g></g>
<use href="#bd"/><use href="#isl"/></g>
<text x="1479.5" y="2478.6" font-size="56" text-anchor="middle" textLength="113.5" lengthAdjust="spacingAndGlyphs" fill="#000">2015</text>
<g transform="translate(1340.0 2486.0)">
<g clip-path="url(#de)"><g filter="url(#f5)"><rect x="-40" y="-40" width="360" height="440" fill="#000"/>

<ellipse cx="102.9" cy="93.0" rx="62.0" ry="37.2" fill="rgb(69,69,69)"/>
<ellipse cx="118.4" cy="52.7" rx="18.6" ry="24.8" fill="rgb(51,51,51)"/>
<ellipse cx="177.3" cy="62.0" rx="27.9" ry="18.6" fill="rgb(41,41,41)"/>
<ellipse cx="65.7" cy="83.7" rx="34.1" ry="18.6" fill="rgb(140,140,140)"/>
<ellipse cx="50.2" cy="74.4" rx="9.3" ry="6.2" fill="rgb(199,199,199)"/>
<ellipse cx="87.4" cy="71.3" rx="7.7" ry="9.3" fill="rgb(199,199,199)"/>
<ellipse cx="53.3" cy="89.9" rx="9.3" ry="9.3" fill="rgb(166,166,166)"/>
<ellipse cx="223.7" cy="142.6" rx="34.1" ry="40.3" fill="rgb(110,110,110)"/>
<ellipse cx="220.6" cy="170.4" rx="15.5" ry="6.2" fill="rgb(207,207,207)"/>
<ellipse cx="202.1" cy="117.8" rx="9.3" ry="6.2" fill="rgb(178,178,178)"/>
<ellipse cx="220.6" cy="124.0" rx="6.2" ry="6.2" fill="rgb(191,191,191)"/>
<ellipse cx="251.6" cy="158.1" rx="4.6" ry="6.2" fill="rgb(204,204,204)"/>
<ellipse cx="205.2" cy="155.0" rx="6.2" ry="6.2" fill="rgb(166,166,166)"/>
<ellipse cx="242.3" cy="185.9" rx="3.1" ry="3.1" fill="rgb(178,178,178)"/>
<ellipse cx="140.1" cy="133.3" rx="10.8" ry="6.2" fill="rgb(178,178,178)"/>
<ellipse cx="161.8" cy="139.5" rx="2.5" ry="2.5" fill="rgb(153,153,153)"/>
<ellipse cx="168.0" cy="155.0" rx="1.9" ry="1.9" fill="rgb(153,153,153)"/>
</g></g>
<use href="#bd"/><use href="#isl"/></g>
<text x="1748.5" y="2478.6" font-size="56" text-anchor="middle" textLength="113.5" lengthAdjust="spacingAndGlyphs" fill="#000">2016</text>
<g transform="translate(1609.0 2486.0)">
<g clip-path="url(#de)"><g filter="url(#f0)"><rect x="-40" y="-40" width="360" height="440" fill="#000"/>

<ellipse cx="170.4" cy="285.1" rx="40.3" ry="31.0" fill="rgb(33,33,33)"/>
<ellipse cx="93.0" cy="303.7" rx="40.3" ry="37.2" fill="rgb(115,115,115)"/>
<ellipse cx="89.9" cy="306.8" rx="9.3" ry="7.7" fill="rgb(212,212,212)"/>
<ellipse cx="77.5" cy="294.4" rx="9.3" ry="6.2" fill="rgb(204,204,204)"/>
<ellipse cx="108.5" cy="278.9" rx="9.3" ry="6.2" fill="rgb(191,191,191)"/>
<ellipse cx="65.1" cy="331.6" rx="7.7" ry="6.2" fill="rgb(204,204,204)"/>
<ellipse cx="117.8" cy="297.5" rx="6.2" ry="6.2" fill="rgb(178,178,178)"/>
<ellipse cx="62.0" cy="260.3" rx="12.4" ry="15.5" fill="rgb(158,158,158)"/>
<ellipse cx="63.5" cy="263.4" rx="6.2" ry="6.2" fill="rgb(199,199,199)"/>
<ellipse cx="195.2" cy="316.1" rx="31.0" ry="21.7" fill="rgb(133,133,133)"/>
<ellipse cx="192.1" cy="319.2" rx="15.5" ry="12.4" fill="rgb(207,207,207)"/>
<ellipse cx="164.2" cy="328.5" rx="6.2" ry="4.6" fill="rgb(153,153,153)"/>
<ellipse cx="155.0" cy="272.7" rx="3.1" ry="3.1" fill="rgb(191,191,191)"/>
<ellipse cx="148.8" cy="285.1" rx="2.5" ry="2.5" fill="rgb(178,178,178)"/>
<ellipse cx="158.1" cy="204.5" rx="12.4" ry="12.4" fill="rgb(71,71,71)"/>
<ellipse cx="145.7" cy="203.0" rx="1.5" ry="1.5" fill="rgb(204,204,204)"/>
<ellipse cx="49.6" cy="238.6" rx="18.6" ry="9.3" fill="rgb(41,41,41)"/>
<ellipse cx="89.9" cy="254.1" rx="3.1" ry="3.1" fill="rgb(140,140,140)"/>
<ellipse cx="37.2" cy="260.3" rx="6.2" ry="6.2" fill="rgb(64,64,64)"/>
</g></g>
<use href="#bd"/><use href="#isl"/></g>
<text x="2017.5" y="2478.6" font-size="56" text-anchor="middle" textLength="113.5" lengthAdjust="spacingAndGlyphs" fill="#000">2017</text>
<g transform="translate(1878.0 2486.0)">
<g clip-path="url(#de)"><g filter="url(#f1)"><rect x="-40" y="-40" width="360" height="440" fill="#000"/>

<ellipse cx="189.7" cy="294.4" rx="40.3" ry="43.4" fill="rgb(89,89,89)"/>
<ellipse cx="189.7" cy="77.5" rx="37.2" ry="31.0" fill="rgb(107,107,107)"/>
<path d="M78.1 9.3 118.4 15.5 143.2 40.3 149.4 77.5 133.9 108.5 102.9 130.2 96.7 155.0 118.4 185.9 133.9 216.9 164.9 223.1 195.9 247.9 189.7 278.9 164.9 309.9 149.4 347.1 56.4 340.9 53.3 278.9 25.4 263.4 16.1 216.9 13.0 155.0 34.7 117.8 34.7 68.2 71.9 62.0 84.3 31.0Z" fill="rgb(204,204,204)"/>
<ellipse cx="78.1" cy="93.0" rx="34.1" ry="27.9" fill="rgb(255,255,255)"/>
<ellipse cx="34.7" cy="238.6" rx="18.6" ry="24.8" fill="rgb(255,255,255)"/>
<ellipse cx="59.5" cy="179.7" rx="27.9" ry="24.8" fill="rgb(235,235,235)"/>
<ellipse cx="87.4" cy="278.9" rx="24.8" ry="24.8" fill="rgb(230,230,230)"/>
<ellipse cx="133.9" cy="235.5" rx="18.6" ry="12.4" fill="rgb(230,230,230)"/>
<ellipse cx="102.9" cy="40.3" rx="15.5" ry="15.5" fill="rgb(235,235,235)"/>
<ellipse cx="121.5" cy="148.8" rx="27.9" ry="31.0" fill="rgb(76,76,76)"/>
<ellipse cx="140.1" cy="201.4" rx="18.6" ry="18.6" fill="rgb(89,89,89)"/>
<ellipse cx="93.6" cy="155.0" rx="6.2" ry="9.3" fill="rgb(102,102,102)"/>
<ellipse cx="40.9" cy="210.7" rx="12.4" ry="9.3" fill="rgb(115,115,115)"/>
<ellipse cx="71.9" cy="247.9" rx="6.2" ry="15.5" fill="rgb(102,102,102)"/>
<ellipse cx="195.9" cy="285.1" rx="15.5" ry="18.6" fill="rgb(51,51,51)"/>
<ellipse cx="158.7" cy="325.4" rx="18.6" ry="12.4" fill="rgb(64,64,64)"/>
<ellipse cx="180.4" cy="71.3" rx="12.4" ry="9.3" fill="rgb(204,204,204)"/>
<ellipse cx="195.9" cy="40.3" rx="9.3" ry="9.3" fill="rgb(204,204,204)"/>
<ellipse cx="226.8" cy="102.3" rx="7.7" ry="7.7" fill="rgb(178,178,178)"/>
<ellipse cx="202.1" cy="124.0" rx="9.3" ry="9.3" fill="rgb(166,166,166)"/>
<ellipse cx="171.1" cy="96.1" rx="9.3" ry="6.2" fill="rgb(178,178,178)"/>
<ellipse cx="177.3" cy="151.9" rx="12.4" ry="9.3" fill="rgb(76,76,76)"/>
</g></g>
<use href="#bd"/><use href="#isl"/></g>
<text x="2286.5" y="2478.6" font-size="56" text-anchor="middle" textLength="113.5" lengthAdjust="spacingAndGlyphs" fill="#000">2018</text>
<g transform="translate(2147.0 2486.0)">
<g clip-path="url(#de)"><g filter="url(#f2)"><rect x="-40" y="-40" width="360" height="440" fill="#000"/>

<ellipse cx="187.5" cy="153.4" rx="1.5" ry="1.5" fill="rgb(102,102,102)"/>
</g></g>
<use href="#bd"/><use href="#isl"/></g>
<text x="2555.5" y="2478.6" font-size="56" text-anchor="middle" textLength="113.5" lengthAdjust="spacingAndGlyphs" fill="#000">2019</text>
<g transform="translate(2416.0 2486.0)">
<g clip-path="url(#de)"><g filter="url(#f3)"><rect x="-40" y="-40" width="360" height="440" fill="#000"/>

<ellipse cx="133.9" cy="223.1" rx="117.8" ry="93.0" fill="rgb(122,122,122)"/>
<ellipse cx="180.4" cy="294.4" rx="46.5" ry="37.2" fill="rgb(38,38,38)"/>
<ellipse cx="102.9" cy="278.9" rx="15.5" ry="21.7" fill="rgb(64,64,64)"/>
<ellipse cx="37.8" cy="244.8" rx="15.5" ry="12.4" fill="rgb(38,38,38)"/>
<ellipse cx="93.6" cy="201.4" rx="9.3" ry="9.3" fill="rgb(51,51,51)"/>
<ellipse cx="226.8" cy="179.7" rx="27.9" ry="21.7" fill="rgb(97,97,97)"/>
<ellipse cx="140.1" cy="192.1" rx="12.4" ry="9.3" fill="rgb(51,51,51)"/>
<ellipse cx="56.4" cy="173.5" rx="31.0" ry="24.8" fill="rgb(163,163,163)"/>
<ellipse cx="34.7" cy="179.7" rx="12.4" ry="18.6" fill="rgb(217,217,217)"/>
<ellipse cx="133.9" cy="229.3" rx="37.2" ry="15.5" fill="rgb(178,178,178)"/>
<ellipse cx="158.7" cy="179.7" rx="18.6" ry="12.4" fill="rgb(171,171,171)"/>
<ellipse cx="56.4" cy="266.5" rx="18.6" ry="12.4" fill="rgb(184,184,184)"/>
<ellipse cx="71.9" cy="210.7" rx="12.4" ry="9.3" fill="rgb(184,184,184)"/>
<ellipse cx="65.7" cy="316.1" rx="12.4" ry="24.8" fill="rgb(184,184,184)"/>
<ellipse cx="118.4" cy="325.4" rx="12.4" ry="12.4" fill="rgb(158,158,158)"/>
<ellipse cx="195.9" cy="155.0" rx="18.6" ry="9.3" fill="rgb(158,158,158)"/>
<path d="M75.0 6.2 127.7 12.4 158.7 27.9 195.9 31.0 226.8 24.8 245.4 55.8 254.7 93.0 257.8 133.3 226.8 145.7 195.9 142.6 133.9 136.4 87.4 130.2 40.9 124.0 31.6 93.0 40.9 68.2 71.9 62.0Z" fill="rgb(217,217,217)"/>
<ellipse cx="180.4" cy="99.2" rx="46.5" ry="24.8" fill="rgb(255,255,255)"/>
<ellipse cx="121.5" cy="49.6" rx="24.8" ry="18.6" fill="rgb(255,255,255)"/>
<ellipse cx="195.9" cy="62.0" rx="31.0" ry="15.5" fill="rgb(235,235,235)"/>
<ellipse cx="87.4" cy="99.2" rx="18.6" ry="12.4" fill="rgb(230,230,230)"/>
</g></g>
<use href="#bd"/><use href="#isl"/></g>
<text x="134.5" y="2884.6" font-size="56" text-anchor="middle" textLength="113.5" lengthAdjust="spacingAndGlyphs" fill="#000">2020</text>
<g transform="translate(-5.0 2892.0)">
<g clip-path="url(#de)"><g filter="url(#f4)"><rect x="-40" y="-40" width="360" height="440" fill="#000"/>

<ellipse cx="153.8" cy="179.7" rx="24.8" ry="37.2" fill="rgb(66,66,66)"/>
<ellipse cx="107.3" cy="309.9" rx="24.8" ry="24.8" fill="rgb(51,51,51)"/>
<ellipse cx="240.5" cy="173.5" rx="34.1" ry="34.1" fill="rgb(140,140,140)"/>
<ellipse cx="246.7" cy="164.2" rx="12.4" ry="18.6" fill="rgb(214,214,214)"/>
<ellipse cx="234.3" cy="192.1" rx="24.8" ry="12.4" fill="rgb(204,204,204)"/>
<ellipse cx="209.5" cy="207.6" rx="12.4" ry="6.2" fill="rgb(196,196,196)"/>
<ellipse cx="252.9" cy="185.9" rx="9.3" ry="12.4" fill="rgb(209,209,209)"/>
<ellipse cx="178.5" cy="288.2" rx="52.7" ry="40.3" fill="rgb(140,140,140)"/>
<ellipse cx="178.5" cy="285.1" rx="27.9" ry="24.8" fill="rgb(204,204,204)"/>
<ellipse cx="190.9" cy="297.5" rx="18.6" ry="12.4" fill="rgb(222,222,222)"/>
<ellipse cx="218.8" cy="297.5" rx="12.4" ry="12.4" fill="rgb(196,196,196)"/>
<ellipse cx="150.7" cy="263.4" rx="9.3" ry="9.3" fill="rgb(178,178,178)"/>
<ellipse cx="169.2" cy="322.3" rx="9.3" ry="6.2" fill="rgb(204,204,204)"/>
<ellipse cx="153.8" cy="328.5" rx="4.6" ry="4.6" fill="rgb(178,178,178)"/>
<ellipse cx="156.9" cy="161.2" rx="4.6" ry="4.6" fill="rgb(153,153,153)"/>
<ellipse cx="135.2" cy="170.4" rx="4.6" ry="4.6" fill="rgb(140,140,140)"/>
<ellipse cx="160.0" cy="213.8" rx="3.1" ry="3.1" fill="rgb(178,178,178)"/>
<ellipse cx="63.9" cy="238.6" rx="2.5" ry="2.5" fill="rgb(128,128,128)"/>
<ellipse cx="197.1" cy="136.4" rx="6.2" ry="4.6" fill="rgb(128,128,128)"/>
</g></g>
<use href="#bd"/><use href="#isl"/></g>
<text x="403.5" y="2884.6" font-size="56" text-anchor="middle" textLength="113.5" lengthAdjust="spacingAndGlyphs" fill="#000">2021</text>
<g transform="translate(264.0 2892.0)">
<g clip-path="url(#de)"><g filter="url(#f5)"><rect x="-40" y="-40" width="360" height="440" fill="#000"/>

<ellipse cx="107.9" cy="185.9" rx="93.0" ry="139.5" fill="rgb(33,33,33)"/>
<ellipse cx="185.4" cy="62.0" rx="18.6" ry="12.4" fill="rgb(46,46,46)"/>
<ellipse cx="123.4" cy="77.5" rx="31.0" ry="55.8" fill="rgb(128,128,128)"/>
<ellipse cx="117.2" cy="18.6" rx="9.3" ry="9.3" fill="rgb(196,196,196)"/>
<ellipse cx="129.6" cy="68.2" rx="12.4" ry="12.4" fill="rgb(184,184,184)"/>
<ellipse cx="151.3" cy="32.5" rx="4.6" ry="4.6" fill="rgb(191,191,191)"/>
<ellipse cx="132.7" cy="124.0" rx="12.4" ry="9.3" fill="rgb(178,178,178)"/>
<ellipse cx="92.4" cy="179.7" rx="52.7" ry="37.2" fill="rgb(153,153,153)"/>
<ellipse cx="76.9" cy="173.5" rx="21.7" ry="18.6" fill="rgb(196,196,196)"/>
<ellipse cx="107.9" cy="185.9" rx="15.5" ry="12.4" fill="rgb(184,184,184)"/>
<ellipse cx="132.7" cy="164.2" rx="12.4" ry="12.4" fill="rgb(184,184,184)"/>
<ellipse cx="123.4" cy="272.7" rx="77.5" ry="55.8" fill="rgb(115,115,115)"/>
<ellipse cx="126.5" cy="272.7" rx="12.4" ry="15.5" fill="rgb(184,184,184)"/>
<ellipse cx="173.0" cy="244.8" rx="15.5" ry="12.4" fill="rgb(184,184,184)"/>
<ellipse cx="61.4" cy="254.1" rx="9.3" ry="18.6" fill="rgb(166,166,166)"/>
<ellipse cx="92.4" cy="309.9" rx="12.4" ry="12.4" fill="rgb(166,166,166)"/>
<ellipse cx="154.4" cy="285.1" rx="12.4" ry="12.4" fill="rgb(166,166,166)"/>
<ellipse cx="76.9" cy="288.2" rx="9.3" ry="9.3" fill="rgb(166,166,166)"/>
<ellipse cx="148.2" cy="325.4" rx="9.3" ry="9.3" fill="rgb(166,166,166)"/>
<ellipse cx="169.9" cy="328.5" rx="6.2" ry="6.2" fill="rgb(153,153,153)"/>
<ellipse cx="145.1" cy="309.9" rx="4.6" ry="4.6" fill="rgb(178,178,178)"/>
<ellipse cx="58.3" cy="272.7" rx="4.6" ry="4.6" fill="rgb(184,184,184)"/>
</g></g>
<use href="#bd"/><use href="#isl"/></g>
<text x="672.5" y="2884.6" font-size="56" text-anchor="middle" textLength="113.5" lengthAdjust="spacingAndGlyphs" fill="#000">2022</text>
<g transform="translate(533.0 2892.0)">
<g clip-path="url(#de)"><g filter="url(#f0)"><rect x="-40" y="-40" width="360" height="440" fill="#000"/>

<ellipse cx="173.5" cy="278.9" rx="55.8" ry="62.0" fill="rgb(28,28,28)"/>
<ellipse cx="27.9" cy="185.9" rx="12.4" ry="12.4" fill="rgb(84,84,84)"/>
<ellipse cx="86.8" cy="145.7" rx="43.4" ry="31.0" fill="rgb(140,140,140)"/>
<ellipse cx="71.3" cy="145.7" rx="21.7" ry="18.6" fill="rgb(214,214,214)"/>
<ellipse cx="99.2" cy="139.5" rx="18.6" ry="9.3" fill="rgb(204,204,204)"/>
<ellipse cx="114.7" cy="155.0" rx="9.3" ry="12.4" fill="rgb(204,204,204)"/>
<ellipse cx="79.0" cy="156.5" rx="15.5" ry="9.9" fill="rgb(76,76,76)"/>
<ellipse cx="93.0" cy="192.1" rx="24.8" ry="31.0" fill="rgb(148,148,148)"/>
<ellipse cx="96.1" cy="189.0" rx="12.4" ry="15.5" fill="rgb(196,196,196)"/>
<ellipse cx="145.7" cy="162.7" rx="6.2" ry="6.2" fill="rgb(178,178,178)"/>
<ellipse cx="46.5" cy="244.8" rx="31.0" ry="24.8" fill="rgb(92,92,92)"/>
<ellipse cx="55.8" cy="247.9" rx="9.3" ry="9.3" fill="rgb(153,153,153)"/>
<ellipse cx="40.3" cy="235.5" rx="6.2" ry="6.2" fill="rgb(153,153,153)"/>
<ellipse cx="93.0" cy="322.3" rx="37.2" ry="21.7" fill="rgb(140,140,140)"/>
<ellipse cx="102.3" cy="325.4" rx="18.6" ry="12.4" fill="rgb(217,217,217)"/>
<ellipse cx="65.1" cy="313.0" rx="6.2" ry="12.4" fill="rgb(196,196,196)"/>
<ellipse cx="108.5" cy="297.5" rx="6.2" ry="4.6" fill="rgb(204,204,204)"/>
<ellipse cx="185.9" cy="309.9" rx="6.2" ry="6.2" fill="rgb(128,128,128)"/>
<ellipse cx="133.3" cy="223.1" rx="9.3" ry="6.2" fill="rgb(128,128,128)"/>
<ellipse cx="142.6" cy="114.7" rx="3.1" ry="3.1" fill="rgb(128,128,128)"/>
<ellipse cx="151.9" cy="41.8" rx="2.5" ry="2.5" fill="rgb(115,115,115)"/>
</g></g>
<use href="#bd"/><use href="#isl"/></g>
<text x="941.5" y="2884.6" font-size="56" text-anchor="middle" textLength="113.5" lengthAdjust="spacingAndGlyphs" fill="#000">2023</text>
<g transform="translate(802.0 2892.0)">
<g clip-path="url(#de)"><g filter="url(#f1)"><rect x="-40" y="-40" width="360" height="440" fill="#000"/>

<ellipse cx="149.4" cy="102.3" rx="108.5" ry="80.6" fill="rgb(92,92,92)"/>
<ellipse cx="195.9" cy="74.4" rx="15.5" ry="12.4" fill="rgb(38,38,38)"/>
<ellipse cx="127.7" cy="55.8" rx="12.4" ry="12.4" fill="rgb(51,51,51)"/>
<ellipse cx="87.4" cy="182.8" rx="37.2" ry="15.5" fill="rgb(64,64,64)"/>
<ellipse cx="195.9" cy="102.3" rx="15.5" ry="18.6" fill="rgb(38,38,38)"/>
<ellipse cx="118.4" cy="71.3" rx="12.4" ry="9.3" fill="rgb(38,38,38)"/>
<ellipse cx="78.1" cy="111.6" rx="12.4" ry="12.4" fill="rgb(51,51,51)"/>
<ellipse cx="171.1" cy="136.4" rx="12.4" ry="9.3" fill="rgb(51,51,51)"/>
<ellipse cx="124.6" cy="111.6" rx="24.8" ry="18.6" fill="rgb(140,140,140)"/>
<ellipse cx="65.7" cy="145.7" rx="31.0" ry="18.6" fill="rgb(140,140,140)"/>
<ellipse cx="53.3" cy="151.9" rx="6.2" ry="6.2" fill="rgb(191,191,191)"/>
<ellipse cx="168.0" cy="62.0" rx="21.7" ry="9.3" fill="rgb(209,209,209)"/>
<ellipse cx="152.5" cy="41.8" rx="6.2" ry="6.2" fill="rgb(196,196,196)"/>
<ellipse cx="233.0" cy="62.0" rx="9.3" ry="15.5" fill="rgb(204,204,204)"/>
<ellipse cx="234.6" cy="108.5" rx="7.7" ry="18.6" fill="rgb(209,209,209)"/>
<ellipse cx="223.7" cy="145.7" rx="4.6" ry="4.6" fill="rgb(196,196,196)"/>
<ellipse cx="220.6" cy="31.0" rx="6.2" ry="6.2" fill="rgb(204,204,204)"/>
<ellipse cx="133.9" cy="155.0" rx="27.9" ry="9.3" fill="rgb(196,196,196)" transform="rotate(25 133.87591421842075 154.9522746993926)"/>
<ellipse cx="137.0" cy="158.1" rx="12.4" ry="6.2" fill="rgb(217,217,217)"/>
<ellipse cx="158.7" cy="207.6" rx="24.8" ry="9.3" fill="rgb(115,115,115)"/>
<ellipse cx="155.6" cy="210.7" rx="4.6" ry="3.1" fill="rgb(191,191,191)"/>
<ellipse cx="211.4" cy="198.3" rx="9.3" ry="6.2" fill="rgb(115,115,115)"/>
<ellipse cx="127.7" cy="189.0" rx="2.5" ry="3.1" fill="rgb(196,196,196)"/>
<ellipse cx="22.3" cy="207.6" rx="4.6" ry="3.7" fill="rgb(153,153,153)"/>
<ellipse cx="158.7" cy="309.9" rx="9.3" ry="4.6" fill="rgb(76,76,76)"/>
<ellipse cx="257.8" cy="179.7" rx="3.1" ry="6.2" fill="rgb(153,153,153)"/>
</g></g>
<use href="#bd"/><use href="#isl"/></g>
<text x="1210.5" y="2884.6" font-size="56" text-anchor="middle" textLength="113.5" lengthAdjust="spacingAndGlyphs" fill="#000">2024</text>
<g transform="translate(1071.0 2892.0)">
<use href="#bd"/><use href="#isl"/></g>
<text x="1479.5" y="2884.6" font-size="56" text-anchor="middle" textLength="113.5" lengthAdjust="spacingAndGlyphs" fill="#000">2025</text>
<g transform="translate(1340.0 2892.0)">
<g clip-path="url(#de)"><g filter="url(#f3)"><rect x="-40" y="-40" width="360" height="440" fill="#000"/>

<ellipse cx="180.4" cy="173.5" rx="4.6" ry="4.6" fill="rgb(140,140,140)"/>
<ellipse cx="195.9" cy="176.6" rx="9.3" ry="6.2" fill="rgb(64,64,64)"/>
<ellipse cx="222.2" cy="125.5" rx="4.6" ry="3.1" fill="rgb(115,115,115)"/>
<ellipse cx="245.4" cy="93.0" rx="3.1" ry="4.6" fill="rgb(115,115,115)"/>
<ellipse cx="150.9" cy="224.7" rx="3.7" ry="3.1" fill="rgb(115,115,115)"/>
<ellipse cx="67.2" cy="227.8" rx="1.9" ry="1.9" fill="rgb(153,153,153)"/>
<ellipse cx="96.7" cy="289.8" rx="2.5" ry="1.9" fill="rgb(140,140,140)"/>
<ellipse cx="106.0" cy="282.0" rx="6.2" ry="4.6" fill="rgb(64,64,64)"/>
<ellipse cx="209.8" cy="340.9" rx="2.5" ry="4.6" fill="rgb(153,153,153)"/>
<ellipse cx="214.5" cy="294.4" rx="9.3" ry="4.6" fill="rgb(51,51,51)"/>
<ellipse cx="149.4" cy="247.9" rx="18.6" ry="12.4" fill="rgb(38,38,38)"/>
<ellipse cx="106.0" cy="37.2" rx="12.4" ry="18.6" fill="rgb(36,36,36)"/>
</g></g>
<use href="#bd"/><use href="#isl"/></g>
<text x="1748.5" y="2884.6" font-size="56" text-anchor="middle" textLength="113.5" lengthAdjust="spacingAndGlyphs" fill="#000">2026</text>
<g transform="translate(1609.0 2892.0)">
<g clip-path="url(#de)"><g filter="url(#f4)"><rect x="-40" y="-40" width="360" height="440" fill="#000"/>

<ellipse cx="139.5" cy="145.7" rx="124.0" ry="99.2" fill="rgb(97,97,97)"/>
<ellipse cx="173.5" cy="294.4" rx="52.7" ry="52.7" fill="rgb(76,76,76)"/>
<ellipse cx="99.2" cy="294.4" rx="31.0" ry="37.2" fill="rgb(71,71,71)"/>
<ellipse cx="62.0" cy="83.7" rx="24.8" ry="18.6" fill="rgb(31,31,31)"/>
<ellipse cx="111.6" cy="40.3" rx="34.1" ry="27.9" fill="rgb(10,10,10)"/>
<ellipse cx="52.7" cy="89.9" rx="23.2" ry="23.2" fill="rgb(18,18,18)"/>
<ellipse cx="21.7" cy="185.9" rx="13.9" ry="34.1" fill="rgb(26,26,26)"/>
<ellipse cx="37.2" cy="247.9" rx="21.7" ry="24.8" fill="rgb(26,26,26)"/>
<ellipse cx="155.0" cy="247.9" rx="18.6" ry="27.9" fill="rgb(31,31,31)"/>
<ellipse cx="130.2" cy="77.5" rx="12.4" ry="12.4" fill="rgb(51,51,51)"/>
<ellipse cx="117.8" cy="124.0" rx="55.8" ry="24.8" fill="rgb(173,173,173)"/>
<ellipse cx="130.2" cy="117.8" rx="18.6" ry="12.4" fill="rgb(163,163,163)"/>
<ellipse cx="74.4" cy="182.8" rx="31.0" ry="18.6" fill="rgb(178,178,178)"/>
<ellipse cx="71.3" cy="173.5" rx="9.3" ry="6.2" fill="rgb(194,194,194)"/>
<ellipse cx="148.8" cy="173.5" rx="31.0" ry="24.8" fill="rgb(178,178,178)"/>
<ellipse cx="161.2" cy="158.1" rx="12.4" ry="9.3" fill="rgb(189,189,189)"/>
<ellipse cx="114.7" cy="201.4" rx="9.3" ry="12.4" fill="rgb(189,189,189)"/>
<ellipse cx="210.7" cy="185.9" rx="24.8" ry="18.6" fill="rgb(184,184,184)"/>
<ellipse cx="229.3" cy="99.2" rx="12.4" ry="24.8" fill="rgb(163,163,163)"/>
<ellipse cx="220.0" cy="125.5" rx="6.2" ry="6.2" fill="rgb(176,176,176)"/>
<ellipse cx="192.1" cy="68.2" rx="24.8" ry="21.7" fill="rgb(143,143,143)"/>
<ellipse cx="201.4" cy="58.9" rx="6.2" ry="6.2" fill="rgb(184,184,184)"/>
<ellipse cx="223.1" cy="31.0" rx="6.2" ry="9.3" fill="rgb(171,171,171)"/>
<ellipse cx="148.8" cy="40.3" rx="7.7" ry="6.2" fill="rgb(184,184,184)"/>
<ellipse cx="52.7" cy="220.0" rx="15.5" ry="9.3" fill="rgb(178,178,178)"/>
<ellipse cx="201.4" cy="278.9" rx="27.9" ry="34.1" fill="rgb(158,158,158)"/>
<ellipse cx="201.4" cy="291.3" rx="15.5" ry="15.5" fill="rgb(189,189,189)"/>
<ellipse cx="179.7" cy="328.5" rx="31.0" ry="12.4" fill="rgb(171,171,171)"/>
<ellipse cx="176.6" cy="328.5" rx="15.5" ry="6.2" fill="rgb(189,189,189)"/>
<ellipse cx="96.1" cy="155.0" rx="6.2" ry="6.2" fill="rgb(51,51,51)"/>
<ellipse cx="133.3" cy="133.3" rx="4.6" ry="4.6" fill="rgb(76,76,76)"/>
<ellipse cx="93.0" cy="201.4" rx="12.4" ry="9.3" fill="rgb(56,56,56)"/>
<ellipse cx="241.7" cy="139.5" rx="12.4" ry="24.8" fill="rgb(76,76,76)"/>
</g></g>
<use href="#bd"/><use href="#isl"/></g>
<text x="1346" y="3272" font-size="30" text-anchor="middle" textLength="776.3" lengthAdjust="spacingAndGlyphs" fill="#000">© UFZ-Dürremonitor/ Helmholtz-Zentrum für Umweltforschung</text>
</svg></body></html>
